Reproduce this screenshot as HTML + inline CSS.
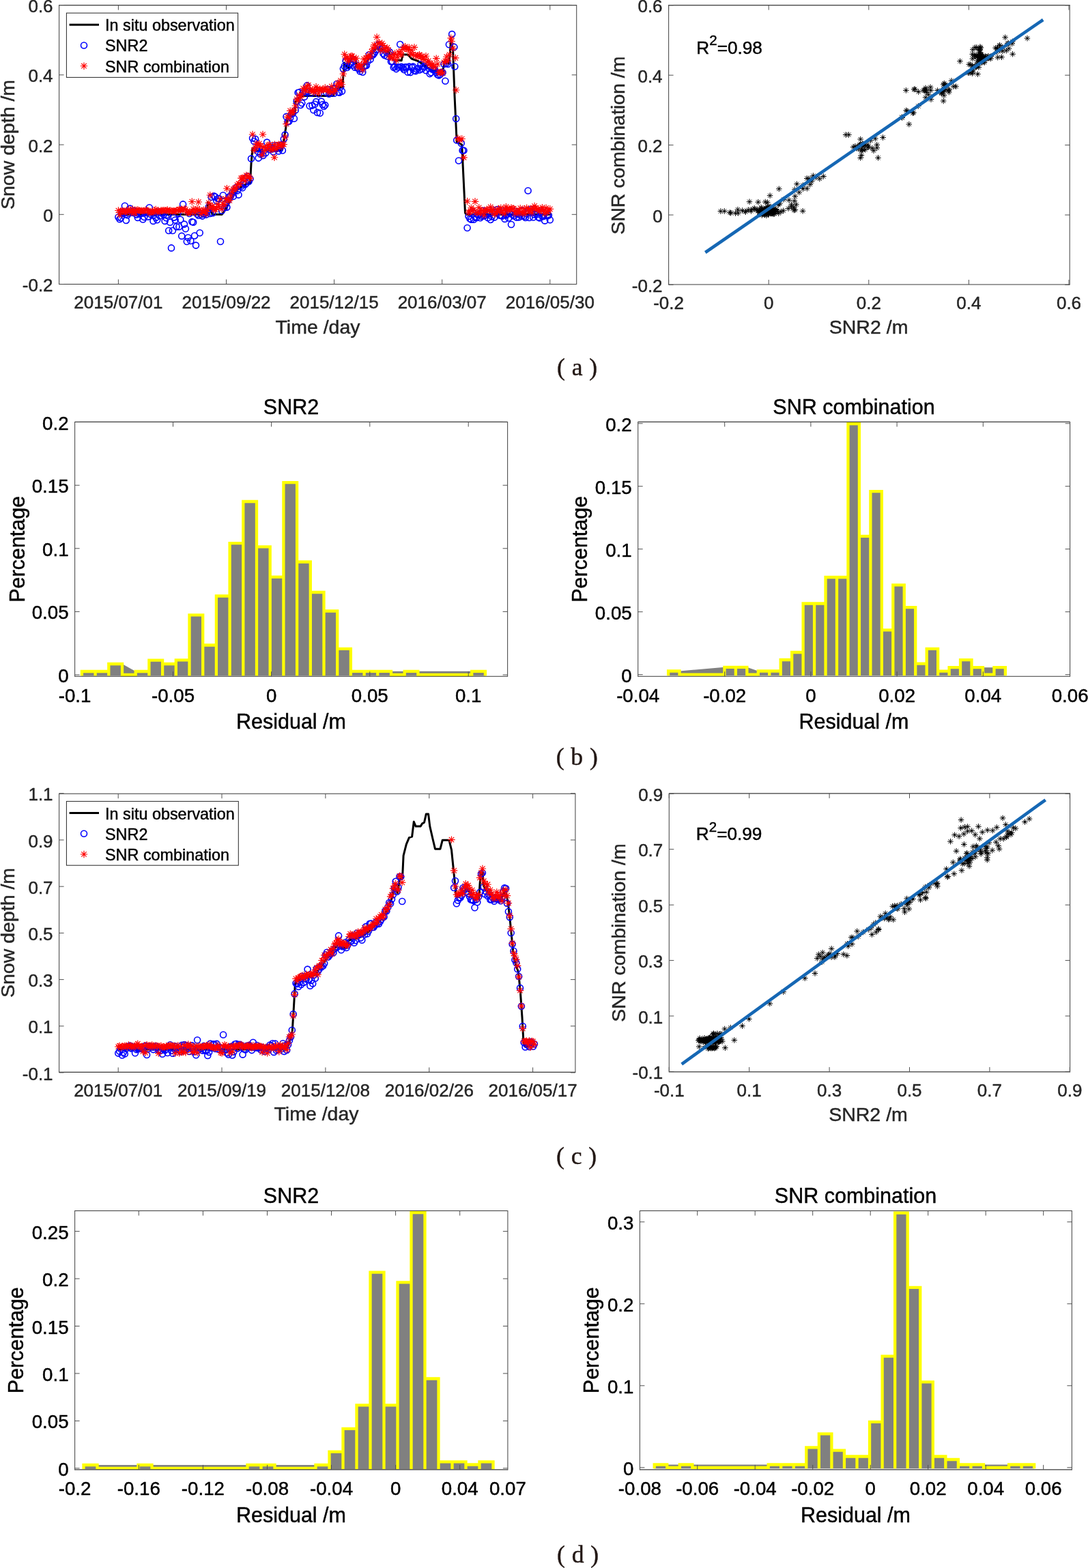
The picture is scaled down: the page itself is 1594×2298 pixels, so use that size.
<!DOCTYPE html>
<html lang="en"><head><meta charset="utf-8"><title>Snow depth figure</title>
<style>
html,body{margin:0;padding:0;background:#fff;overflow:hidden;}
svg{display:block;font-family:"Liberation Sans", Arial, Helvetica, sans-serif;}
text{stroke-width:0.45px;stroke-linejoin:round;}
</style></head>
<body>
<svg width="1594" height="2298" viewBox="0 0 1594 2298">
<rect width="1594" height="2298" fill="#fff"/>
<g>
<path d="M173.4 314.3L303.5 314.3L304.5 296.5L308.0 300.0L311.0 314.3L325.0 314.3L327.0 312.0L336.0 297.0L345.0 280.0L352.0 275.0L360.0 270.0L366.5 268.0L368.0 240.0L370.0 217.0L373.0 220.5L413.0 220.5L416.0 205.0L420.7 175.0L426.0 170.0L432.0 167.0L433.0 149.0L438.0 144.0L443.0 140.5L488.5 140.5L490.3 131.0L501.6 127.3L503.0 110.0L504.5 92.0L508.0 97.0L511.0 100.0L513.0 86.0L521.4 86.0L522.3 97.0L531.8 98.0L540.0 86.0L550.6 71.0L560.0 73.0L569.4 76.5L573.0 84.0L577.0 88.0L588.2 88.7L590.0 80.0L597.6 80.0L603.0 86.0L612.7 89.6L622.0 96.0L631.5 102.8L648.4 104.7L651.3 91.5L657.9 93.4L659.5 75.0L660.7 57.6L663.5 70.8L666.0 140.0L669.2 208.0L676.7 212.0L679.0 260.0L681.5 312.0L683.0 314.3L807.5 314.3" fill="none" stroke="#000" stroke-width="3" stroke-linejoin="round"/>
<path d="M168.9 318.2a4.5 4.5 0 1 0 9.0 0a4.5 4.5 0 1 0 -9.0 0M170.8 321.2a4.5 4.5 0 1 0 9.0 0a4.5 4.5 0 1 0 -9.0 0M172.7 319.3a4.5 4.5 0 1 0 9.0 0a4.5 4.5 0 1 0 -9.0 0M174.6 310.8a4.5 4.5 0 1 0 9.0 0a4.5 4.5 0 1 0 -9.0 0M176.5 312.8a4.5 4.5 0 1 0 9.0 0a4.5 4.5 0 1 0 -9.0 0M178.4 301.8a4.5 4.5 0 1 0 9.0 0a4.5 4.5 0 1 0 -9.0 0M180.3 323.0a4.5 4.5 0 1 0 9.0 0a4.5 4.5 0 1 0 -9.0 0M182.2 315.3a4.5 4.5 0 1 0 9.0 0a4.5 4.5 0 1 0 -9.0 0M184.0 312.7a4.5 4.5 0 1 0 9.0 0a4.5 4.5 0 1 0 -9.0 0M185.9 305.6a4.5 4.5 0 1 0 9.0 0a4.5 4.5 0 1 0 -9.0 0M187.8 310.4a4.5 4.5 0 1 0 9.0 0a4.5 4.5 0 1 0 -9.0 0M189.7 311.6a4.5 4.5 0 1 0 9.0 0a4.5 4.5 0 1 0 -9.0 0M191.6 308.9a4.5 4.5 0 1 0 9.0 0a4.5 4.5 0 1 0 -9.0 0M193.5 310.8a4.5 4.5 0 1 0 9.0 0a4.5 4.5 0 1 0 -9.0 0M195.4 314.6a4.5 4.5 0 1 0 9.0 0a4.5 4.5 0 1 0 -9.0 0M197.3 318.9a4.5 4.5 0 1 0 9.0 0a4.5 4.5 0 1 0 -9.0 0M199.2 313.7a4.5 4.5 0 1 0 9.0 0a4.5 4.5 0 1 0 -9.0 0M201.1 313.3a4.5 4.5 0 1 0 9.0 0a4.5 4.5 0 1 0 -9.0 0M203.0 312.4a4.5 4.5 0 1 0 9.0 0a4.5 4.5 0 1 0 -9.0 0M204.9 321.5a4.5 4.5 0 1 0 9.0 0a4.5 4.5 0 1 0 -9.0 0M206.8 318.1a4.5 4.5 0 1 0 9.0 0a4.5 4.5 0 1 0 -9.0 0M208.7 311.6a4.5 4.5 0 1 0 9.0 0a4.5 4.5 0 1 0 -9.0 0M210.6 310.1a4.5 4.5 0 1 0 9.0 0a4.5 4.5 0 1 0 -9.0 0M212.4 317.6a4.5 4.5 0 1 0 9.0 0a4.5 4.5 0 1 0 -9.0 0M214.3 304.2a4.5 4.5 0 1 0 9.0 0a4.5 4.5 0 1 0 -9.0 0M216.2 313.9a4.5 4.5 0 1 0 9.0 0a4.5 4.5 0 1 0 -9.0 0M218.1 311.6a4.5 4.5 0 1 0 9.0 0a4.5 4.5 0 1 0 -9.0 0M220.0 323.9a4.5 4.5 0 1 0 9.0 0a4.5 4.5 0 1 0 -9.0 0M221.9 312.2a4.5 4.5 0 1 0 9.0 0a4.5 4.5 0 1 0 -9.0 0M223.8 318.9a4.5 4.5 0 1 0 9.0 0a4.5 4.5 0 1 0 -9.0 0M225.7 322.2a4.5 4.5 0 1 0 9.0 0a4.5 4.5 0 1 0 -9.0 0M227.6 310.6a4.5 4.5 0 1 0 9.0 0a4.5 4.5 0 1 0 -9.0 0M229.5 316.5a4.5 4.5 0 1 0 9.0 0a4.5 4.5 0 1 0 -9.0 0M231.4 311.7a4.5 4.5 0 1 0 9.0 0a4.5 4.5 0 1 0 -9.0 0M233.3 311.7a4.5 4.5 0 1 0 9.0 0a4.5 4.5 0 1 0 -9.0 0M235.2 314.4a4.5 4.5 0 1 0 9.0 0a4.5 4.5 0 1 0 -9.0 0M237.1 323.9a4.5 4.5 0 1 0 9.0 0a4.5 4.5 0 1 0 -9.0 0M239.0 319.3a4.5 4.5 0 1 0 9.0 0a4.5 4.5 0 1 0 -9.0 0M240.8 315.0a4.5 4.5 0 1 0 9.0 0a4.5 4.5 0 1 0 -9.0 0M242.7 338.0a4.5 4.5 0 1 0 9.0 0a4.5 4.5 0 1 0 -9.0 0M244.6 325.7a4.5 4.5 0 1 0 9.0 0a4.5 4.5 0 1 0 -9.0 0M246.5 363.4a4.5 4.5 0 1 0 9.0 0a4.5 4.5 0 1 0 -9.0 0M248.4 338.0a4.5 4.5 0 1 0 9.0 0a4.5 4.5 0 1 0 -9.0 0M250.3 318.7a4.5 4.5 0 1 0 9.0 0a4.5 4.5 0 1 0 -9.0 0M252.2 322.5a4.5 4.5 0 1 0 9.0 0a4.5 4.5 0 1 0 -9.0 0M254.1 332.3a4.5 4.5 0 1 0 9.0 0a4.5 4.5 0 1 0 -9.0 0M256.0 312.6a4.5 4.5 0 1 0 9.0 0a4.5 4.5 0 1 0 -9.0 0M257.9 332.3a4.5 4.5 0 1 0 9.0 0a4.5 4.5 0 1 0 -9.0 0M259.8 321.8a4.5 4.5 0 1 0 9.0 0a4.5 4.5 0 1 0 -9.0 0M261.7 345.9a4.5 4.5 0 1 0 9.0 0a4.5 4.5 0 1 0 -9.0 0M263.6 299.4a4.5 4.5 0 1 0 9.0 0a4.5 4.5 0 1 0 -9.0 0M265.5 328.6a4.5 4.5 0 1 0 9.0 0a4.5 4.5 0 1 0 -9.0 0M267.4 335.2a4.5 4.5 0 1 0 9.0 0a4.5 4.5 0 1 0 -9.0 0M269.3 354.0a4.5 4.5 0 1 0 9.0 0a4.5 4.5 0 1 0 -9.0 0M271.1 348.3a4.5 4.5 0 1 0 9.0 0a4.5 4.5 0 1 0 -9.0 0M273.0 313.0a4.5 4.5 0 1 0 9.0 0a4.5 4.5 0 1 0 -9.0 0M274.9 353.0a4.5 4.5 0 1 0 9.0 0a4.5 4.5 0 1 0 -9.0 0M276.8 325.1a4.5 4.5 0 1 0 9.0 0a4.5 4.5 0 1 0 -9.0 0M278.7 325.8a4.5 4.5 0 1 0 9.0 0a4.5 4.5 0 1 0 -9.0 0M280.6 345.5a4.5 4.5 0 1 0 9.0 0a4.5 4.5 0 1 0 -9.0 0M282.5 359.6a4.5 4.5 0 1 0 9.0 0a4.5 4.5 0 1 0 -9.0 0M284.4 313.7a4.5 4.5 0 1 0 9.0 0a4.5 4.5 0 1 0 -9.0 0M286.3 315.7a4.5 4.5 0 1 0 9.0 0a4.5 4.5 0 1 0 -9.0 0M288.2 341.2a4.5 4.5 0 1 0 9.0 0a4.5 4.5 0 1 0 -9.0 0M290.1 314.2a4.5 4.5 0 1 0 9.0 0a4.5 4.5 0 1 0 -9.0 0M292.0 316.6a4.5 4.5 0 1 0 9.0 0a4.5 4.5 0 1 0 -9.0 0M293.9 313.6a4.5 4.5 0 1 0 9.0 0a4.5 4.5 0 1 0 -9.0 0M295.8 312.7a4.5 4.5 0 1 0 9.0 0a4.5 4.5 0 1 0 -9.0 0M297.7 314.6a4.5 4.5 0 1 0 9.0 0a4.5 4.5 0 1 0 -9.0 0M299.5 310.0a4.5 4.5 0 1 0 9.0 0a4.5 4.5 0 1 0 -9.0 0M301.4 302.9a4.5 4.5 0 1 0 9.0 0a4.5 4.5 0 1 0 -9.0 0M303.3 313.0a4.5 4.5 0 1 0 9.0 0a4.5 4.5 0 1 0 -9.0 0M305.2 288.7a4.5 4.5 0 1 0 9.0 0a4.5 4.5 0 1 0 -9.0 0M307.1 312.3a4.5 4.5 0 1 0 9.0 0a4.5 4.5 0 1 0 -9.0 0M309.0 287.3a4.5 4.5 0 1 0 9.0 0a4.5 4.5 0 1 0 -9.0 0M310.9 288.4a4.5 4.5 0 1 0 9.0 0a4.5 4.5 0 1 0 -9.0 0M312.8 294.2a4.5 4.5 0 1 0 9.0 0a4.5 4.5 0 1 0 -9.0 0M314.7 291.0a4.5 4.5 0 1 0 9.0 0a4.5 4.5 0 1 0 -9.0 0M316.6 291.2a4.5 4.5 0 1 0 9.0 0a4.5 4.5 0 1 0 -9.0 0M318.5 354.0a4.5 4.5 0 1 0 9.0 0a4.5 4.5 0 1 0 -9.0 0M320.4 308.8a4.5 4.5 0 1 0 9.0 0a4.5 4.5 0 1 0 -9.0 0M322.3 286.2a4.5 4.5 0 1 0 9.0 0a4.5 4.5 0 1 0 -9.0 0M324.2 304.4a4.5 4.5 0 1 0 9.0 0a4.5 4.5 0 1 0 -9.0 0M326.1 299.0a4.5 4.5 0 1 0 9.0 0a4.5 4.5 0 1 0 -9.0 0M327.9 303.8a4.5 4.5 0 1 0 9.0 0a4.5 4.5 0 1 0 -9.0 0M329.8 293.5a4.5 4.5 0 1 0 9.0 0a4.5 4.5 0 1 0 -9.0 0M331.7 288.0a4.5 4.5 0 1 0 9.0 0a4.5 4.5 0 1 0 -9.0 0M333.6 287.3a4.5 4.5 0 1 0 9.0 0a4.5 4.5 0 1 0 -9.0 0M335.5 283.2a4.5 4.5 0 1 0 9.0 0a4.5 4.5 0 1 0 -9.0 0M337.4 287.7a4.5 4.5 0 1 0 9.0 0a4.5 4.5 0 1 0 -9.0 0M339.3 279.3a4.5 4.5 0 1 0 9.0 0a4.5 4.5 0 1 0 -9.0 0M341.2 275.1a4.5 4.5 0 1 0 9.0 0a4.5 4.5 0 1 0 -9.0 0M343.1 279.4a4.5 4.5 0 1 0 9.0 0a4.5 4.5 0 1 0 -9.0 0M345.0 285.6a4.5 4.5 0 1 0 9.0 0a4.5 4.5 0 1 0 -9.0 0M346.9 272.0a4.5 4.5 0 1 0 9.0 0a4.5 4.5 0 1 0 -9.0 0M348.8 273.2a4.5 4.5 0 1 0 9.0 0a4.5 4.5 0 1 0 -9.0 0M350.7 275.2a4.5 4.5 0 1 0 9.0 0a4.5 4.5 0 1 0 -9.0 0M352.6 269.1a4.5 4.5 0 1 0 9.0 0a4.5 4.5 0 1 0 -9.0 0M354.5 270.4a4.5 4.5 0 1 0 9.0 0a4.5 4.5 0 1 0 -9.0 0M356.3 268.8a4.5 4.5 0 1 0 9.0 0a4.5 4.5 0 1 0 -9.0 0M358.2 258.3a4.5 4.5 0 1 0 9.0 0a4.5 4.5 0 1 0 -9.0 0M360.1 265.9a4.5 4.5 0 1 0 9.0 0a4.5 4.5 0 1 0 -9.0 0M362.0 262.3a4.5 4.5 0 1 0 9.0 0a4.5 4.5 0 1 0 -9.0 0M367.7 207.0a4.5 4.5 0 1 0 9.0 0a4.5 4.5 0 1 0 -9.0 0M369.6 203.7a4.5 4.5 0 1 0 9.0 0a4.5 4.5 0 1 0 -9.0 0M371.5 217.6a4.5 4.5 0 1 0 9.0 0a4.5 4.5 0 1 0 -9.0 0M373.4 221.9a4.5 4.5 0 1 0 9.0 0a4.5 4.5 0 1 0 -9.0 0M375.3 218.3a4.5 4.5 0 1 0 9.0 0a4.5 4.5 0 1 0 -9.0 0M377.2 225.9a4.5 4.5 0 1 0 9.0 0a4.5 4.5 0 1 0 -9.0 0M379.1 219.6a4.5 4.5 0 1 0 9.0 0a4.5 4.5 0 1 0 -9.0 0M381.0 227.9a4.5 4.5 0 1 0 9.0 0a4.5 4.5 0 1 0 -9.0 0M382.9 219.9a4.5 4.5 0 1 0 9.0 0a4.5 4.5 0 1 0 -9.0 0M384.7 224.2a4.5 4.5 0 1 0 9.0 0a4.5 4.5 0 1 0 -9.0 0M386.6 208.6a4.5 4.5 0 1 0 9.0 0a4.5 4.5 0 1 0 -9.0 0M388.5 216.2a4.5 4.5 0 1 0 9.0 0a4.5 4.5 0 1 0 -9.0 0M390.4 219.2a4.5 4.5 0 1 0 9.0 0a4.5 4.5 0 1 0 -9.0 0M392.3 215.7a4.5 4.5 0 1 0 9.0 0a4.5 4.5 0 1 0 -9.0 0M394.2 218.4a4.5 4.5 0 1 0 9.0 0a4.5 4.5 0 1 0 -9.0 0M396.1 222.5a4.5 4.5 0 1 0 9.0 0a4.5 4.5 0 1 0 -9.0 0M398.0 213.2a4.5 4.5 0 1 0 9.0 0a4.5 4.5 0 1 0 -9.0 0M399.9 218.2a4.5 4.5 0 1 0 9.0 0a4.5 4.5 0 1 0 -9.0 0M401.8 213.2a4.5 4.5 0 1 0 9.0 0a4.5 4.5 0 1 0 -9.0 0M403.7 221.5a4.5 4.5 0 1 0 9.0 0a4.5 4.5 0 1 0 -9.0 0M405.6 217.5a4.5 4.5 0 1 0 9.0 0a4.5 4.5 0 1 0 -9.0 0M407.5 212.4a4.5 4.5 0 1 0 9.0 0a4.5 4.5 0 1 0 -9.0 0M409.4 220.5a4.5 4.5 0 1 0 9.0 0a4.5 4.5 0 1 0 -9.0 0M411.3 203.7a4.5 4.5 0 1 0 9.0 0a4.5 4.5 0 1 0 -9.0 0M413.1 197.6a4.5 4.5 0 1 0 9.0 0a4.5 4.5 0 1 0 -9.0 0M415.0 170.9a4.5 4.5 0 1 0 9.0 0a4.5 4.5 0 1 0 -9.0 0M416.9 178.4a4.5 4.5 0 1 0 9.0 0a4.5 4.5 0 1 0 -9.0 0M418.8 177.9a4.5 4.5 0 1 0 9.0 0a4.5 4.5 0 1 0 -9.0 0M420.7 172.8a4.5 4.5 0 1 0 9.0 0a4.5 4.5 0 1 0 -9.0 0M422.6 167.1a4.5 4.5 0 1 0 9.0 0a4.5 4.5 0 1 0 -9.0 0M424.5 166.3a4.5 4.5 0 1 0 9.0 0a4.5 4.5 0 1 0 -9.0 0M426.4 173.8a4.5 4.5 0 1 0 9.0 0a4.5 4.5 0 1 0 -9.0 0M428.3 161.5a4.5 4.5 0 1 0 9.0 0a4.5 4.5 0 1 0 -9.0 0M430.2 148.4a4.5 4.5 0 1 0 9.0 0a4.5 4.5 0 1 0 -9.0 0M432.1 135.8a4.5 4.5 0 1 0 9.0 0a4.5 4.5 0 1 0 -9.0 0M434.0 135.2a4.5 4.5 0 1 0 9.0 0a4.5 4.5 0 1 0 -9.0 0M435.9 154.0a4.5 4.5 0 1 0 9.0 0a4.5 4.5 0 1 0 -9.0 0M437.8 151.0a4.5 4.5 0 1 0 9.0 0a4.5 4.5 0 1 0 -9.0 0M439.7 135.3a4.5 4.5 0 1 0 9.0 0a4.5 4.5 0 1 0 -9.0 0M441.5 141.9a4.5 4.5 0 1 0 9.0 0a4.5 4.5 0 1 0 -9.0 0M443.4 135.3a4.5 4.5 0 1 0 9.0 0a4.5 4.5 0 1 0 -9.0 0M445.3 125.4a4.5 4.5 0 1 0 9.0 0a4.5 4.5 0 1 0 -9.0 0M447.2 133.8a4.5 4.5 0 1 0 9.0 0a4.5 4.5 0 1 0 -9.0 0M449.1 155.3a4.5 4.5 0 1 0 9.0 0a4.5 4.5 0 1 0 -9.0 0M451.0 136.7a4.5 4.5 0 1 0 9.0 0a4.5 4.5 0 1 0 -9.0 0M452.9 154.6a4.5 4.5 0 1 0 9.0 0a4.5 4.5 0 1 0 -9.0 0M454.8 161.2a4.5 4.5 0 1 0 9.0 0a4.5 4.5 0 1 0 -9.0 0M456.7 152.8a4.5 4.5 0 1 0 9.0 0a4.5 4.5 0 1 0 -9.0 0M458.6 149.1a4.5 4.5 0 1 0 9.0 0a4.5 4.5 0 1 0 -9.0 0M460.5 164.9a4.5 4.5 0 1 0 9.0 0a4.5 4.5 0 1 0 -9.0 0M462.4 137.7a4.5 4.5 0 1 0 9.0 0a4.5 4.5 0 1 0 -9.0 0M464.3 165.8a4.5 4.5 0 1 0 9.0 0a4.5 4.5 0 1 0 -9.0 0M466.2 148.6a4.5 4.5 0 1 0 9.0 0a4.5 4.5 0 1 0 -9.0 0M468.1 153.2a4.5 4.5 0 1 0 9.0 0a4.5 4.5 0 1 0 -9.0 0M470.0 156.0a4.5 4.5 0 1 0 9.0 0a4.5 4.5 0 1 0 -9.0 0M471.8 154.1a4.5 4.5 0 1 0 9.0 0a4.5 4.5 0 1 0 -9.0 0M473.7 135.5a4.5 4.5 0 1 0 9.0 0a4.5 4.5 0 1 0 -9.0 0M475.6 130.9a4.5 4.5 0 1 0 9.0 0a4.5 4.5 0 1 0 -9.0 0M477.5 137.8a4.5 4.5 0 1 0 9.0 0a4.5 4.5 0 1 0 -9.0 0M479.4 135.9a4.5 4.5 0 1 0 9.0 0a4.5 4.5 0 1 0 -9.0 0M481.3 133.1a4.5 4.5 0 1 0 9.0 0a4.5 4.5 0 1 0 -9.0 0M483.2 130.1a4.5 4.5 0 1 0 9.0 0a4.5 4.5 0 1 0 -9.0 0M485.1 136.7a4.5 4.5 0 1 0 9.0 0a4.5 4.5 0 1 0 -9.0 0M487.0 129.8a4.5 4.5 0 1 0 9.0 0a4.5 4.5 0 1 0 -9.0 0M488.9 123.0a4.5 4.5 0 1 0 9.0 0a4.5 4.5 0 1 0 -9.0 0M490.8 135.0a4.5 4.5 0 1 0 9.0 0a4.5 4.5 0 1 0 -9.0 0M492.7 135.7a4.5 4.5 0 1 0 9.0 0a4.5 4.5 0 1 0 -9.0 0M494.6 127.5a4.5 4.5 0 1 0 9.0 0a4.5 4.5 0 1 0 -9.0 0M496.5 133.8a4.5 4.5 0 1 0 9.0 0a4.5 4.5 0 1 0 -9.0 0M498.4 100.7a4.5 4.5 0 1 0 9.0 0a4.5 4.5 0 1 0 -9.0 0M500.2 96.9a4.5 4.5 0 1 0 9.0 0a4.5 4.5 0 1 0 -9.0 0M502.1 89.2a4.5 4.5 0 1 0 9.0 0a4.5 4.5 0 1 0 -9.0 0M504.0 99.0a4.5 4.5 0 1 0 9.0 0a4.5 4.5 0 1 0 -9.0 0M505.9 96.5a4.5 4.5 0 1 0 9.0 0a4.5 4.5 0 1 0 -9.0 0M507.8 92.7a4.5 4.5 0 1 0 9.0 0a4.5 4.5 0 1 0 -9.0 0M509.7 93.0a4.5 4.5 0 1 0 9.0 0a4.5 4.5 0 1 0 -9.0 0M511.6 95.5a4.5 4.5 0 1 0 9.0 0a4.5 4.5 0 1 0 -9.0 0M513.5 87.5a4.5 4.5 0 1 0 9.0 0a4.5 4.5 0 1 0 -9.0 0M515.4 98.8a4.5 4.5 0 1 0 9.0 0a4.5 4.5 0 1 0 -9.0 0M517.3 95.0a4.5 4.5 0 1 0 9.0 0a4.5 4.5 0 1 0 -9.0 0M519.2 99.7a4.5 4.5 0 1 0 9.0 0a4.5 4.5 0 1 0 -9.0 0M521.1 101.3a4.5 4.5 0 1 0 9.0 0a4.5 4.5 0 1 0 -9.0 0M523.0 104.4a4.5 4.5 0 1 0 9.0 0a4.5 4.5 0 1 0 -9.0 0M524.9 100.8a4.5 4.5 0 1 0 9.0 0a4.5 4.5 0 1 0 -9.0 0M526.8 105.7a4.5 4.5 0 1 0 9.0 0a4.5 4.5 0 1 0 -9.0 0M528.6 97.2a4.5 4.5 0 1 0 9.0 0a4.5 4.5 0 1 0 -9.0 0M530.5 96.4a4.5 4.5 0 1 0 9.0 0a4.5 4.5 0 1 0 -9.0 0M532.4 96.0a4.5 4.5 0 1 0 9.0 0a4.5 4.5 0 1 0 -9.0 0M534.3 89.9a4.5 4.5 0 1 0 9.0 0a4.5 4.5 0 1 0 -9.0 0M536.2 80.3a4.5 4.5 0 1 0 9.0 0a4.5 4.5 0 1 0 -9.0 0M538.1 87.0a4.5 4.5 0 1 0 9.0 0a4.5 4.5 0 1 0 -9.0 0M540.0 81.4a4.5 4.5 0 1 0 9.0 0a4.5 4.5 0 1 0 -9.0 0M541.9 80.5a4.5 4.5 0 1 0 9.0 0a4.5 4.5 0 1 0 -9.0 0M543.8 78.2a4.5 4.5 0 1 0 9.0 0a4.5 4.5 0 1 0 -9.0 0M545.7 75.3a4.5 4.5 0 1 0 9.0 0a4.5 4.5 0 1 0 -9.0 0M547.6 72.6a4.5 4.5 0 1 0 9.0 0a4.5 4.5 0 1 0 -9.0 0M549.5 65.6a4.5 4.5 0 1 0 9.0 0a4.5 4.5 0 1 0 -9.0 0M551.4 69.3a4.5 4.5 0 1 0 9.0 0a4.5 4.5 0 1 0 -9.0 0M553.3 71.5a4.5 4.5 0 1 0 9.0 0a4.5 4.5 0 1 0 -9.0 0M555.2 70.3a4.5 4.5 0 1 0 9.0 0a4.5 4.5 0 1 0 -9.0 0M557.0 78.5a4.5 4.5 0 1 0 9.0 0a4.5 4.5 0 1 0 -9.0 0M558.9 81.1a4.5 4.5 0 1 0 9.0 0a4.5 4.5 0 1 0 -9.0 0M560.8 75.3a4.5 4.5 0 1 0 9.0 0a4.5 4.5 0 1 0 -9.0 0M562.7 82.5a4.5 4.5 0 1 0 9.0 0a4.5 4.5 0 1 0 -9.0 0M564.6 78.3a4.5 4.5 0 1 0 9.0 0a4.5 4.5 0 1 0 -9.0 0M566.5 76.3a4.5 4.5 0 1 0 9.0 0a4.5 4.5 0 1 0 -9.0 0M568.4 90.3a4.5 4.5 0 1 0 9.0 0a4.5 4.5 0 1 0 -9.0 0M570.3 89.9a4.5 4.5 0 1 0 9.0 0a4.5 4.5 0 1 0 -9.0 0M572.2 98.8a4.5 4.5 0 1 0 9.0 0a4.5 4.5 0 1 0 -9.0 0M574.1 98.1a4.5 4.5 0 1 0 9.0 0a4.5 4.5 0 1 0 -9.0 0M576.0 101.1a4.5 4.5 0 1 0 9.0 0a4.5 4.5 0 1 0 -9.0 0M577.9 98.2a4.5 4.5 0 1 0 9.0 0a4.5 4.5 0 1 0 -9.0 0M579.8 98.5a4.5 4.5 0 1 0 9.0 0a4.5 4.5 0 1 0 -9.0 0M581.7 65.0a4.5 4.5 0 1 0 9.0 0a4.5 4.5 0 1 0 -9.0 0M583.6 97.9a4.5 4.5 0 1 0 9.0 0a4.5 4.5 0 1 0 -9.0 0M585.4 99.6a4.5 4.5 0 1 0 9.0 0a4.5 4.5 0 1 0 -9.0 0M587.3 102.1a4.5 4.5 0 1 0 9.0 0a4.5 4.5 0 1 0 -9.0 0M589.2 98.3a4.5 4.5 0 1 0 9.0 0a4.5 4.5 0 1 0 -9.0 0M591.1 98.4a4.5 4.5 0 1 0 9.0 0a4.5 4.5 0 1 0 -9.0 0M593.0 105.7a4.5 4.5 0 1 0 9.0 0a4.5 4.5 0 1 0 -9.0 0M594.9 97.6a4.5 4.5 0 1 0 9.0 0a4.5 4.5 0 1 0 -9.0 0M596.8 106.1a4.5 4.5 0 1 0 9.0 0a4.5 4.5 0 1 0 -9.0 0M598.7 98.6a4.5 4.5 0 1 0 9.0 0a4.5 4.5 0 1 0 -9.0 0M600.6 97.6a4.5 4.5 0 1 0 9.0 0a4.5 4.5 0 1 0 -9.0 0M602.5 103.5a4.5 4.5 0 1 0 9.0 0a4.5 4.5 0 1 0 -9.0 0M604.4 104.2a4.5 4.5 0 1 0 9.0 0a4.5 4.5 0 1 0 -9.0 0M606.3 101.4a4.5 4.5 0 1 0 9.0 0a4.5 4.5 0 1 0 -9.0 0M608.2 100.0a4.5 4.5 0 1 0 9.0 0a4.5 4.5 0 1 0 -9.0 0M610.1 102.4a4.5 4.5 0 1 0 9.0 0a4.5 4.5 0 1 0 -9.0 0M612.0 94.4a4.5 4.5 0 1 0 9.0 0a4.5 4.5 0 1 0 -9.0 0M613.8 101.1a4.5 4.5 0 1 0 9.0 0a4.5 4.5 0 1 0 -9.0 0M615.7 97.7a4.5 4.5 0 1 0 9.0 0a4.5 4.5 0 1 0 -9.0 0M617.6 97.9a4.5 4.5 0 1 0 9.0 0a4.5 4.5 0 1 0 -9.0 0M619.5 103.3a4.5 4.5 0 1 0 9.0 0a4.5 4.5 0 1 0 -9.0 0M621.4 96.5a4.5 4.5 0 1 0 9.0 0a4.5 4.5 0 1 0 -9.0 0M623.3 99.8a4.5 4.5 0 1 0 9.0 0a4.5 4.5 0 1 0 -9.0 0M625.2 108.1a4.5 4.5 0 1 0 9.0 0a4.5 4.5 0 1 0 -9.0 0M627.1 106.2a4.5 4.5 0 1 0 9.0 0a4.5 4.5 0 1 0 -9.0 0M629.0 101.8a4.5 4.5 0 1 0 9.0 0a4.5 4.5 0 1 0 -9.0 0M630.9 102.2a4.5 4.5 0 1 0 9.0 0a4.5 4.5 0 1 0 -9.0 0M632.8 102.7a4.5 4.5 0 1 0 9.0 0a4.5 4.5 0 1 0 -9.0 0M634.7 106.0a4.5 4.5 0 1 0 9.0 0a4.5 4.5 0 1 0 -9.0 0M636.6 109.5a4.5 4.5 0 1 0 9.0 0a4.5 4.5 0 1 0 -9.0 0M638.5 110.4a4.5 4.5 0 1 0 9.0 0a4.5 4.5 0 1 0 -9.0 0M640.4 109.3a4.5 4.5 0 1 0 9.0 0a4.5 4.5 0 1 0 -9.0 0M642.2 106.0a4.5 4.5 0 1 0 9.0 0a4.5 4.5 0 1 0 -9.0 0M644.1 106.3a4.5 4.5 0 1 0 9.0 0a4.5 4.5 0 1 0 -9.0 0M646.0 94.0a4.5 4.5 0 1 0 9.0 0a4.5 4.5 0 1 0 -9.0 0M647.9 118.8a4.5 4.5 0 1 0 9.0 0a4.5 4.5 0 1 0 -9.0 0M649.8 92.4a4.5 4.5 0 1 0 9.0 0a4.5 4.5 0 1 0 -9.0 0M651.7 93.9a4.5 4.5 0 1 0 9.0 0a4.5 4.5 0 1 0 -9.0 0M680.1 334.0a4.5 4.5 0 1 0 9.0 0a4.5 4.5 0 1 0 -9.0 0M682.0 316.9a4.5 4.5 0 1 0 9.0 0a4.5 4.5 0 1 0 -9.0 0M683.9 320.6a4.5 4.5 0 1 0 9.0 0a4.5 4.5 0 1 0 -9.0 0M685.8 321.8a4.5 4.5 0 1 0 9.0 0a4.5 4.5 0 1 0 -9.0 0M687.7 310.3a4.5 4.5 0 1 0 9.0 0a4.5 4.5 0 1 0 -9.0 0M689.6 321.7a4.5 4.5 0 1 0 9.0 0a4.5 4.5 0 1 0 -9.0 0M691.5 317.8a4.5 4.5 0 1 0 9.0 0a4.5 4.5 0 1 0 -9.0 0M693.4 319.2a4.5 4.5 0 1 0 9.0 0a4.5 4.5 0 1 0 -9.0 0M695.3 314.5a4.5 4.5 0 1 0 9.0 0a4.5 4.5 0 1 0 -9.0 0M697.2 315.0a4.5 4.5 0 1 0 9.0 0a4.5 4.5 0 1 0 -9.0 0M699.1 319.3a4.5 4.5 0 1 0 9.0 0a4.5 4.5 0 1 0 -9.0 0M700.9 316.9a4.5 4.5 0 1 0 9.0 0a4.5 4.5 0 1 0 -9.0 0M702.8 308.9a4.5 4.5 0 1 0 9.0 0a4.5 4.5 0 1 0 -9.0 0M704.7 316.6a4.5 4.5 0 1 0 9.0 0a4.5 4.5 0 1 0 -9.0 0M706.6 315.4a4.5 4.5 0 1 0 9.0 0a4.5 4.5 0 1 0 -9.0 0M708.5 312.4a4.5 4.5 0 1 0 9.0 0a4.5 4.5 0 1 0 -9.0 0M710.4 319.2a4.5 4.5 0 1 0 9.0 0a4.5 4.5 0 1 0 -9.0 0M712.3 313.0a4.5 4.5 0 1 0 9.0 0a4.5 4.5 0 1 0 -9.0 0M714.2 322.0a4.5 4.5 0 1 0 9.0 0a4.5 4.5 0 1 0 -9.0 0M716.1 317.5a4.5 4.5 0 1 0 9.0 0a4.5 4.5 0 1 0 -9.0 0M718.0 307.7a4.5 4.5 0 1 0 9.0 0a4.5 4.5 0 1 0 -9.0 0M719.9 318.4a4.5 4.5 0 1 0 9.0 0a4.5 4.5 0 1 0 -9.0 0M721.8 311.8a4.5 4.5 0 1 0 9.0 0a4.5 4.5 0 1 0 -9.0 0M723.7 307.0a4.5 4.5 0 1 0 9.0 0a4.5 4.5 0 1 0 -9.0 0M725.6 311.2a4.5 4.5 0 1 0 9.0 0a4.5 4.5 0 1 0 -9.0 0M727.5 315.6a4.5 4.5 0 1 0 9.0 0a4.5 4.5 0 1 0 -9.0 0M729.3 315.9a4.5 4.5 0 1 0 9.0 0a4.5 4.5 0 1 0 -9.0 0M731.2 316.8a4.5 4.5 0 1 0 9.0 0a4.5 4.5 0 1 0 -9.0 0M733.1 309.2a4.5 4.5 0 1 0 9.0 0a4.5 4.5 0 1 0 -9.0 0M735.0 320.9a4.5 4.5 0 1 0 9.0 0a4.5 4.5 0 1 0 -9.0 0M736.9 315.6a4.5 4.5 0 1 0 9.0 0a4.5 4.5 0 1 0 -9.0 0M738.8 313.9a4.5 4.5 0 1 0 9.0 0a4.5 4.5 0 1 0 -9.0 0M740.7 319.5a4.5 4.5 0 1 0 9.0 0a4.5 4.5 0 1 0 -9.0 0M742.6 312.9a4.5 4.5 0 1 0 9.0 0a4.5 4.5 0 1 0 -9.0 0M744.5 329.0a4.5 4.5 0 1 0 9.0 0a4.5 4.5 0 1 0 -9.0 0M746.4 314.5a4.5 4.5 0 1 0 9.0 0a4.5 4.5 0 1 0 -9.0 0M748.3 316.4a4.5 4.5 0 1 0 9.0 0a4.5 4.5 0 1 0 -9.0 0M750.2 309.7a4.5 4.5 0 1 0 9.0 0a4.5 4.5 0 1 0 -9.0 0M752.1 318.6a4.5 4.5 0 1 0 9.0 0a4.5 4.5 0 1 0 -9.0 0M754.0 313.9a4.5 4.5 0 1 0 9.0 0a4.5 4.5 0 1 0 -9.0 0M755.9 318.4a4.5 4.5 0 1 0 9.0 0a4.5 4.5 0 1 0 -9.0 0M757.7 314.7a4.5 4.5 0 1 0 9.0 0a4.5 4.5 0 1 0 -9.0 0M759.6 316.7a4.5 4.5 0 1 0 9.0 0a4.5 4.5 0 1 0 -9.0 0M761.5 308.6a4.5 4.5 0 1 0 9.0 0a4.5 4.5 0 1 0 -9.0 0M763.4 316.9a4.5 4.5 0 1 0 9.0 0a4.5 4.5 0 1 0 -9.0 0M765.3 318.9a4.5 4.5 0 1 0 9.0 0a4.5 4.5 0 1 0 -9.0 0M767.2 313.5a4.5 4.5 0 1 0 9.0 0a4.5 4.5 0 1 0 -9.0 0M769.1 279.5a4.5 4.5 0 1 0 9.0 0a4.5 4.5 0 1 0 -9.0 0M771.0 319.0a4.5 4.5 0 1 0 9.0 0a4.5 4.5 0 1 0 -9.0 0M772.9 307.0a4.5 4.5 0 1 0 9.0 0a4.5 4.5 0 1 0 -9.0 0M774.8 311.6a4.5 4.5 0 1 0 9.0 0a4.5 4.5 0 1 0 -9.0 0M776.7 318.5a4.5 4.5 0 1 0 9.0 0a4.5 4.5 0 1 0 -9.0 0M778.6 314.4a4.5 4.5 0 1 0 9.0 0a4.5 4.5 0 1 0 -9.0 0M780.5 313.1a4.5 4.5 0 1 0 9.0 0a4.5 4.5 0 1 0 -9.0 0M782.4 314.1a4.5 4.5 0 1 0 9.0 0a4.5 4.5 0 1 0 -9.0 0M784.3 318.6a4.5 4.5 0 1 0 9.0 0a4.5 4.5 0 1 0 -9.0 0M786.1 319.4a4.5 4.5 0 1 0 9.0 0a4.5 4.5 0 1 0 -9.0 0M788.0 310.3a4.5 4.5 0 1 0 9.0 0a4.5 4.5 0 1 0 -9.0 0M789.9 317.1a4.5 4.5 0 1 0 9.0 0a4.5 4.5 0 1 0 -9.0 0M791.8 317.1a4.5 4.5 0 1 0 9.0 0a4.5 4.5 0 1 0 -9.0 0M793.7 323.4a4.5 4.5 0 1 0 9.0 0a4.5 4.5 0 1 0 -9.0 0M795.6 310.5a4.5 4.5 0 1 0 9.0 0a4.5 4.5 0 1 0 -9.0 0M797.5 316.5a4.5 4.5 0 1 0 9.0 0a4.5 4.5 0 1 0 -9.0 0M799.4 315.4a4.5 4.5 0 1 0 9.0 0a4.5 4.5 0 1 0 -9.0 0M801.3 322.2a4.5 4.5 0 1 0 9.0 0a4.5 4.5 0 1 0 -9.0 0M657.7 50.1a4.5 4.5 0 1 0 9.0 0a4.5 4.5 0 1 0 -9.0 0M653.4 65.2a4.5 4.5 0 1 0 9.0 0a4.5 4.5 0 1 0 -9.0 0M660.9 68.9a4.5 4.5 0 1 0 9.0 0a4.5 4.5 0 1 0 -9.0 0M661.8 97.5a4.5 4.5 0 1 0 9.0 0a4.5 4.5 0 1 0 -9.0 0M663.7 174.0a4.5 4.5 0 1 0 9.0 0a4.5 4.5 0 1 0 -9.0 0M664.7 205.4a4.5 4.5 0 1 0 9.0 0a4.5 4.5 0 1 0 -9.0 0M671.2 210.1a4.5 4.5 0 1 0 9.0 0a4.5 4.5 0 1 0 -9.0 0M673.1 220.5a4.5 4.5 0 1 0 9.0 0a4.5 4.5 0 1 0 -9.0 0M675.0 220.5a4.5 4.5 0 1 0 9.0 0a4.5 4.5 0 1 0 -9.0 0M667.5 235.5a4.5 4.5 0 1 0 9.0 0a4.5 4.5 0 1 0 -9.0 0M363.5 232.6a4.5 4.5 0 1 0 9.0 0a4.5 4.5 0 1 0 -9.0 0M365.5 202.5a4.5 4.5 0 1 0 9.0 0a4.5 4.5 0 1 0 -9.0 0M374.2 231.6a4.5 4.5 0 1 0 9.0 0a4.5 4.5 0 1 0 -9.0 0" fill="none" stroke="#0000ff" stroke-width="1.6"/>
<path d="M168.2 308.5h10.4M173.4 303.3v10.4M169.7 304.8l7.4 7.4M169.7 312.2l7.4 -7.4M170.1 314.7h10.4M175.3 309.5v10.4M171.6 311.1l7.4 7.4M171.6 318.4l7.4 -7.4M172.0 309.3h10.4M177.2 304.1v10.4M173.5 305.6l7.4 7.4M173.5 313.0l7.4 -7.4M173.9 309.0h10.4M179.1 303.8v10.4M175.4 305.3l7.4 7.4M175.4 312.7l7.4 -7.4M175.8 309.3h10.4M181.0 304.1v10.4M177.3 305.7l7.4 7.4M177.3 313.0l7.4 -7.4M177.7 309.5h10.4M182.9 304.3v10.4M179.2 305.8l7.4 7.4M179.2 313.2l7.4 -7.4M179.6 309.5h10.4M184.8 304.3v10.4M181.1 305.8l7.4 7.4M181.1 313.2l7.4 -7.4M181.5 311.3h10.4M186.7 306.1v10.4M183.0 307.6l7.4 7.4M183.0 315.0l7.4 -7.4M183.3 306.8h10.4M188.5 301.6v10.4M184.9 303.2l7.4 7.4M184.9 310.5l7.4 -7.4M185.2 308.7h10.4M190.4 303.5v10.4M186.8 305.0l7.4 7.4M186.8 312.3l7.4 -7.4M187.1 311.1h10.4M192.3 305.9v10.4M188.7 307.4l7.4 7.4M188.7 314.8l7.4 -7.4M189.0 306.4h10.4M194.2 301.2v10.4M190.6 302.7l7.4 7.4M190.6 310.0l7.4 -7.4M190.9 311.8h10.4M196.1 306.6v10.4M192.4 308.1l7.4 7.4M192.4 315.5l7.4 -7.4M192.8 312.0h10.4M198.0 306.8v10.4M194.3 308.4l7.4 7.4M194.3 315.7l7.4 -7.4M194.7 308.0h10.4M199.9 302.8v10.4M196.2 304.3l7.4 7.4M196.2 311.7l7.4 -7.4M196.6 307.5h10.4M201.8 302.3v10.4M198.1 303.8l7.4 7.4M198.1 311.2l7.4 -7.4M198.5 308.4h10.4M203.7 303.2v10.4M200.0 304.7l7.4 7.4M200.0 312.1l7.4 -7.4M200.4 309.4h10.4M205.6 304.2v10.4M201.9 305.7l7.4 7.4M201.9 313.1l7.4 -7.4M202.3 308.8h10.4M207.5 303.6v10.4M203.8 305.1l7.4 7.4M203.8 312.5l7.4 -7.4M204.2 309.1h10.4M209.4 303.9v10.4M205.7 305.5l7.4 7.4M205.7 312.8l7.4 -7.4M206.1 308.9h10.4M211.3 303.7v10.4M207.6 305.2l7.4 7.4M207.6 312.5l7.4 -7.4M208.0 307.8h10.4M213.2 302.6v10.4M209.5 304.1l7.4 7.4M209.5 311.5l7.4 -7.4M209.9 308.4h10.4M215.1 303.2v10.4M211.4 304.8l7.4 7.4M211.4 312.1l7.4 -7.4M211.7 308.8h10.4M216.9 303.6v10.4M213.3 305.1l7.4 7.4M213.3 312.5l7.4 -7.4M213.6 311.9h10.4M218.8 306.7v10.4M215.2 308.2l7.4 7.4M215.2 315.6l7.4 -7.4M215.5 310.5h10.4M220.7 305.3v10.4M217.1 306.9l7.4 7.4M217.1 314.2l7.4 -7.4M217.4 310.4h10.4M222.6 305.2v10.4M219.0 306.7l7.4 7.4M219.0 314.0l7.4 -7.4M219.3 310.8h10.4M224.5 305.6v10.4M220.8 307.1l7.4 7.4M220.8 314.5l7.4 -7.4M221.2 308.3h10.4M226.4 303.1v10.4M222.7 304.6l7.4 7.4M222.7 312.0l7.4 -7.4M223.1 306.9h10.4M228.3 301.7v10.4M224.6 303.3l7.4 7.4M224.6 310.6l7.4 -7.4M225.0 310.5h10.4M230.2 305.3v10.4M226.5 306.8l7.4 7.4M226.5 314.1l7.4 -7.4M226.9 309.2h10.4M232.1 304.0v10.4M228.4 305.5l7.4 7.4M228.4 312.9l7.4 -7.4M228.8 309.9h10.4M234.0 304.7v10.4M230.3 306.3l7.4 7.4M230.3 313.6l7.4 -7.4M230.7 308.5h10.4M235.9 303.3v10.4M232.2 304.8l7.4 7.4M232.2 312.2l7.4 -7.4M232.6 308.5h10.4M237.8 303.3v10.4M234.1 304.8l7.4 7.4M234.1 312.2l7.4 -7.4M234.5 308.3h10.4M239.7 303.1v10.4M236.0 304.7l7.4 7.4M236.0 312.0l7.4 -7.4M236.4 308.4h10.4M241.6 303.2v10.4M237.9 304.7l7.4 7.4M237.9 312.1l7.4 -7.4M238.3 308.4h10.4M243.5 303.2v10.4M239.8 304.8l7.4 7.4M239.8 312.1l7.4 -7.4M240.1 307.4h10.4M245.3 302.2v10.4M241.7 303.8l7.4 7.4M241.7 311.1l7.4 -7.4M242.0 309.6h10.4M247.2 304.4v10.4M243.6 306.0l7.4 7.4M243.6 313.3l7.4 -7.4M243.9 308.5h10.4M249.1 303.3v10.4M245.5 304.8l7.4 7.4M245.5 312.2l7.4 -7.4M245.8 308.9h10.4M251.0 303.7v10.4M247.4 305.2l7.4 7.4M247.4 312.6l7.4 -7.4M247.7 309.5h10.4M252.9 304.3v10.4M249.2 305.9l7.4 7.4M249.2 313.2l7.4 -7.4M249.6 308.9h10.4M254.8 303.7v10.4M251.1 305.2l7.4 7.4M251.1 312.5l7.4 -7.4M251.5 309.8h10.4M256.7 304.6v10.4M253.0 306.2l7.4 7.4M253.0 313.5l7.4 -7.4M253.4 308.6h10.4M258.6 303.4v10.4M254.9 304.9l7.4 7.4M254.9 312.3l7.4 -7.4M255.3 308.1h10.4M260.5 302.9v10.4M256.8 304.5l7.4 7.4M256.8 311.8l7.4 -7.4M257.2 306.8h10.4M262.4 301.6v10.4M258.7 303.1l7.4 7.4M258.7 310.4l7.4 -7.4M259.1 307.6h10.4M264.3 302.4v10.4M260.6 304.0l7.4 7.4M260.6 311.3l7.4 -7.4M261.0 306.4h10.4M266.2 301.2v10.4M262.5 302.8l7.4 7.4M262.5 310.1l7.4 -7.4M262.9 308.1h10.4M268.1 302.9v10.4M264.4 304.4l7.4 7.4M264.4 311.8l7.4 -7.4M264.8 305.9h10.4M270.0 300.7v10.4M266.3 302.2l7.4 7.4M266.3 309.6l7.4 -7.4M266.7 307.0h10.4M271.9 301.8v10.4M268.2 303.3l7.4 7.4M268.2 310.7l7.4 -7.4M268.6 310.7h10.4M273.8 305.5v10.4M270.1 307.1l7.4 7.4M270.1 314.4l7.4 -7.4M270.4 311.7h10.4M275.6 306.5v10.4M272.0 308.1l7.4 7.4M272.0 315.4l7.4 -7.4M272.3 310.4h10.4M277.5 305.2v10.4M273.9 306.7l7.4 7.4M273.9 314.0l7.4 -7.4M274.2 311.4h10.4M279.4 306.2v10.4M275.8 307.7l7.4 7.4M275.8 315.1l7.4 -7.4M276.1 295.5h10.4M281.3 290.3v10.4M277.6 291.8l7.4 7.4M277.6 299.2l7.4 -7.4M278.0 306.3h10.4M283.2 301.1v10.4M279.5 302.6l7.4 7.4M279.5 309.9l7.4 -7.4M279.9 311.5h10.4M285.1 306.3v10.4M281.4 307.8l7.4 7.4M281.4 315.1l7.4 -7.4M281.8 308.8h10.4M287.0 303.6v10.4M283.3 305.1l7.4 7.4M283.3 312.4l7.4 -7.4M283.7 305.8h10.4M288.9 300.6v10.4M285.2 302.1l7.4 7.4M285.2 309.5l7.4 -7.4M285.6 296.0h10.4M290.8 290.8v10.4M287.1 292.3l7.4 7.4M287.1 299.7l7.4 -7.4M287.5 307.9h10.4M292.7 302.7v10.4M289.0 304.2l7.4 7.4M289.0 311.6l7.4 -7.4M289.4 313.3h10.4M294.6 308.1v10.4M290.9 309.6l7.4 7.4M290.9 317.0l7.4 -7.4M291.3 309.0h10.4M296.5 303.8v10.4M292.8 305.4l7.4 7.4M292.8 312.7l7.4 -7.4M293.2 307.6h10.4M298.4 302.4v10.4M294.7 304.0l7.4 7.4M294.7 311.3l7.4 -7.4M295.1 309.1h10.4M300.3 303.9v10.4M296.6 305.5l7.4 7.4M296.6 312.8l7.4 -7.4M297.0 313.2h10.4M302.2 308.0v10.4M298.5 309.5l7.4 7.4M298.5 316.9l7.4 -7.4M298.8 307.0h10.4M304.0 301.8v10.4M300.4 303.3l7.4 7.4M300.4 310.7l7.4 -7.4M300.7 297.3h10.4M305.9 292.1v10.4M302.3 293.6l7.4 7.4M302.3 301.0l7.4 -7.4M302.6 286.0h10.4M307.8 280.8v10.4M304.2 282.3l7.4 7.4M304.2 289.7l7.4 -7.4M304.5 303.3h10.4M309.7 298.1v10.4M306.0 299.6l7.4 7.4M306.0 306.9l7.4 -7.4M306.4 302.2h10.4M311.6 297.0v10.4M307.9 298.5l7.4 7.4M307.9 305.8l7.4 -7.4M308.3 306.9h10.4M313.5 301.7v10.4M309.8 303.2l7.4 7.4M309.8 310.5l7.4 -7.4M310.2 307.3h10.4M315.4 302.1v10.4M311.7 303.7l7.4 7.4M311.7 311.0l7.4 -7.4M312.1 304.9h10.4M317.3 299.7v10.4M313.6 301.2l7.4 7.4M313.6 308.6l7.4 -7.4M314.0 299.3h10.4M319.2 294.1v10.4M315.5 295.6l7.4 7.4M315.5 303.0l7.4 -7.4M315.9 302.3h10.4M321.1 297.1v10.4M317.4 298.7l7.4 7.4M317.4 306.0l7.4 -7.4M317.8 291.6h10.4M323.0 286.4v10.4M319.3 287.9l7.4 7.4M319.3 295.3l7.4 -7.4M319.7 306.3h10.4M324.9 301.1v10.4M321.2 302.6l7.4 7.4M321.2 310.0l7.4 -7.4M321.6 299.3h10.4M326.8 294.1v10.4M323.1 295.6l7.4 7.4M323.1 302.9l7.4 -7.4M323.5 299.6h10.4M328.7 294.4v10.4M325.0 295.9l7.4 7.4M325.0 303.3l7.4 -7.4M325.4 291.7h10.4M330.6 286.5v10.4M326.9 288.0l7.4 7.4M326.9 295.4l7.4 -7.4M327.2 276.2h10.4M332.4 271.0v10.4M328.8 272.5l7.4 7.4M328.8 279.9l7.4 -7.4M329.1 292.7h10.4M334.3 287.5v10.4M330.7 289.0l7.4 7.4M330.7 296.3l7.4 -7.4M331.0 293.9h10.4M336.2 288.7v10.4M332.6 290.2l7.4 7.4M332.6 297.5l7.4 -7.4M332.9 287.0h10.4M338.1 281.8v10.4M334.4 283.3l7.4 7.4M334.4 290.7l7.4 -7.4M334.8 281.2h10.4M340.0 276.0v10.4M336.3 277.5l7.4 7.4M336.3 284.9l7.4 -7.4M336.7 277.2h10.4M341.9 272.0v10.4M338.2 273.5l7.4 7.4M338.2 280.9l7.4 -7.4M338.6 275.9h10.4M343.8 270.7v10.4M340.1 272.2l7.4 7.4M340.1 279.6l7.4 -7.4M340.5 275.6h10.4M345.7 270.4v10.4M342.0 271.9l7.4 7.4M342.0 279.3l7.4 -7.4M342.4 271.0h10.4M347.6 265.8v10.4M343.9 267.4l7.4 7.4M343.9 274.7l7.4 -7.4M344.3 269.1h10.4M349.5 263.9v10.4M345.8 265.4l7.4 7.4M345.8 272.8l7.4 -7.4M346.2 269.6h10.4M351.4 264.4v10.4M347.7 265.9l7.4 7.4M347.7 273.3l7.4 -7.4M348.1 261.1h10.4M353.3 255.9v10.4M349.6 257.5l7.4 7.4M349.6 264.8l7.4 -7.4M350.0 260.8h10.4M355.2 255.6v10.4M351.5 257.2l7.4 7.4M351.5 264.5l7.4 -7.4M351.9 260.9h10.4M357.1 255.7v10.4M353.4 257.2l7.4 7.4M353.4 264.6l7.4 -7.4M353.8 265.1h10.4M359.0 259.9v10.4M355.3 261.5l7.4 7.4M355.3 268.8l7.4 -7.4M355.6 257.0h10.4M360.8 251.8v10.4M357.2 253.3l7.4 7.4M357.2 260.6l7.4 -7.4M357.5 257.9h10.4M362.7 252.7v10.4M359.1 254.2l7.4 7.4M359.1 261.6l7.4 -7.4M359.4 259.0h10.4M364.6 253.8v10.4M361.0 255.3l7.4 7.4M361.0 262.7l7.4 -7.4M361.3 261.4h10.4M366.5 256.2v10.4M362.8 257.7l7.4 7.4M362.8 265.1l7.4 -7.4M367.0 220.2h10.4M372.2 215.0v10.4M368.5 216.5l7.4 7.4M368.5 223.9l7.4 -7.4M368.9 216.3h10.4M374.1 211.1v10.4M370.4 212.6l7.4 7.4M370.4 220.0l7.4 -7.4M370.8 210.6h10.4M376.0 205.4v10.4M372.3 206.9l7.4 7.4M372.3 214.3l7.4 -7.4M372.7 213.1h10.4M377.9 207.9v10.4M374.2 209.4l7.4 7.4M374.2 216.8l7.4 -7.4M374.6 210.3h10.4M379.8 205.1v10.4M376.1 206.7l7.4 7.4M376.1 214.0l7.4 -7.4M376.5 213.7h10.4M381.7 208.5v10.4M378.0 210.0l7.4 7.4M378.0 217.4l7.4 -7.4M378.4 226.9h10.4M383.6 221.7v10.4M379.9 223.2l7.4 7.4M379.9 230.6l7.4 -7.4M380.3 215.1h10.4M385.5 209.9v10.4M381.8 211.4l7.4 7.4M381.8 218.8l7.4 -7.4M382.2 220.6h10.4M387.4 215.4v10.4M383.7 216.9l7.4 7.4M383.7 224.3l7.4 -7.4M384.0 216.9h10.4M389.2 211.7v10.4M385.6 213.2l7.4 7.4M385.6 220.6l7.4 -7.4M385.9 216.6h10.4M391.1 211.4v10.4M387.5 212.9l7.4 7.4M387.5 220.3l7.4 -7.4M387.8 212.7h10.4M393.0 207.5v10.4M389.4 209.0l7.4 7.4M389.4 216.4l7.4 -7.4M389.7 211.9h10.4M394.9 206.7v10.4M391.3 208.3l7.4 7.4M391.3 215.6l7.4 -7.4M391.6 218.7h10.4M396.8 213.5v10.4M393.1 215.0l7.4 7.4M393.1 222.4l7.4 -7.4M393.5 219.1h10.4M398.7 213.9v10.4M395.0 215.4l7.4 7.4M395.0 222.8l7.4 -7.4M395.4 217.3h10.4M400.6 212.1v10.4M396.9 213.6l7.4 7.4M396.9 221.0l7.4 -7.4M397.3 211.6h10.4M402.5 206.4v10.4M398.8 207.9l7.4 7.4M398.8 215.3l7.4 -7.4M399.2 218.4h10.4M404.4 213.2v10.4M400.7 214.7l7.4 7.4M400.7 222.1l7.4 -7.4M401.1 215.2h10.4M406.3 210.0v10.4M402.6 211.6l7.4 7.4M402.6 218.9l7.4 -7.4M403.0 211.7h10.4M408.2 206.5v10.4M404.5 208.1l7.4 7.4M404.5 215.4l7.4 -7.4M404.9 212.1h10.4M410.1 206.9v10.4M406.4 208.4l7.4 7.4M406.4 215.8l7.4 -7.4M406.8 214.9h10.4M412.0 209.7v10.4M408.3 211.2l7.4 7.4M408.3 218.6l7.4 -7.4M408.7 211.4h10.4M413.9 206.2v10.4M410.2 207.7l7.4 7.4M410.2 215.1l7.4 -7.4M410.6 211.6h10.4M415.8 206.4v10.4M412.1 207.9l7.4 7.4M412.1 215.3l7.4 -7.4M412.4 201.0h10.4M417.6 195.8v10.4M414.0 197.3l7.4 7.4M414.0 204.6l7.4 -7.4M414.3 181.6h10.4M419.5 176.4v10.4M415.9 177.9l7.4 7.4M415.9 185.3l7.4 -7.4M416.2 171.3h10.4M421.4 166.1v10.4M417.8 167.6l7.4 7.4M417.8 174.9l7.4 -7.4M418.1 172.0h10.4M423.3 166.8v10.4M419.7 168.3l7.4 7.4M419.7 175.7l7.4 -7.4M420.0 162.4h10.4M425.2 157.2v10.4M421.5 158.7l7.4 7.4M421.5 166.1l7.4 -7.4M421.9 165.3h10.4M427.1 160.1v10.4M423.4 161.6l7.4 7.4M423.4 168.9l7.4 -7.4M423.8 164.6h10.4M429.0 159.4v10.4M425.3 161.0l7.4 7.4M425.3 168.3l7.4 -7.4M425.7 161.4h10.4M430.9 156.2v10.4M427.2 157.7l7.4 7.4M427.2 165.1l7.4 -7.4M427.6 155.0h10.4M432.8 149.8v10.4M429.1 151.3l7.4 7.4M429.1 158.7l7.4 -7.4M429.5 145.3h10.4M434.7 140.1v10.4M431.0 141.6l7.4 7.4M431.0 149.0l7.4 -7.4M431.4 147.6h10.4M436.6 142.4v10.4M432.9 143.9l7.4 7.4M432.9 151.3l7.4 -7.4M433.3 139.4h10.4M438.5 134.2v10.4M434.8 135.7l7.4 7.4M434.8 143.1l7.4 -7.4M435.2 142.3h10.4M440.4 137.1v10.4M436.7 138.6l7.4 7.4M436.7 146.0l7.4 -7.4M437.1 138.3h10.4M442.3 133.1v10.4M438.6 134.7l7.4 7.4M438.6 142.0l7.4 -7.4M439.0 129.6h10.4M444.2 124.4v10.4M440.5 125.9l7.4 7.4M440.5 133.3l7.4 -7.4M440.8 132.2h10.4M446.0 127.0v10.4M442.4 128.5l7.4 7.4M442.4 135.9l7.4 -7.4M442.7 132.2h10.4M447.9 127.0v10.4M444.3 128.6l7.4 7.4M444.3 135.9l7.4 -7.4M444.6 126.3h10.4M449.8 121.1v10.4M446.2 122.6l7.4 7.4M446.2 130.0l7.4 -7.4M446.5 124.9h10.4M451.7 119.7v10.4M448.1 121.2l7.4 7.4M448.1 128.6l7.4 -7.4M448.4 132.4h10.4M453.6 127.2v10.4M449.9 128.7l7.4 7.4M449.9 136.1l7.4 -7.4M450.3 132.9h10.4M455.5 127.7v10.4M451.8 129.3l7.4 7.4M451.8 136.6l7.4 -7.4M452.2 131.6h10.4M457.4 126.4v10.4M453.7 127.9l7.4 7.4M453.7 135.3l7.4 -7.4M454.1 134.1h10.4M459.3 128.9v10.4M455.6 130.4l7.4 7.4M455.6 137.7l7.4 -7.4M456.0 135.0h10.4M461.2 129.8v10.4M457.5 131.3l7.4 7.4M457.5 138.7l7.4 -7.4M457.9 127.3h10.4M463.1 122.1v10.4M459.4 123.6l7.4 7.4M459.4 131.0l7.4 -7.4M459.8 130.2h10.4M465.0 125.0v10.4M461.3 126.6l7.4 7.4M461.3 133.9l7.4 -7.4M461.7 136.7h10.4M466.9 131.5v10.4M463.2 133.0l7.4 7.4M463.2 140.4l7.4 -7.4M463.6 130.5h10.4M468.8 125.3v10.4M465.1 126.8l7.4 7.4M465.1 134.2l7.4 -7.4M465.5 131.9h10.4M470.7 126.7v10.4M467.0 128.3l7.4 7.4M467.0 135.6l7.4 -7.4M467.4 131.1h10.4M472.6 125.9v10.4M468.9 127.4l7.4 7.4M468.9 134.8l7.4 -7.4M469.3 131.7h10.4M474.5 126.5v10.4M470.8 128.0l7.4 7.4M470.8 135.4l7.4 -7.4M471.1 128.5h10.4M476.3 123.3v10.4M472.7 124.8l7.4 7.4M472.7 132.2l7.4 -7.4M473.0 131.2h10.4M478.2 126.0v10.4M474.6 127.5l7.4 7.4M474.6 134.9l7.4 -7.4M474.9 131.5h10.4M480.1 126.3v10.4M476.5 127.8l7.4 7.4M476.5 135.2l7.4 -7.4M476.8 135.4h10.4M482.0 130.2v10.4M478.3 131.7l7.4 7.4M478.3 139.1l7.4 -7.4M478.7 133.6h10.4M483.9 128.4v10.4M480.2 130.0l7.4 7.4M480.2 137.3l7.4 -7.4M480.6 126.5h10.4M485.8 121.3v10.4M482.1 122.9l7.4 7.4M482.1 130.2l7.4 -7.4M482.5 134.6h10.4M487.7 129.4v10.4M484.0 130.9l7.4 7.4M484.0 138.2l7.4 -7.4M484.4 133.6h10.4M489.6 128.4v10.4M485.9 129.9l7.4 7.4M485.9 137.3l7.4 -7.4M486.3 131.1h10.4M491.5 125.9v10.4M487.8 127.5l7.4 7.4M487.8 134.8l7.4 -7.4M488.2 126.3h10.4M493.4 121.1v10.4M489.7 122.7l7.4 7.4M489.7 130.0l7.4 -7.4M490.1 121.7h10.4M495.3 116.5v10.4M491.6 118.0l7.4 7.4M491.6 125.4l7.4 -7.4M492.0 123.5h10.4M497.2 118.3v10.4M493.5 119.8l7.4 7.4M493.5 127.2l7.4 -7.4M493.9 118.0h10.4M499.1 112.8v10.4M495.4 114.3l7.4 7.4M495.4 121.7l7.4 -7.4M495.8 123.7h10.4M501.0 118.5v10.4M497.3 120.1l7.4 7.4M497.3 127.4l7.4 -7.4M497.7 108.2h10.4M502.9 103.0v10.4M499.2 104.6l7.4 7.4M499.2 111.9l7.4 -7.4M499.5 79.5h10.4M504.7 74.3v10.4M501.1 75.8l7.4 7.4M501.1 83.2l7.4 -7.4M501.4 84.9h10.4M506.6 79.7v10.4M503.0 81.2l7.4 7.4M503.0 88.5l7.4 -7.4M503.3 84.8h10.4M508.5 79.6v10.4M504.9 81.1l7.4 7.4M504.9 88.5l7.4 -7.4M505.2 89.8h10.4M510.4 84.6v10.4M506.7 86.1l7.4 7.4M506.7 93.5l7.4 -7.4M507.1 85.6h10.4M512.3 80.4v10.4M508.6 82.0l7.4 7.4M508.6 89.3l7.4 -7.4M509.0 82.2h10.4M514.2 77.0v10.4M510.5 78.5l7.4 7.4M510.5 85.9l7.4 -7.4M510.9 82.2h10.4M516.1 77.0v10.4M512.4 78.5l7.4 7.4M512.4 85.9l7.4 -7.4M512.8 85.6h10.4M518.0 80.4v10.4M514.3 81.9l7.4 7.4M514.3 89.3l7.4 -7.4M514.7 87.5h10.4M519.9 82.3v10.4M516.2 83.8l7.4 7.4M516.2 91.2l7.4 -7.4M516.6 85.3h10.4M521.8 80.1v10.4M518.1 81.6l7.4 7.4M518.1 89.0l7.4 -7.4M518.5 98.2h10.4M523.7 93.0v10.4M520.0 94.5l7.4 7.4M520.0 101.9l7.4 -7.4M520.4 94.6h10.4M525.6 89.4v10.4M521.9 91.0l7.4 7.4M521.9 98.3l7.4 -7.4M522.3 98.3h10.4M527.5 93.1v10.4M523.8 94.6l7.4 7.4M523.8 102.0l7.4 -7.4M524.2 95.3h10.4M529.4 90.1v10.4M525.7 91.6l7.4 7.4M525.7 99.0l7.4 -7.4M526.1 102.4h10.4M531.3 97.2v10.4M527.6 98.7l7.4 7.4M527.6 106.1l7.4 -7.4M527.9 86.3h10.4M533.1 81.1v10.4M529.5 82.7l7.4 7.4M529.5 90.0l7.4 -7.4M529.8 90.9h10.4M535.0 85.7v10.4M531.4 87.2l7.4 7.4M531.4 94.6l7.4 -7.4M531.7 85.4h10.4M536.9 80.2v10.4M533.3 81.7l7.4 7.4M533.3 89.0l7.4 -7.4M533.6 81.8h10.4M538.8 76.6v10.4M535.1 78.1l7.4 7.4M535.1 85.4l7.4 -7.4M535.5 83.8h10.4M540.7 78.6v10.4M537.0 80.1l7.4 7.4M537.0 87.4l7.4 -7.4M537.4 82.0h10.4M542.6 76.8v10.4M538.9 78.3l7.4 7.4M538.9 85.7l7.4 -7.4M539.3 75.6h10.4M544.5 70.4v10.4M540.8 72.0l7.4 7.4M540.8 79.3l7.4 -7.4M541.2 71.2h10.4M546.4 66.0v10.4M542.7 67.5l7.4 7.4M542.7 74.9l7.4 -7.4M543.1 65.9h10.4M548.3 60.7v10.4M544.6 62.2l7.4 7.4M544.6 69.6l7.4 -7.4M545.0 69.1h10.4M550.2 63.9v10.4M546.5 65.4l7.4 7.4M546.5 72.7l7.4 -7.4M546.9 54.5h10.4M552.1 49.3v10.4M548.4 50.8l7.4 7.4M548.4 58.2l7.4 -7.4M548.8 63.5h10.4M554.0 58.3v10.4M550.3 59.9l7.4 7.4M550.3 67.2l7.4 -7.4M550.7 63.0h10.4M555.9 57.8v10.4M552.2 59.3l7.4 7.4M552.2 66.7l7.4 -7.4M552.6 73.8h10.4M557.8 68.6v10.4M554.1 70.1l7.4 7.4M554.1 77.4l7.4 -7.4M554.5 63.5h10.4M559.7 58.3v10.4M556.0 59.8l7.4 7.4M556.0 67.2l7.4 -7.4M556.3 66.5h10.4M561.5 61.3v10.4M557.9 62.8l7.4 7.4M557.9 70.2l7.4 -7.4M558.2 70.5h10.4M563.4 65.3v10.4M559.8 66.9l7.4 7.4M559.8 74.2l7.4 -7.4M560.1 74.6h10.4M565.3 69.4v10.4M561.7 70.9l7.4 7.4M561.7 78.2l7.4 -7.4M562.0 69.9h10.4M567.2 64.7v10.4M563.6 66.2l7.4 7.4M563.6 73.6l7.4 -7.4M563.9 73.5h10.4M569.1 68.3v10.4M565.4 69.8l7.4 7.4M565.4 77.2l7.4 -7.4M565.8 83.4h10.4M571.0 78.2v10.4M567.3 79.7l7.4 7.4M567.3 87.1l7.4 -7.4M567.7 84.0h10.4M572.9 78.8v10.4M569.2 80.3l7.4 7.4M569.2 87.7l7.4 -7.4M569.6 84.7h10.4M574.8 79.5v10.4M571.1 81.0l7.4 7.4M571.1 88.4l7.4 -7.4M571.5 80.2h10.4M576.7 75.0v10.4M573.0 76.5l7.4 7.4M573.0 83.9l7.4 -7.4M573.4 78.5h10.4M578.6 73.3v10.4M574.9 74.9l7.4 7.4M574.9 82.2l7.4 -7.4M575.3 88.7h10.4M580.5 83.5v10.4M576.8 85.0l7.4 7.4M576.8 92.4l7.4 -7.4M577.2 83.2h10.4M582.4 78.0v10.4M578.7 79.5l7.4 7.4M578.7 86.9l7.4 -7.4M579.1 76.2h10.4M584.3 71.0v10.4M580.6 72.5l7.4 7.4M580.6 79.9l7.4 -7.4M581.0 78.9h10.4M586.2 73.7v10.4M582.5 75.2l7.4 7.4M582.5 82.6l7.4 -7.4M582.9 80.2h10.4M588.1 75.0v10.4M584.4 76.5l7.4 7.4M584.4 83.9l7.4 -7.4M584.7 72.1h10.4M589.9 66.9v10.4M586.3 68.4l7.4 7.4M586.3 75.8l7.4 -7.4M586.6 69.4h10.4M591.8 64.2v10.4M588.2 65.7l7.4 7.4M588.2 73.0l7.4 -7.4M588.5 68.3h10.4M593.7 63.1v10.4M590.1 64.7l7.4 7.4M590.1 72.0l7.4 -7.4M590.4 71.6h10.4M595.6 66.4v10.4M592.0 68.0l7.4 7.4M592.0 75.3l7.4 -7.4M592.3 72.4h10.4M597.5 67.2v10.4M593.8 68.7l7.4 7.4M593.8 76.0l7.4 -7.4M594.2 69.6h10.4M599.4 64.4v10.4M595.7 65.9l7.4 7.4M595.7 73.2l7.4 -7.4M596.1 79.1h10.4M601.3 73.9v10.4M597.6 75.4l7.4 7.4M597.6 82.7l7.4 -7.4M598.0 73.5h10.4M603.2 68.3v10.4M599.5 69.8l7.4 7.4M599.5 77.2l7.4 -7.4M599.9 79.7h10.4M605.1 74.5v10.4M601.4 76.0l7.4 7.4M601.4 83.4l7.4 -7.4M601.8 69.4h10.4M607.0 64.2v10.4M603.3 65.7l7.4 7.4M603.3 73.1l7.4 -7.4M603.7 81.4h10.4M608.9 76.2v10.4M605.2 77.7l7.4 7.4M605.2 85.1l7.4 -7.4M605.6 83.0h10.4M610.8 77.8v10.4M607.1 79.3l7.4 7.4M607.1 86.6l7.4 -7.4M607.5 81.1h10.4M612.7 75.9v10.4M609.0 77.4l7.4 7.4M609.0 84.7l7.4 -7.4M609.4 80.2h10.4M614.6 75.0v10.4M610.9 76.6l7.4 7.4M610.9 83.9l7.4 -7.4M611.3 83.6h10.4M616.5 78.4v10.4M612.8 80.0l7.4 7.4M612.8 87.3l7.4 -7.4M613.1 82.4h10.4M618.3 77.2v10.4M614.7 78.7l7.4 7.4M614.7 86.1l7.4 -7.4M615.0 86.4h10.4M620.2 81.2v10.4M616.6 82.7l7.4 7.4M616.6 90.1l7.4 -7.4M616.9 87.4h10.4M622.1 82.2v10.4M618.5 83.8l7.4 7.4M618.5 91.1l7.4 -7.4M618.8 82.2h10.4M624.0 77.0v10.4M620.4 78.6l7.4 7.4M620.4 85.9l7.4 -7.4M620.7 91.2h10.4M625.9 86.0v10.4M622.2 87.5l7.4 7.4M622.2 94.9l7.4 -7.4M622.6 89.4h10.4M627.8 84.2v10.4M624.1 85.7l7.4 7.4M624.1 93.1l7.4 -7.4M624.5 94.3h10.4M629.7 89.1v10.4M626.0 90.6l7.4 7.4M626.0 97.9l7.4 -7.4M626.4 95.9h10.4M631.6 90.7v10.4M627.9 92.2l7.4 7.4M627.9 99.6l7.4 -7.4M628.3 93.9h10.4M633.5 88.7v10.4M629.8 90.3l7.4 7.4M629.8 97.6l7.4 -7.4M630.2 97.5h10.4M635.4 92.3v10.4M631.7 93.9l7.4 7.4M631.7 101.2l7.4 -7.4M632.1 97.7h10.4M637.3 92.5v10.4M633.6 94.0l7.4 7.4M633.6 101.4l7.4 -7.4M634.0 85.6h10.4M639.2 80.4v10.4M635.5 81.9l7.4 7.4M635.5 89.3l7.4 -7.4M635.9 94.0h10.4M641.1 88.8v10.4M637.4 90.3l7.4 7.4M637.4 97.6l7.4 -7.4M637.8 106.4h10.4M643.0 101.2v10.4M639.3 102.7l7.4 7.4M639.3 110.1l7.4 -7.4M639.7 105.9h10.4M644.9 100.7v10.4M641.2 102.3l7.4 7.4M641.2 109.6l7.4 -7.4M641.5 105.5h10.4M646.8 100.3v10.4M643.1 101.8l7.4 7.4M643.1 109.1l7.4 -7.4M643.4 107.2h10.4M648.6 102.0v10.4M645.0 103.5l7.4 7.4M645.0 110.9l7.4 -7.4M645.3 91.2h10.4M650.5 86.0v10.4M646.9 87.6l7.4 7.4M646.9 94.9l7.4 -7.4M647.2 89.3h10.4M652.4 84.1v10.4M648.8 85.7l7.4 7.4M648.8 93.0l7.4 -7.4M649.1 83.2h10.4M654.3 78.0v10.4M650.6 79.5l7.4 7.4M650.6 86.8l7.4 -7.4M651.0 89.4h10.4M656.2 84.2v10.4M652.5 85.7l7.4 7.4M652.5 93.1l7.4 -7.4M679.4 295.0h10.4M684.6 289.8v10.4M680.9 291.3l7.4 7.4M680.9 298.7l7.4 -7.4M681.3 310.9h10.4M686.5 305.7v10.4M682.8 307.3l7.4 7.4M682.8 314.6l7.4 -7.4M683.2 311.0h10.4M688.4 305.8v10.4M684.7 307.3l7.4 7.4M684.7 314.7l7.4 -7.4M685.1 304.7h10.4M690.3 299.5v10.4M686.6 301.0l7.4 7.4M686.6 308.4l7.4 -7.4M687.0 308.3h10.4M692.2 303.1v10.4M688.5 304.6l7.4 7.4M688.5 312.0l7.4 -7.4M688.9 307.7h10.4M694.1 302.5v10.4M690.4 304.0l7.4 7.4M690.4 311.4l7.4 -7.4M690.8 295.3h10.4M696.0 290.1v10.4M692.3 291.6l7.4 7.4M692.3 299.0l7.4 -7.4M692.7 311.5h10.4M697.9 306.3v10.4M694.2 307.8l7.4 7.4M694.2 315.2l7.4 -7.4M694.6 311.4h10.4M699.8 306.2v10.4M696.1 307.7l7.4 7.4M696.1 315.1l7.4 -7.4M696.5 304.3h10.4M701.7 299.1v10.4M698.0 300.7l7.4 7.4M698.0 308.0l7.4 -7.4M698.4 312.1h10.4M703.6 306.9v10.4M699.9 308.4l7.4 7.4M699.9 315.8l7.4 -7.4M700.2 308.5h10.4M705.4 303.3v10.4M701.8 304.8l7.4 7.4M701.8 312.2l7.4 -7.4M702.1 308.7h10.4M707.3 303.5v10.4M703.7 305.0l7.4 7.4M703.7 312.4l7.4 -7.4M704.0 315.2h10.4M709.2 310.0v10.4M705.6 311.5l7.4 7.4M705.6 318.9l7.4 -7.4M705.9 308.9h10.4M711.1 303.7v10.4M707.4 305.2l7.4 7.4M707.4 312.6l7.4 -7.4M707.8 306.6h10.4M713.0 301.4v10.4M709.3 303.0l7.4 7.4M709.3 310.3l7.4 -7.4M709.7 307.5h10.4M714.9 302.3v10.4M711.2 303.8l7.4 7.4M711.2 311.1l7.4 -7.4M711.6 308.3h10.4M716.8 303.1v10.4M713.1 304.6l7.4 7.4M713.1 312.0l7.4 -7.4M713.5 303.4h10.4M718.7 298.2v10.4M715.0 299.7l7.4 7.4M715.0 307.1l7.4 -7.4M715.4 310.1h10.4M720.6 304.9v10.4M716.9 306.5l7.4 7.4M716.9 313.8l7.4 -7.4M717.3 306.7h10.4M722.5 301.5v10.4M718.8 303.1l7.4 7.4M718.8 310.4l7.4 -7.4M719.2 314.3h10.4M724.4 309.1v10.4M720.7 310.6l7.4 7.4M720.7 317.9l7.4 -7.4M721.1 312.4h10.4M726.3 307.2v10.4M722.6 308.7l7.4 7.4M722.6 316.0l7.4 -7.4M723.0 309.7h10.4M728.2 304.5v10.4M724.5 306.0l7.4 7.4M724.5 313.4l7.4 -7.4M724.9 305.9h10.4M730.1 300.7v10.4M726.4 302.2l7.4 7.4M726.4 309.6l7.4 -7.4M726.8 310.1h10.4M732.0 304.9v10.4M728.3 306.5l7.4 7.4M728.3 313.8l7.4 -7.4M728.6 304.7h10.4M733.8 299.5v10.4M730.2 301.0l7.4 7.4M730.2 308.4l7.4 -7.4M730.5 311.6h10.4M735.7 306.4v10.4M732.1 307.9l7.4 7.4M732.1 315.2l7.4 -7.4M732.4 308.4h10.4M737.6 303.2v10.4M734.0 304.7l7.4 7.4M734.0 312.1l7.4 -7.4M734.3 312.7h10.4M739.5 307.5v10.4M735.8 309.0l7.4 7.4M735.8 316.4l7.4 -7.4M736.2 303.1h10.4M741.4 297.9v10.4M737.7 299.5l7.4 7.4M737.7 306.8l7.4 -7.4M738.1 306.8h10.4M743.3 301.6v10.4M739.6 303.1l7.4 7.4M739.6 310.5l7.4 -7.4M740.0 307.6h10.4M745.2 302.4v10.4M741.5 303.9l7.4 7.4M741.5 311.2l7.4 -7.4M741.9 306.9h10.4M747.1 301.7v10.4M743.4 303.2l7.4 7.4M743.4 310.6l7.4 -7.4M743.8 304.5h10.4M749.0 299.3v10.4M745.3 300.8l7.4 7.4M745.3 308.1l7.4 -7.4M745.7 305.7h10.4M750.9 300.5v10.4M747.2 302.0l7.4 7.4M747.2 309.4l7.4 -7.4M747.6 305.7h10.4M752.8 300.5v10.4M749.1 302.0l7.4 7.4M749.1 309.4l7.4 -7.4M749.5 313.0h10.4M754.7 307.8v10.4M751.0 309.3l7.4 7.4M751.0 316.7l7.4 -7.4M751.4 309.3h10.4M756.6 304.1v10.4M752.9 305.6l7.4 7.4M752.9 312.9l7.4 -7.4M753.3 310.3h10.4M758.5 305.1v10.4M754.8 306.6l7.4 7.4M754.8 314.0l7.4 -7.4M755.2 312.4h10.4M760.4 307.2v10.4M756.7 308.7l7.4 7.4M756.7 316.0l7.4 -7.4M757.0 305.1h10.4M762.2 299.9v10.4M758.6 301.4l7.4 7.4M758.6 308.7l7.4 -7.4M758.9 310.7h10.4M764.1 305.5v10.4M760.5 307.1l7.4 7.4M760.5 314.4l7.4 -7.4M760.8 312.7h10.4M766.0 307.5v10.4M762.4 309.0l7.4 7.4M762.4 316.3l7.4 -7.4M762.7 306.2h10.4M767.9 301.0v10.4M764.3 302.5l7.4 7.4M764.3 309.9l7.4 -7.4M764.6 312.6h10.4M769.8 307.4v10.4M766.1 308.9l7.4 7.4M766.1 316.3l7.4 -7.4M766.5 304.6h10.4M771.7 299.4v10.4M768.0 300.9l7.4 7.4M768.0 308.2l7.4 -7.4M768.4 308.6h10.4M773.6 303.4v10.4M769.9 304.9l7.4 7.4M769.9 312.2l7.4 -7.4M770.3 309.1h10.4M775.5 303.9v10.4M771.8 305.4l7.4 7.4M771.8 312.8l7.4 -7.4M772.2 305.8h10.4M777.4 300.6v10.4M773.7 302.1l7.4 7.4M773.7 309.5l7.4 -7.4M774.1 311.9h10.4M779.3 306.7v10.4M775.6 308.2l7.4 7.4M775.6 315.6l7.4 -7.4M776.0 305.6h10.4M781.2 300.4v10.4M777.5 301.9l7.4 7.4M777.5 309.3l7.4 -7.4M777.9 301.9h10.4M783.1 296.7v10.4M779.4 298.3l7.4 7.4M779.4 305.6l7.4 -7.4M779.8 304.5h10.4M785.0 299.3v10.4M781.3 300.8l7.4 7.4M781.3 308.2l7.4 -7.4M781.7 306.9h10.4M786.9 301.7v10.4M783.2 303.2l7.4 7.4M783.2 310.5l7.4 -7.4M783.6 306.4h10.4M788.8 301.2v10.4M785.1 302.7l7.4 7.4M785.1 310.1l7.4 -7.4M785.4 309.6h10.4M790.6 304.4v10.4M787.0 306.0l7.4 7.4M787.0 313.3l7.4 -7.4M787.3 308.3h10.4M792.5 303.1v10.4M788.9 304.7l7.4 7.4M788.9 312.0l7.4 -7.4M789.2 304.1h10.4M794.4 298.9v10.4M790.8 300.4l7.4 7.4M790.8 307.7l7.4 -7.4M791.1 308.2h10.4M796.3 303.0v10.4M792.7 304.5l7.4 7.4M792.7 311.8l7.4 -7.4M793.0 313.1h10.4M798.2 307.9v10.4M794.5 309.4l7.4 7.4M794.5 316.7l7.4 -7.4M794.9 304.8h10.4M800.1 299.6v10.4M796.4 301.1l7.4 7.4M796.4 308.5l7.4 -7.4M796.8 310.3h10.4M802.0 305.1v10.4M798.3 306.6l7.4 7.4M798.3 314.0l7.4 -7.4M798.7 309.0h10.4M803.9 303.8v10.4M800.2 305.3l7.4 7.4M800.2 312.6l7.4 -7.4M800.6 306.3h10.4M805.8 301.1v10.4M802.1 302.6l7.4 7.4M802.1 310.0l7.4 -7.4M655.5 55.8h10.4M660.7 50.6v10.4M657.0 52.1l7.4 7.4M657.0 59.5l7.4 -7.4M656.4 60.5h10.4M661.6 55.3v10.4M657.9 56.8l7.4 7.4M657.9 64.2l7.4 -7.4M658.3 70.8h10.4M663.5 65.6v10.4M659.8 67.1l7.4 7.4M659.8 74.5l7.4 -7.4M662.1 84.9h10.4M667.3 79.7v10.4M663.6 81.2l7.4 7.4M663.6 88.6l7.4 -7.4M663.0 132.0h10.4M668.2 126.8v10.4M664.5 128.3l7.4 7.4M664.5 135.7l7.4 -7.4M665.8 202.6h10.4M671.0 197.4v10.4M667.3 198.9l7.4 7.4M667.3 206.3l7.4 -7.4M668.7 205.4h10.4M673.9 200.2v10.4M670.2 201.7l7.4 7.4M670.2 209.1l7.4 -7.4M671.5 203.5h10.4M676.7 198.3v10.4M673.0 199.8l7.4 7.4M673.0 207.2l7.4 -7.4M674.3 230.8h10.4M679.5 225.6v10.4M675.8 227.1l7.4 7.4M675.8 234.5l7.4 -7.4M364.8 197.0h10.4M370.0 191.8v10.4M366.3 193.3l7.4 7.4M366.3 200.7l7.4 -7.4M379.8 197.0h10.4M385.0 191.8v10.4M381.3 193.3l7.4 7.4M381.3 200.7l7.4 -7.4M396.8 230.7h10.4M402.0 225.5v10.4M398.3 227.0l7.4 7.4M398.3 234.4l7.4 -7.4M653.3 80.0h10.4M658.5 74.8v10.4M654.8 76.3l7.4 7.4M654.8 83.7l7.4 -7.4" fill="none" stroke="#ff0000" stroke-width="1.15"/>
</g>
<path d="M86.6 7.6H844.7M86.6 416.5H844.7" fill="none" stroke="#3a3a3a" stroke-width="1.1"/>
<path d="M86.6 7.1V417.0M844.7 7.1V417.0" fill="none" stroke="#505050" stroke-width="1.1"/>
<path d="M173.4 416.5v-7.0M173.4 7.6v7.0M331.5 416.5v-7.0M331.5 7.6v7.0M489.6 416.5v-7.0M489.6 7.6v7.0M647.7 416.5v-7.0M647.7 7.6v7.0M805.8 416.5v-7.0M805.8 7.6v7.0M86.6 416.6h7.0M844.7 416.6h-7.0M86.6 314.3h7.0M844.7 314.3h-7.0M86.6 212.1h7.0M844.7 212.1h-7.0M86.6 109.8h7.0M844.7 109.8h-7.0M86.6 7.6h7.0M844.7 7.6h-7.0" stroke="#505050" stroke-width="1" fill="none"/>
<text x="173.4" y="452.1" text-anchor="middle" font-size="26.0" fill="#262626" stroke="#262626">2015/07/01</text>
<text x="331.5" y="452.1" text-anchor="middle" font-size="26.0" fill="#262626" stroke="#262626">2015/09/22</text>
<text x="489.6" y="452.1" text-anchor="middle" font-size="26.0" fill="#262626" stroke="#262626">2015/12/15</text>
<text x="647.7" y="452.1" text-anchor="middle" font-size="26.0" fill="#262626" stroke="#262626">2016/03/07</text>
<text x="805.8" y="452.1" text-anchor="middle" font-size="26.0" fill="#262626" stroke="#262626">2016/05/30</text>
<text x="77.6" y="427.1" text-anchor="end" font-size="26.0" fill="#262626" stroke="#262626">-0.2</text>
<text x="77.6" y="324.8" text-anchor="end" font-size="26.0" fill="#262626" stroke="#262626">0</text>
<text x="77.6" y="222.6" text-anchor="end" font-size="26.0" fill="#262626" stroke="#262626">0.2</text>
<text x="77.6" y="120.3" text-anchor="end" font-size="26.0" fill="#262626" stroke="#262626">0.4</text>
<text x="77.6" y="18.1" text-anchor="end" font-size="26.0" fill="#262626" stroke="#262626">0.6</text>
<text x="465.5" y="489.0" text-anchor="middle" font-size="28.5" fill="#262626" stroke="#262626">Time /day</text>
<text transform="translate(21.2 212.0) rotate(-90)" text-anchor="middle" font-size="28.5" fill="#262626" stroke="#262626">Snow depth /m</text>
<rect x="97.4" y="19.1" width="251.2" height="94.3" fill="#fff" stroke="#262626" stroke-width="1"/>
<path d="M101.6 36.3h43.4" stroke="#000" stroke-width="3" fill="none"/>
<path d="M118.5 66.5a4.5 4.5 0 1 0 9.0 0a4.5 4.5 0 1 0 -9.0 0" fill="none" stroke="#0000ff" stroke-width="1.6"/>
<path d="M117.8 96.7h10.4M123.0 91.5v10.4M119.3 93.0l7.4 7.4M119.3 100.4l7.4 -7.4" fill="none" stroke="#ff0000" stroke-width="1.15"/>
<text x="154.0" y="45.2" font-size="23.4" fill="#000" stroke="#000">In situ observation</text>
<text x="154.0" y="75.4" font-size="23.4" fill="#000" stroke="#000">SNR2</text>
<text x="154.0" y="105.6" font-size="23.4" fill="#000" stroke="#000">SNR combination</text>
<path d="M1116.3 309.2h8.5M1120.6 304.9v8.5M1117.6 306.2l6.0 6.0M1117.6 312.2l6.0 -6.0M1112.1 315.4h8.5M1116.3 311.2v8.5M1113.3 312.4l6.0 6.0M1113.3 318.4l6.0 -6.0M1114.8 310.0h8.5M1119.1 305.7v8.5M1116.1 307.0l6.0 6.0M1116.1 313.0l6.0 -6.0M1127.0 309.7h8.5M1131.2 305.5v8.5M1128.2 306.7l6.0 6.0M1128.2 312.7l6.0 -6.0M1124.2 310.0h8.5M1128.4 305.8v8.5M1125.4 307.0l6.0 6.0M1125.4 313.0l6.0 -6.0M1139.9 310.2h8.5M1144.1 306.0v8.5M1141.1 307.2l6.0 6.0M1141.1 313.2l6.0 -6.0M1109.5 310.2h8.5M1113.8 305.9v8.5M1110.8 307.2l6.0 6.0M1110.8 313.2l6.0 -6.0M1120.5 312.0h8.5M1124.7 307.7v8.5M1121.7 309.0l6.0 6.0M1121.7 315.0l6.0 -6.0M1124.3 307.5h8.5M1128.6 303.3v8.5M1125.6 304.5l6.0 6.0M1125.6 310.5l6.0 -6.0M1134.4 309.3h8.5M1138.7 305.1v8.5M1135.7 306.3l6.0 6.0M1135.7 312.4l6.0 -6.0M1127.5 311.8h8.5M1131.8 307.6v8.5M1128.8 308.8l6.0 6.0M1128.8 314.8l6.0 -6.0M1125.8 307.0h8.5M1130.0 302.8v8.5M1127.0 304.0l6.0 6.0M1127.0 310.1l6.0 -6.0M1129.6 312.5h8.5M1133.9 308.2v8.5M1130.9 309.5l6.0 6.0M1130.9 315.5l6.0 -6.0M1127.0 312.7h8.5M1131.3 308.5v8.5M1128.3 309.7l6.0 6.0M1128.3 315.7l6.0 -6.0M1121.5 308.7h8.5M1125.7 304.5v8.5M1122.7 305.7l6.0 6.0M1122.7 311.7l6.0 -6.0M1115.3 308.2h8.5M1119.6 304.0v8.5M1116.6 305.2l6.0 6.0M1116.6 311.2l6.0 -6.0M1122.9 309.1h8.5M1127.1 304.8v8.5M1124.1 306.1l6.0 6.0M1124.1 312.1l6.0 -6.0M1123.3 310.1h8.5M1127.6 305.9v8.5M1124.6 307.1l6.0 6.0M1124.6 313.1l6.0 -6.0M1124.7 309.5h8.5M1129.0 305.2v8.5M1126.0 306.5l6.0 6.0M1126.0 312.5l6.0 -6.0M1111.7 309.8h8.5M1115.9 305.6v8.5M1112.9 306.8l6.0 6.0M1112.9 312.8l6.0 -6.0M1116.4 309.6h8.5M1120.7 305.3v8.5M1117.7 306.6l6.0 6.0M1117.7 312.6l6.0 -6.0M1125.9 308.5h8.5M1130.1 304.2v8.5M1127.1 305.5l6.0 6.0M1127.1 311.5l6.0 -6.0M1128.0 309.1h8.5M1132.3 304.9v8.5M1129.3 306.1l6.0 6.0M1129.3 312.1l6.0 -6.0M1117.2 309.5h8.5M1121.5 305.3v8.5M1118.5 306.5l6.0 6.0M1118.5 312.5l6.0 -6.0M1136.5 312.6h8.5M1140.7 308.4v8.5M1137.7 309.6l6.0 6.0M1137.7 315.6l6.0 -6.0M1122.6 311.2h8.5M1126.8 307.0v8.5M1123.8 308.2l6.0 6.0M1123.8 314.2l6.0 -6.0M1125.8 311.1h8.5M1130.1 306.8v8.5M1127.1 308.1l6.0 6.0M1127.1 314.1l6.0 -6.0M1108.2 311.5h8.5M1112.4 307.3v8.5M1109.4 308.5l6.0 6.0M1109.4 314.5l6.0 -6.0M1125.0 309.0h8.5M1129.2 304.7v8.5M1126.2 306.0l6.0 6.0M1126.2 312.0l6.0 -6.0M1115.3 307.6h8.5M1119.6 303.4v8.5M1116.6 304.6l6.0 6.0M1116.6 310.6l6.0 -6.0M1110.6 311.1h8.5M1114.8 306.9v8.5M1111.8 308.1l6.0 6.0M1111.8 314.1l6.0 -6.0M1127.2 309.9h8.5M1131.4 305.6v8.5M1128.4 306.9l6.0 6.0M1128.4 312.9l6.0 -6.0M1118.8 310.6h8.5M1123.1 306.4v8.5M1120.0 307.6l6.0 6.0M1120.0 313.6l6.0 -6.0M1125.7 309.2h8.5M1129.9 304.9v8.5M1126.9 306.2l6.0 6.0M1126.9 312.2l6.0 -6.0M1125.7 309.2h8.5M1130.0 305.0v8.5M1126.9 306.2l6.0 6.0M1126.9 312.2l6.0 -6.0M1121.9 309.0h8.5M1126.1 304.8v8.5M1123.1 306.0l6.0 6.0M1123.1 312.0l6.0 -6.0M1108.2 309.1h8.5M1112.4 304.9v8.5M1109.4 306.1l6.0 6.0M1109.4 312.1l6.0 -6.0M1114.8 309.1h8.5M1119.0 304.9v8.5M1116.0 306.1l6.0 6.0M1116.0 312.1l6.0 -6.0M1120.9 308.1h8.5M1125.2 303.9v8.5M1122.2 305.1l6.0 6.0M1122.2 311.1l6.0 -6.0M1088.0 310.3h8.5M1092.2 306.1v8.5M1089.2 307.3l6.0 6.0M1089.2 313.3l6.0 -6.0M1105.6 309.2h8.5M1109.9 304.9v8.5M1106.9 306.2l6.0 6.0M1106.9 312.2l6.0 -6.0M1051.6 309.6h8.5M1055.8 305.3v8.5M1052.8 306.6l6.0 6.0M1052.8 312.6l6.0 -6.0M1088.0 310.2h8.5M1092.2 306.0v8.5M1089.2 307.2l6.0 6.0M1089.2 313.2l6.0 -6.0M1115.7 309.5h8.5M1120.0 305.3v8.5M1116.9 306.5l6.0 6.0M1116.9 312.6l6.0 -6.0M1110.2 310.5h8.5M1114.5 306.3v8.5M1111.5 307.5l6.0 6.0M1111.5 313.5l6.0 -6.0M1096.1 309.3h8.5M1100.4 305.1v8.5M1097.4 306.3l6.0 6.0M1097.4 312.3l6.0 -6.0M1124.4 308.8h8.5M1128.6 304.6v8.5M1125.6 305.8l6.0 6.0M1125.6 311.8l6.0 -6.0M1096.1 307.4h8.5M1100.4 303.2v8.5M1097.4 304.4l6.0 6.0M1097.4 310.5l6.0 -6.0M1111.1 308.3h8.5M1115.4 304.1v8.5M1112.4 305.3l6.0 6.0M1112.4 311.3l6.0 -6.0M1076.6 307.1h8.5M1080.9 302.9v8.5M1077.9 304.1l6.0 6.0M1077.9 310.1l6.0 -6.0M1143.3 308.8h8.5M1147.6 304.5v8.5M1144.6 305.8l6.0 6.0M1144.6 311.8l6.0 -6.0M1101.4 306.6h8.5M1105.7 302.3v8.5M1102.7 303.6l6.0 6.0M1102.7 309.6l6.0 -6.0M1092.0 307.7h8.5M1096.2 303.4v8.5M1093.2 304.7l6.0 6.0M1093.2 310.7l6.0 -6.0M1065.0 311.4h8.5M1069.3 307.2v8.5M1066.3 308.4l6.0 6.0M1066.3 314.4l6.0 -6.0M1073.2 312.4h8.5M1077.5 308.2v8.5M1074.4 309.4l6.0 6.0M1074.4 315.4l6.0 -6.0M1123.8 311.1h8.5M1128.1 306.8v8.5M1125.1 308.0l6.0 6.0M1125.1 314.1l6.0 -6.0M1066.5 312.1h8.5M1070.7 307.9v8.5M1067.7 309.1l6.0 6.0M1067.7 315.1l6.0 -6.0M1106.5 296.2h8.5M1110.8 291.9v8.5M1107.8 293.2l6.0 6.0M1107.8 299.2l6.0 -6.0M1105.5 306.9h8.5M1109.7 302.7v8.5M1106.7 303.9l6.0 6.0M1106.7 310.0l6.0 -6.0M1077.2 312.2h8.5M1081.5 307.9v8.5M1078.5 309.2l6.0 6.0M1078.5 315.2l6.0 -6.0M1057.0 309.5h8.5M1061.3 305.2v8.5M1058.2 306.5l6.0 6.0M1058.2 312.5l6.0 -6.0M1122.8 306.5h8.5M1127.0 302.2v8.5M1124.0 303.5l6.0 6.0M1124.0 309.5l6.0 -6.0M1120.0 296.7h8.5M1124.3 292.4v8.5M1121.3 293.7l6.0 6.0M1121.3 299.7l6.0 -6.0M1083.4 308.6h8.5M1087.6 304.3v8.5M1084.6 305.6l6.0 6.0M1084.6 311.6l6.0 -6.0M1122.0 314.0h8.5M1126.3 309.8v8.5M1123.3 311.0l6.0 6.0M1123.3 317.0l6.0 -6.0M1118.6 309.7h8.5M1122.9 305.5v8.5M1119.9 306.7l6.0 6.0M1119.9 312.7l6.0 -6.0M1123.0 308.3h8.5M1127.2 304.1v8.5M1124.2 305.3l6.0 6.0M1124.2 311.3l6.0 -6.0M1124.3 309.8h8.5M1128.5 305.6v8.5M1125.5 306.8l6.0 6.0M1125.5 312.8l6.0 -6.0M1121.5 313.9h8.5M1125.7 309.7v8.5M1122.7 310.9l6.0 6.0M1122.7 316.9l6.0 -6.0M1128.1 307.7h8.5M1132.4 303.4v8.5M1129.4 304.7l6.0 6.0M1129.4 310.7l6.0 -6.0M1138.3 298.0h8.5M1142.6 293.7v8.5M1139.6 295.0l6.0 6.0M1139.6 301.0l6.0 -6.0M1123.8 286.7h8.5M1128.1 282.4v8.5M1125.1 283.7l6.0 6.0M1125.1 289.7l6.0 -6.0M1158.6 303.9h8.5M1162.8 299.7v8.5M1159.8 300.9l6.0 6.0M1159.8 307.0l6.0 -6.0M1124.9 302.8h8.5M1129.1 298.6v8.5M1126.1 299.8l6.0 6.0M1126.1 305.8l6.0 -6.0M1160.7 307.6h8.5M1164.9 303.3v8.5M1161.9 304.6l6.0 6.0M1161.9 310.6l6.0 -6.0M1159.1 308.0h8.5M1163.3 303.8v8.5M1160.3 305.0l6.0 6.0M1160.3 311.0l6.0 -6.0M1150.7 305.6h8.5M1155.0 301.3v8.5M1152.0 302.6l6.0 6.0M1152.0 308.6l6.0 -6.0M1155.3 300.0h8.5M1159.5 295.7v8.5M1156.5 297.0l6.0 6.0M1156.5 303.0l6.0 -6.0M1155.1 303.0h8.5M1159.4 298.8v8.5M1156.4 300.0l6.0 6.0M1156.4 306.0l6.0 -6.0M1129.8 307.0h8.5M1134.0 302.8v8.5M1131.0 304.0l6.0 6.0M1131.0 310.0l6.0 -6.0M1162.2 299.9h8.5M1166.5 295.7v8.5M1163.5 296.9l6.0 6.0M1163.5 302.9l6.0 -6.0M1136.2 300.3h8.5M1140.4 296.0v8.5M1137.4 297.3l6.0 6.0M1137.4 303.3l6.0 -6.0M1143.8 292.4h8.5M1148.1 288.1v8.5M1145.1 289.4l6.0 6.0M1145.1 295.4l6.0 -6.0M1137.1 276.8h8.5M1141.3 272.6v8.5M1138.3 273.8l6.0 6.0M1138.3 279.8l6.0 -6.0M1151.7 293.3h8.5M1156.0 289.1v8.5M1153.0 290.3l6.0 6.0M1153.0 296.3l6.0 -6.0M1159.6 294.5h8.5M1163.9 290.3v8.5M1160.9 291.5l6.0 6.0M1160.9 297.5l6.0 -6.0M1160.6 287.7h8.5M1164.8 283.4v8.5M1161.8 284.7l6.0 6.0M1161.8 290.7l6.0 -6.0M1166.6 281.9h8.5M1170.8 277.6v8.5M1167.8 278.9l6.0 6.0M1167.8 284.9l6.0 -6.0M1160.1 277.8h8.5M1164.3 273.6v8.5M1161.3 274.8l6.0 6.0M1161.3 280.8l6.0 -6.0M1172.2 276.6h8.5M1176.5 272.3v8.5M1173.4 273.6l6.0 6.0M1173.4 279.6l6.0 -6.0M1178.1 276.2h8.5M1182.4 272.0v8.5M1179.4 273.2l6.0 6.0M1179.4 279.2l6.0 -6.0M1172.0 271.7h8.5M1176.2 267.4v8.5M1173.2 268.7l6.0 6.0M1173.2 274.7l6.0 -6.0M1163.2 269.7h8.5M1167.4 265.5v8.5M1164.4 266.7l6.0 6.0M1164.4 272.7l6.0 -6.0M1182.6 270.3h8.5M1186.9 266.0v8.5M1183.9 267.3l6.0 6.0M1183.9 273.3l6.0 -6.0M1180.8 261.8h8.5M1185.1 257.5v8.5M1182.1 258.8l6.0 6.0M1182.1 264.8l6.0 -6.0M1178.0 261.5h8.5M1182.2 257.2v8.5M1179.2 258.4l6.0 6.0M1179.2 264.5l6.0 -6.0M1186.7 261.5h8.5M1190.9 257.3v8.5M1187.9 258.5l6.0 6.0M1187.9 264.6l6.0 -6.0M1184.9 265.8h8.5M1189.2 261.5v8.5M1186.1 262.8l6.0 6.0M1186.1 268.8l6.0 -6.0M1187.2 257.6h8.5M1191.4 253.3v8.5M1188.4 254.6l6.0 6.0M1188.4 260.6l6.0 -6.0M1202.2 258.5h8.5M1206.4 254.3v8.5M1203.4 255.5l6.0 6.0M1203.4 261.5l6.0 -6.0M1191.4 259.6h8.5M1195.6 255.4v8.5M1192.6 256.6l6.0 6.0M1192.6 262.6l6.0 -6.0M1196.5 262.0h8.5M1200.8 257.8v8.5M1197.8 259.0l6.0 6.0M1197.8 265.0l6.0 -6.0M1275.7 220.8h8.5M1280.0 216.5v8.5M1277.0 217.7l6.0 6.0M1277.0 223.8l6.0 -6.0M1280.6 216.8h8.5M1284.8 212.6v8.5M1281.8 213.8l6.0 6.0M1281.8 219.8l6.0 -6.0M1260.6 211.2h8.5M1264.9 206.9v8.5M1261.9 208.2l6.0 6.0M1261.9 214.2l6.0 -6.0M1254.5 213.6h8.5M1258.7 209.4v8.5M1255.7 210.6l6.0 6.0M1255.7 216.7l6.0 -6.0M1259.6 210.9h8.5M1263.8 206.6v8.5M1260.8 207.9l6.0 6.0M1260.8 213.9l6.0 -6.0M1248.7 214.2h8.5M1252.9 210.0v8.5M1249.9 211.2l6.0 6.0M1249.9 217.3l6.0 -6.0M1257.7 227.5h8.5M1262.0 223.2v8.5M1259.0 224.5l6.0 6.0M1259.0 230.5l6.0 -6.0M1245.8 215.6h8.5M1250.1 211.4v8.5M1247.1 212.6l6.0 6.0M1247.1 218.6l6.0 -6.0M1257.3 221.2h8.5M1261.6 216.9v8.5M1258.6 218.2l6.0 6.0M1258.6 224.2l6.0 -6.0M1251.2 217.5h8.5M1255.4 213.2v8.5M1252.4 214.5l6.0 6.0M1252.4 220.5l6.0 -6.0M1273.6 217.1h8.5M1277.8 212.9v8.5M1274.8 214.1l6.0 6.0M1274.8 220.1l6.0 -6.0M1262.6 213.3h8.5M1266.8 209.0v8.5M1263.8 210.3l6.0 6.0M1263.8 216.3l6.0 -6.0M1258.3 212.5h8.5M1262.5 208.2v8.5M1259.5 209.5l6.0 6.0M1259.5 215.5l6.0 -6.0M1263.3 219.3h8.5M1267.6 215.0v8.5M1264.6 216.3l6.0 6.0M1264.6 222.3l6.0 -6.0M1259.4 219.7h8.5M1263.7 215.4v8.5M1260.7 216.6l6.0 6.0M1260.7 222.7l6.0 -6.0M1253.6 217.8h8.5M1257.8 213.6v8.5M1254.8 214.8l6.0 6.0M1254.8 220.8l6.0 -6.0M1266.9 212.1h8.5M1271.2 207.9v8.5M1268.2 209.1l6.0 6.0M1268.2 215.1l6.0 -6.0M1259.7 219.0h8.5M1264.0 214.7v8.5M1261.0 216.0l6.0 6.0M1261.0 222.0l6.0 -6.0M1266.9 215.8h8.5M1271.1 211.5v8.5M1268.1 212.8l6.0 6.0M1268.1 218.8l6.0 -6.0M1255.1 212.3h8.5M1259.3 208.0v8.5M1256.3 209.3l6.0 6.0M1256.3 215.3l6.0 -6.0M1260.7 212.7h8.5M1265.0 208.4v8.5M1262.0 209.7l6.0 6.0M1262.0 215.7l6.0 -6.0M1268.0 215.5h8.5M1272.3 211.2v8.5M1269.3 212.5l6.0 6.0M1269.3 218.5l6.0 -6.0M1256.5 212.0h8.5M1260.7 207.7v8.5M1257.7 208.9l6.0 6.0M1257.7 215.0l6.0 -6.0M1280.5 212.2h8.5M1284.7 207.9v8.5M1281.7 209.2l6.0 6.0M1281.7 215.2l6.0 -6.0M1289.3 201.5h8.5M1293.5 197.3v8.5M1290.5 198.5l6.0 6.0M1290.5 204.5l6.0 -6.0M1327.5 182.1h8.5M1331.8 177.9v8.5M1328.8 179.1l6.0 6.0M1328.8 185.1l6.0 -6.0M1316.9 171.8h8.5M1321.1 167.5v8.5M1318.1 168.7l6.0 6.0M1318.1 174.8l6.0 -6.0M1317.5 172.5h8.5M1321.7 168.2v8.5M1318.7 169.5l6.0 6.0M1318.7 175.5l6.0 -6.0M1324.8 162.9h8.5M1329.1 158.6v8.5M1326.1 159.9l6.0 6.0M1326.1 165.9l6.0 -6.0M1333.0 165.7h8.5M1337.3 161.5v8.5M1334.3 162.7l6.0 6.0M1334.3 168.8l6.0 -6.0M1334.2 165.1h8.5M1338.4 160.9v8.5M1335.4 162.1l6.0 6.0M1335.4 168.1l6.0 -6.0M1323.4 161.9h8.5M1327.7 157.6v8.5M1324.7 158.9l6.0 6.0M1324.7 164.9l6.0 -6.0M1341.0 155.5h8.5M1345.3 151.2v8.5M1342.3 152.5l6.0 6.0M1342.3 158.5l6.0 -6.0M1359.8 145.7h8.5M1364.0 141.5v8.5M1361.0 142.7l6.0 6.0M1361.0 148.7l6.0 -6.0M1377.9 148.0h8.5M1382.2 143.8v8.5M1379.2 145.0l6.0 6.0M1379.2 151.0l6.0 -6.0M1378.7 139.8h8.5M1383.0 135.6v8.5M1380.0 136.8l6.0 6.0M1380.0 142.8l6.0 -6.0M1351.8 142.8h8.5M1356.1 138.5v8.5M1353.1 139.8l6.0 6.0M1353.1 145.8l6.0 -6.0M1356.1 138.8h8.5M1360.3 134.5v8.5M1357.3 135.8l6.0 6.0M1357.3 141.8l6.0 -6.0M1378.6 130.0h8.5M1382.9 125.8v8.5M1379.9 127.0l6.0 6.0M1379.9 133.0l6.0 -6.0M1369.1 132.6h8.5M1373.4 128.4v8.5M1370.3 129.6l6.0 6.0M1370.3 135.7l6.0 -6.0M1378.7 132.7h8.5M1382.9 128.4v8.5M1379.9 129.7l6.0 6.0M1379.9 135.7l6.0 -6.0M1392.8 126.7h8.5M1397.0 122.4v8.5M1394.0 123.7l6.0 6.0M1394.0 129.7l6.0 -6.0M1380.8 125.3h8.5M1385.0 121.1v8.5M1382.0 122.3l6.0 6.0M1382.0 128.3l6.0 -6.0M1349.9 132.8h8.5M1354.2 128.6v8.5M1351.2 129.8l6.0 6.0M1351.2 135.8l6.0 -6.0M1376.6 133.4h8.5M1380.8 129.1v8.5M1377.8 130.4l6.0 6.0M1377.8 136.4l6.0 -6.0M1350.9 132.0h8.5M1355.1 127.8v8.5M1352.1 129.0l6.0 6.0M1352.1 135.0l6.0 -6.0M1341.4 134.5h8.5M1345.7 130.3v8.5M1342.7 131.5l6.0 6.0M1342.7 137.5l6.0 -6.0M1353.5 135.5h8.5M1357.7 131.2v8.5M1354.7 132.5l6.0 6.0M1354.7 138.5l6.0 -6.0M1358.8 127.7h8.5M1363.1 123.5v8.5M1360.1 124.7l6.0 6.0M1360.1 130.8l6.0 -6.0M1336.2 130.7h8.5M1340.4 126.4v8.5M1337.4 127.7l6.0 6.0M1337.4 133.7l6.0 -6.0M1375.2 137.1h8.5M1379.4 132.9v8.5M1376.4 134.1l6.0 6.0M1376.4 140.1l6.0 -6.0M1334.9 130.9h8.5M1339.1 126.7v8.5M1336.1 127.9l6.0 6.0M1336.1 133.9l6.0 -6.0M1359.5 132.4h8.5M1363.7 128.1v8.5M1360.7 129.4l6.0 6.0M1360.7 135.4l6.0 -6.0M1352.9 131.6h8.5M1357.1 127.3v8.5M1354.1 128.6l6.0 6.0M1354.1 134.6l6.0 -6.0M1349.0 132.1h8.5M1353.2 127.9v8.5M1350.2 129.1l6.0 6.0M1350.2 135.1l6.0 -6.0M1351.7 128.9h8.5M1356.0 124.7v8.5M1353.0 125.9l6.0 6.0M1353.0 131.9l6.0 -6.0M1378.3 131.6h8.5M1382.6 127.4v8.5M1379.6 128.6l6.0 6.0M1379.6 134.6l6.0 -6.0M1384.9 132.0h8.5M1389.1 127.7v8.5M1386.1 128.9l6.0 6.0M1386.1 135.0l6.0 -6.0M1375.0 135.8h8.5M1379.2 131.6v8.5M1376.2 132.8l6.0 6.0M1376.2 138.9l6.0 -6.0M1377.7 134.1h8.5M1382.0 129.8v8.5M1379.0 131.1l6.0 6.0M1379.0 137.1l6.0 -6.0M1381.7 127.0h8.5M1386.0 122.7v8.5M1383.0 124.0l6.0 6.0M1383.0 130.0l6.0 -6.0M1386.0 135.0h8.5M1390.3 130.8v8.5M1387.3 132.0l6.0 6.0M1387.3 138.0l6.0 -6.0M1376.6 134.1h8.5M1380.9 129.8v8.5M1377.9 131.1l6.0 6.0M1377.9 137.1l6.0 -6.0M1386.5 131.6h8.5M1390.7 127.3v8.5M1387.7 128.6l6.0 6.0M1387.7 134.6l6.0 -6.0M1396.2 126.8h8.5M1400.5 122.5v8.5M1397.5 123.8l6.0 6.0M1397.5 129.8l6.0 -6.0M1379.0 122.1h8.5M1383.3 117.9v8.5M1380.3 119.1l6.0 6.0M1380.3 125.1l6.0 -6.0M1378.0 123.9h8.5M1382.2 119.7v8.5M1379.2 120.9l6.0 6.0M1379.2 126.9l6.0 -6.0M1389.8 118.4h8.5M1394.0 114.1v8.5M1391.0 115.4l6.0 6.0M1391.0 121.4l6.0 -6.0M1380.8 124.2h8.5M1385.0 119.9v8.5M1382.0 121.2l6.0 6.0M1382.0 127.2l6.0 -6.0M1428.2 108.6h8.5M1432.4 104.4v8.5M1429.4 105.6l6.0 6.0M1429.4 111.6l6.0 -6.0M1433.7 79.9h8.5M1437.9 75.6v8.5M1434.9 76.9l6.0 6.0M1434.9 82.9l6.0 -6.0M1444.7 85.2h8.5M1449.0 81.0v8.5M1446.0 82.2l6.0 6.0M1446.0 88.2l6.0 -6.0M1430.6 85.2h8.5M1434.9 80.9v8.5M1431.9 82.2l6.0 6.0M1431.9 88.2l6.0 -6.0M1434.3 90.2h8.5M1438.5 85.9v8.5M1435.5 87.2l6.0 6.0M1435.5 93.2l6.0 -6.0M1439.7 86.0h8.5M1443.9 81.8v8.5M1440.9 83.0l6.0 6.0M1440.9 89.0l6.0 -6.0M1439.2 82.5h8.5M1443.4 78.3v8.5M1440.4 79.5l6.0 6.0M1440.4 85.5l6.0 -6.0M1435.6 82.5h8.5M1439.9 78.3v8.5M1436.9 79.5l6.0 6.0M1436.9 85.5l6.0 -6.0M1447.1 86.0h8.5M1451.4 81.7v8.5M1448.4 83.0l6.0 6.0M1448.4 89.0l6.0 -6.0M1431.0 87.9h8.5M1435.2 83.6v8.5M1432.2 84.9l6.0 6.0M1432.2 90.9l6.0 -6.0M1436.4 85.7h8.5M1440.7 81.4v8.5M1437.6 82.7l6.0 6.0M1437.6 88.7l6.0 -6.0M1429.6 98.6h8.5M1433.9 94.3v8.5M1430.9 95.6l6.0 6.0M1430.9 101.6l6.0 -6.0M1427.3 95.0h8.5M1431.5 90.8v8.5M1428.5 92.0l6.0 6.0M1428.5 98.0l6.0 -6.0M1422.8 98.7h8.5M1427.1 94.4v8.5M1424.1 95.7l6.0 6.0M1424.1 101.7l6.0 -6.0M1428.0 95.7h8.5M1432.3 91.4v8.5M1429.2 92.7l6.0 6.0M1429.2 98.7l6.0 -6.0M1421.1 102.8h8.5M1425.3 98.5v8.5M1422.3 99.8l6.0 6.0M1422.3 105.8l6.0 -6.0M1433.2 86.7h8.5M1437.4 82.5v8.5M1434.4 83.7l6.0 6.0M1434.4 89.7l6.0 -6.0M1434.4 91.3h8.5M1438.7 87.0v8.5M1435.7 88.3l6.0 6.0M1435.7 94.3l6.0 -6.0M1434.9 85.7h8.5M1439.2 81.5v8.5M1436.2 82.7l6.0 6.0M1436.2 88.7l6.0 -6.0M1443.6 82.1h8.5M1447.9 77.9v8.5M1444.9 79.1l6.0 6.0M1444.9 85.1l6.0 -6.0M1457.5 84.1h8.5M1461.7 79.9v8.5M1458.7 81.1l6.0 6.0M1458.7 87.1l6.0 -6.0M1447.8 82.4h8.5M1452.0 78.1v8.5M1449.0 79.4l6.0 6.0M1449.0 85.4l6.0 -6.0M1455.9 76.0h8.5M1460.2 71.7v8.5M1457.2 73.0l6.0 6.0M1457.2 79.0l6.0 -6.0M1457.2 71.6h8.5M1461.4 67.3v8.5M1458.4 68.6l6.0 6.0M1458.4 74.6l6.0 -6.0M1460.5 66.2h8.5M1464.7 62.0v8.5M1461.7 63.2l6.0 6.0M1461.7 69.2l6.0 -6.0M1464.6 69.4h8.5M1468.9 65.1v8.5M1465.9 66.4l6.0 6.0M1465.9 72.4l6.0 -6.0M1468.4 54.8h8.5M1472.7 50.6v8.5M1469.7 51.8l6.0 6.0M1469.7 57.8l6.0 -6.0M1478.5 63.9h8.5M1482.8 59.6v8.5M1479.8 60.9l6.0 6.0M1479.8 66.9l6.0 -6.0M1473.2 63.3h8.5M1477.4 59.1v8.5M1474.4 60.3l6.0 6.0M1474.4 66.3l6.0 -6.0M1470.0 74.1h8.5M1474.3 69.9v8.5M1471.3 71.1l6.0 6.0M1471.3 77.1l6.0 -6.0M1471.8 63.8h8.5M1476.0 59.6v8.5M1473.0 60.8l6.0 6.0M1473.0 66.8l6.0 -6.0M1460.1 66.8h8.5M1464.3 62.6v8.5M1461.3 63.8l6.0 6.0M1461.3 69.8l6.0 -6.0M1456.3 70.9h8.5M1460.5 66.6v8.5M1457.5 67.9l6.0 6.0M1457.5 73.9l6.0 -6.0M1464.6 74.9h8.5M1468.9 70.6v8.5M1465.9 71.9l6.0 6.0M1465.9 77.9l6.0 -6.0M1454.3 70.2h8.5M1458.5 66.0v8.5M1455.5 67.2l6.0 6.0M1455.5 73.2l6.0 -6.0M1460.4 73.9h8.5M1464.6 69.6v8.5M1461.6 70.8l6.0 6.0M1461.6 76.9l6.0 -6.0M1463.2 83.7h8.5M1467.5 79.5v8.5M1464.5 80.7l6.0 6.0M1464.5 86.7l6.0 -6.0M1443.1 84.4h8.5M1447.4 80.1v8.5M1444.4 81.4l6.0 6.0M1444.4 87.4l6.0 -6.0M1443.7 85.1h8.5M1447.9 80.8v8.5M1444.9 82.0l6.0 6.0M1444.9 88.1l6.0 -6.0M1431.0 80.6h8.5M1435.2 76.3v8.5M1432.2 77.6l6.0 6.0M1432.2 83.6l6.0 -6.0M1431.9 78.9h8.5M1436.2 74.7v8.5M1433.2 75.9l6.0 6.0M1433.2 81.9l6.0 -6.0M1427.6 89.1h8.5M1431.9 84.8v8.5M1428.9 86.1l6.0 6.0M1428.9 92.1l6.0 -6.0M1431.8 83.5h8.5M1436.0 79.3v8.5M1433.0 80.5l6.0 6.0M1433.0 86.5l6.0 -6.0M1431.3 76.6h8.5M1435.6 72.3v8.5M1432.6 73.6l6.0 6.0M1432.6 79.6l6.0 -6.0M1479.4 79.3h8.5M1483.6 75.0v8.5M1480.6 76.3l6.0 6.0M1480.6 82.3l6.0 -6.0M1432.3 80.6h8.5M1436.5 76.3v8.5M1433.5 77.6l6.0 6.0M1433.5 83.6l6.0 -6.0M1429.8 72.5h8.5M1434.1 68.2v8.5M1431.1 69.4l6.0 6.0M1431.1 75.5l6.0 -6.0M1426.2 69.7h8.5M1430.5 65.4v8.5M1427.5 66.7l6.0 6.0M1427.5 72.7l6.0 -6.0M1431.7 68.7h8.5M1435.9 64.4v8.5M1432.9 65.7l6.0 6.0M1432.9 71.7l6.0 -6.0M1431.5 72.0h8.5M1435.7 67.7v8.5M1432.7 69.0l6.0 6.0M1432.7 75.0l6.0 -6.0M1421.0 72.7h8.5M1425.2 68.5v8.5M1422.2 69.7l6.0 6.0M1422.2 75.7l6.0 -6.0M1432.7 69.9h8.5M1436.9 65.7v8.5M1433.9 66.9l6.0 6.0M1433.9 72.9l6.0 -6.0M1420.5 79.4h8.5M1424.7 75.2v8.5M1421.7 76.4l6.0 6.0M1421.7 82.4l6.0 -6.0M1431.2 73.8h8.5M1435.4 69.6v8.5M1432.4 70.8l6.0 6.0M1432.4 76.8l6.0 -6.0M1432.6 80.1h8.5M1436.9 75.8v8.5M1433.9 77.1l6.0 6.0M1433.9 83.1l6.0 -6.0M1424.2 69.7h8.5M1428.4 65.5v8.5M1425.4 66.7l6.0 6.0M1425.4 72.7l6.0 -6.0M1423.1 81.8h8.5M1427.4 77.5v8.5M1424.4 78.8l6.0 6.0M1424.4 84.8l6.0 -6.0M1427.1 83.3h8.5M1431.4 79.1v8.5M1428.4 80.3l6.0 6.0M1428.4 86.3l6.0 -6.0M1429.1 81.4h8.5M1433.4 77.2v8.5M1430.4 78.4l6.0 6.0M1430.4 84.4l6.0 -6.0M1425.8 80.6h8.5M1430.0 76.3v8.5M1427.0 77.6l6.0 6.0M1427.0 83.6l6.0 -6.0M1437.2 84.0h8.5M1441.5 79.7v8.5M1438.5 81.0l6.0 6.0M1438.5 87.0l6.0 -6.0M1427.7 82.8h8.5M1431.9 78.5v8.5M1428.9 79.8l6.0 6.0M1428.9 85.8l6.0 -6.0M1432.6 86.8h8.5M1436.8 82.5v8.5M1433.8 83.8l6.0 6.0M1433.8 89.8l6.0 -6.0M1432.2 87.8h8.5M1436.5 83.5v8.5M1433.5 84.8l6.0 6.0M1433.5 90.8l6.0 -6.0M1424.4 82.6h8.5M1428.7 78.3v8.5M1425.7 79.6l6.0 6.0M1425.7 85.6l6.0 -6.0M1434.2 91.6h8.5M1438.4 87.3v8.5M1435.4 88.6l6.0 6.0M1435.4 94.6l6.0 -6.0M1429.5 89.7h8.5M1433.8 85.5v8.5M1430.8 86.7l6.0 6.0M1430.8 92.8l6.0 -6.0M1417.6 94.6h8.5M1421.9 90.4v8.5M1418.9 91.6l6.0 6.0M1418.9 97.6l6.0 -6.0M1420.4 96.3h8.5M1424.6 92.0v8.5M1421.6 93.3l6.0 6.0M1421.6 99.3l6.0 -6.0M1426.6 94.3h8.5M1430.9 90.1v8.5M1427.8 91.3l6.0 6.0M1427.8 97.3l6.0 -6.0M1426.0 97.9h8.5M1430.3 93.7v8.5M1427.3 94.9l6.0 6.0M1427.3 100.9l6.0 -6.0M1425.4 98.1h8.5M1429.6 93.8v8.5M1426.6 95.1l6.0 6.0M1426.6 101.1l6.0 -6.0M1420.6 86.0h8.5M1424.9 81.7v8.5M1421.9 83.0l6.0 6.0M1421.9 89.0l6.0 -6.0M1415.5 94.3h8.5M1419.8 90.1v8.5M1416.8 91.3l6.0 6.0M1416.8 97.3l6.0 -6.0M1414.3 106.8h8.5M1418.5 102.6v8.5M1415.5 103.8l6.0 6.0M1415.5 109.8l6.0 -6.0M1415.9 106.3h8.5M1420.1 102.1v8.5M1417.1 103.3l6.0 6.0M1417.1 109.3l6.0 -6.0M1420.7 105.9h8.5M1424.9 101.6v8.5M1421.9 102.9l6.0 6.0M1421.9 108.9l6.0 -6.0M1420.1 107.6h8.5M1424.4 103.4v8.5M1421.4 104.6l6.0 6.0M1421.4 110.6l6.0 -6.0M1437.8 91.6h8.5M1442.1 87.4v8.5M1439.0 88.6l6.0 6.0M1439.0 94.6l6.0 -6.0M1402.2 89.7h8.5M1406.5 85.5v8.5M1403.5 86.7l6.0 6.0M1403.5 92.7l6.0 -6.0M1440.1 83.5h8.5M1444.3 79.3v8.5M1441.3 80.5l6.0 6.0M1441.3 86.5l6.0 -6.0M1438.0 89.8h8.5M1442.2 85.5v8.5M1439.2 86.8l6.0 6.0M1439.2 92.8l6.0 -6.0M1093.7 295.7h8.5M1098.0 291.4v8.5M1095.0 292.7l6.0 6.0M1095.0 298.7l6.0 -6.0M1118.3 311.6h8.5M1122.5 307.4v8.5M1119.5 308.6l6.0 6.0M1119.5 314.6l6.0 -6.0M1113.0 311.7h8.5M1117.2 307.5v8.5M1114.2 308.7l6.0 6.0M1114.2 314.7l6.0 -6.0M1111.3 305.4h8.5M1115.5 301.2v8.5M1112.5 302.4l6.0 6.0M1112.5 308.4l6.0 -6.0M1127.7 309.0h8.5M1132.0 304.8v8.5M1129.0 306.0l6.0 6.0M1129.0 312.0l6.0 -6.0M1111.3 308.4h8.5M1115.5 304.2v8.5M1112.5 305.4l6.0 6.0M1112.5 311.4l6.0 -6.0M1116.9 296.0h8.5M1121.2 291.7v8.5M1118.2 293.0l6.0 6.0M1118.2 299.0l6.0 -6.0M1115.0 312.2h8.5M1119.2 308.0v8.5M1116.2 309.2l6.0 6.0M1116.2 315.2l6.0 -6.0M1121.6 312.1h8.5M1125.9 307.8v8.5M1122.9 309.1l6.0 6.0M1122.9 315.1l6.0 -6.0M1120.9 305.0h8.5M1125.2 300.8v8.5M1122.2 302.0l6.0 6.0M1122.2 308.0l6.0 -6.0M1114.8 312.8h8.5M1119.1 308.6v8.5M1116.1 309.8l6.0 6.0M1116.1 315.8l6.0 -6.0M1118.2 309.2h8.5M1122.4 304.9v8.5M1119.4 306.2l6.0 6.0M1119.4 312.2l6.0 -6.0M1129.7 309.4h8.5M1134.0 305.1v8.5M1131.0 306.4l6.0 6.0M1131.0 312.4l6.0 -6.0M1118.6 315.9h8.5M1122.9 311.6v8.5M1119.8 312.9l6.0 6.0M1119.8 318.9l6.0 -6.0M1120.4 309.6h8.5M1124.6 305.3v8.5M1121.6 306.6l6.0 6.0M1121.6 312.6l6.0 -6.0M1124.6 307.3h8.5M1128.9 303.1v8.5M1125.9 304.3l6.0 6.0M1125.9 310.3l6.0 -6.0M1115.0 308.2h8.5M1119.2 303.9v8.5M1116.2 305.1l6.0 6.0M1116.2 311.2l6.0 -6.0M1123.8 309.0h8.5M1128.0 304.7v8.5M1125.0 306.0l6.0 6.0M1125.0 312.0l6.0 -6.0M1110.9 304.1h8.5M1115.2 299.8v8.5M1112.1 301.1l6.0 6.0M1112.1 307.1l6.0 -6.0M1117.4 310.8h8.5M1121.7 306.6v8.5M1118.7 307.8l6.0 6.0M1118.7 313.8l6.0 -6.0M1131.5 307.4h8.5M1135.7 303.2v8.5M1132.7 304.4l6.0 6.0M1132.7 310.4l6.0 -6.0M1116.1 315.0h8.5M1120.4 310.7v8.5M1117.4 312.0l6.0 6.0M1117.4 318.0l6.0 -6.0M1125.5 313.1h8.5M1129.8 308.8v8.5M1126.8 310.0l6.0 6.0M1126.8 316.1l6.0 -6.0M1132.5 310.4h8.5M1136.7 306.1v8.5M1133.7 307.4l6.0 6.0M1133.7 313.4l6.0 -6.0M1126.4 306.6h8.5M1130.7 302.3v8.5M1127.6 303.6l6.0 6.0M1127.6 309.6l6.0 -6.0M1120.1 310.8h8.5M1124.4 306.6v8.5M1121.4 307.8l6.0 6.0M1121.4 313.8l6.0 -6.0M1119.7 305.4h8.5M1123.9 301.1v8.5M1120.9 302.4l6.0 6.0M1120.9 308.4l6.0 -6.0M1118.4 312.3h8.5M1122.7 308.0v8.5M1119.6 309.3l6.0 6.0M1119.6 315.3l6.0 -6.0M1129.3 309.1h8.5M1133.6 304.8v8.5M1130.6 306.1l6.0 6.0M1130.6 312.1l6.0 -6.0M1112.5 313.4h8.5M1116.7 309.1v8.5M1113.7 310.4l6.0 6.0M1113.7 316.4l6.0 -6.0M1120.1 303.8h8.5M1124.3 299.6v8.5M1121.3 300.8l6.0 6.0M1121.3 306.8l6.0 -6.0M1122.5 307.5h8.5M1126.8 303.2v8.5M1123.8 304.5l6.0 6.0M1123.8 310.5l6.0 -6.0M1114.5 308.2h8.5M1118.7 304.0v8.5M1115.7 305.2l6.0 6.0M1115.7 311.3l6.0 -6.0M1124.0 307.6h8.5M1128.2 303.3v8.5M1125.2 304.6l6.0 6.0M1125.2 310.6l6.0 -6.0M1100.9 305.1h8.5M1105.1 300.9v8.5M1102.1 302.1l6.0 6.0M1102.1 308.2l6.0 -6.0M1121.6 306.4h8.5M1125.9 302.1v8.5M1122.9 303.4l6.0 6.0M1122.9 309.4l6.0 -6.0M1118.9 306.4h8.5M1123.1 302.2v8.5M1120.1 303.4l6.0 6.0M1120.1 309.4l6.0 -6.0M1128.6 313.7h8.5M1132.9 309.5v8.5M1129.9 310.7l6.0 6.0M1129.9 316.7l6.0 -6.0M1115.8 310.0h8.5M1120.1 305.7v8.5M1117.1 307.0l6.0 6.0M1117.1 313.0l6.0 -6.0M1122.5 311.0h8.5M1126.8 306.7v8.5M1123.8 308.0l6.0 6.0M1123.8 314.0l6.0 -6.0M1116.1 313.1h8.5M1120.4 308.8v8.5M1117.4 310.1l6.0 6.0M1117.4 316.1l6.0 -6.0M1121.4 305.7h8.5M1125.6 301.5v8.5M1122.6 302.7l6.0 6.0M1122.6 308.8l6.0 -6.0M1118.5 311.4h8.5M1122.8 307.2v8.5M1119.7 308.4l6.0 6.0M1119.7 314.4l6.0 -6.0M1130.1 313.4h8.5M1134.4 309.1v8.5M1131.4 310.3l6.0 6.0M1131.4 316.4l6.0 -6.0M1118.3 306.9h8.5M1122.5 302.7v8.5M1119.5 303.9l6.0 6.0M1119.5 309.9l6.0 -6.0M1115.3 313.3h8.5M1119.6 309.0v8.5M1116.6 310.3l6.0 6.0M1116.6 316.3l6.0 -6.0M1123.0 305.2h8.5M1127.3 301.0v8.5M1124.3 302.2l6.0 6.0M1124.3 308.3l6.0 -6.0M1171.8 309.3h8.5M1176.1 305.0v8.5M1173.1 306.3l6.0 6.0M1173.1 312.3l6.0 -6.0M1115.2 309.8h8.5M1119.5 305.6v8.5M1116.5 306.8l6.0 6.0M1116.5 312.8l6.0 -6.0M1132.4 306.5h8.5M1136.7 302.3v8.5M1133.7 303.5l6.0 6.0M1133.7 309.5l6.0 -6.0M1125.8 312.6h8.5M1130.0 308.3v8.5M1127.0 309.6l6.0 6.0M1127.0 315.6l6.0 -6.0M1115.9 306.3h8.5M1120.2 302.0v8.5M1117.1 303.3l6.0 6.0M1117.1 309.3l6.0 -6.0M1121.8 302.6h8.5M1126.0 298.4v8.5M1123.0 299.6l6.0 6.0M1123.0 305.6l6.0 -6.0M1123.7 305.2h8.5M1127.9 300.9v8.5M1124.9 302.2l6.0 6.0M1124.9 308.2l6.0 -6.0M1122.2 307.5h8.5M1126.5 303.3v8.5M1123.5 304.5l6.0 6.0M1123.5 310.6l6.0 -6.0M1115.7 307.1h8.5M1120.0 302.9v8.5M1117.0 304.1l6.0 6.0M1117.0 310.1l6.0 -6.0M1114.7 310.3h8.5M1118.9 306.1v8.5M1115.9 307.3l6.0 6.0M1115.9 313.3l6.0 -6.0M1127.7 309.0h8.5M1131.9 304.8v8.5M1128.9 306.0l6.0 6.0M1128.9 312.0l6.0 -6.0M1118.0 304.7h8.5M1122.2 300.5v8.5M1119.2 301.7l6.0 6.0M1119.2 307.7l6.0 -6.0M1117.9 308.9h8.5M1122.2 304.6v8.5M1119.2 305.8l6.0 6.0M1119.2 311.9l6.0 -6.0M1109.0 313.8h8.5M1113.2 309.5v8.5M1110.2 310.8l6.0 6.0M1110.2 316.8l6.0 -6.0M1127.4 305.5h8.5M1131.7 301.3v8.5M1128.7 302.5l6.0 6.0M1128.7 308.5l6.0 -6.0M1118.8 311.0h8.5M1123.1 306.7v8.5M1120.1 308.0l6.0 6.0M1120.1 314.0l6.0 -6.0M1120.4 309.7h8.5M1124.7 305.4v8.5M1121.7 306.6l6.0 6.0M1121.7 312.7l6.0 -6.0M1110.6 307.0h8.5M1114.9 302.7v8.5M1111.9 304.0l6.0 6.0M1111.9 310.0l6.0 -6.0M1500.7 56.1h8.5M1505.0 51.9v8.5M1502.0 53.1l6.0 6.0M1502.0 59.1l6.0 -6.0M1479.1 60.8h8.5M1483.3 56.6v8.5M1480.3 57.8l6.0 6.0M1480.3 63.8l6.0 -6.0M1473.8 71.1h8.5M1478.0 66.9v8.5M1475.0 68.1l6.0 6.0M1475.0 74.1l6.0 -6.0M1432.8 85.3h8.5M1437.0 81.0v8.5M1434.0 82.3l6.0 6.0M1434.0 88.3l6.0 -6.0M1323.1 132.4h8.5M1327.4 128.2v8.5M1324.3 129.4l6.0 6.0M1324.3 135.4l6.0 -6.0M1278.1 203.1h8.5M1282.3 198.9v8.5M1279.3 200.1l6.0 6.0M1279.3 206.1l6.0 -6.0M1271.3 205.9h8.5M1275.6 201.7v8.5M1272.6 202.9l6.0 6.0M1272.6 208.9l6.0 -6.0M1256.4 204.0h8.5M1260.7 199.8v8.5M1257.7 201.0l6.0 6.0M1257.7 207.0l6.0 -6.0M1256.4 231.4h8.5M1260.7 227.1v8.5M1257.7 228.4l6.0 6.0M1257.7 234.4l6.0 -6.0M1234.9 197.5h8.5M1239.2 193.3v8.5M1236.2 194.5l6.0 6.0M1236.2 200.5l6.0 -6.0M1239.1 197.5h8.5M1243.3 193.3v8.5M1240.3 194.5l6.0 6.0M1240.3 200.5l6.0 -6.0M1282.2 231.3h8.5M1286.5 227.0v8.5M1283.5 228.3l6.0 6.0M1283.5 234.3l6.0 -6.0" fill="none" stroke="#000" stroke-width="1.0"/>
<path d="M1033.3 370.0L1528.2 29.0" stroke="#1567b4" stroke-width="4.6" fill="none"/>
<path d="M979.6 7.6H1567.2M979.6 417.0H1567.2" fill="none" stroke="#3a3a3a" stroke-width="1.1"/>
<path d="M979.6 7.1V417.5M1567.2 7.1V417.5" fill="none" stroke="#505050" stroke-width="1.1"/>
<path d="M979.6 417.0v-7.0M979.6 7.6v7.0M1126.2 417.0v-7.0M1126.2 7.6v7.0M1272.8 417.0v-7.0M1272.8 7.6v7.0M1419.4 417.0v-7.0M1419.4 7.6v7.0M1566.0 417.0v-7.0M1566.0 7.6v7.0M979.6 417.4h7.0M1567.2 417.4h-7.0M979.6 315.0h7.0M1567.2 315.0h-7.0M979.6 212.6h7.0M1567.2 212.6h-7.0M979.6 110.2h7.0M1567.2 110.2h-7.0M979.6 7.8h7.0M1567.2 7.8h-7.0" stroke="#505050" stroke-width="1" fill="none"/>
<text x="979.6" y="452.6" text-anchor="middle" font-size="26.0" fill="#262626" stroke="#262626">-0.2</text>
<text x="1126.2" y="452.6" text-anchor="middle" font-size="26.0" fill="#262626" stroke="#262626">0</text>
<text x="1272.8" y="452.6" text-anchor="middle" font-size="26.0" fill="#262626" stroke="#262626">0.2</text>
<text x="1419.4" y="452.6" text-anchor="middle" font-size="26.0" fill="#262626" stroke="#262626">0.4</text>
<text x="1566.0" y="452.6" text-anchor="middle" font-size="26.0" fill="#262626" stroke="#262626">0.6</text>
<text x="970.6" y="427.9" text-anchor="end" font-size="26.0" fill="#262626" stroke="#262626">-0.2</text>
<text x="970.6" y="325.5" text-anchor="end" font-size="26.0" fill="#262626" stroke="#262626">0</text>
<text x="970.6" y="223.1" text-anchor="end" font-size="26.0" fill="#262626" stroke="#262626">0.2</text>
<text x="970.6" y="120.7" text-anchor="end" font-size="26.0" fill="#262626" stroke="#262626">0.4</text>
<text x="970.6" y="18.3" text-anchor="end" font-size="26.0" fill="#262626" stroke="#262626">0.6</text>
<text x="1272.6" y="489.0" text-anchor="middle" font-size="28.5" fill="#262626" stroke="#262626">SNR2 /m</text>
<text transform="translate(915.3 213.2) rotate(-90)" text-anchor="middle" font-size="28.5" fill="#262626" stroke="#262626">SNR combination /m</text>
<text x="1020.3" y="78.6" font-size="26.2" fill="#000" stroke="#000">R<tspan dy="-12.5" font-size="20.5">2</tspan><tspan dy="12.5">=0.98</tspan></text>
<text x="845.6" y="550.2" text-anchor="middle" font-family='"Liberation Serif", "DejaVu Serif", serif' font-size="35.6" word-spacing="0.9px" fill="#231815" stroke="#231815" xml:space="preserve">( a )</text>
<path d="M179.0 973.0L198.7 984.0V989.0H179.0Z" fill="#808080"/>
<path d="M573.0 983.8L592.7 983.8V989.0H573.0Z" fill="#808080"/>
<path d="M612.4 983.8L691.2 983.8V989.0H612.4Z" fill="#808080"/>
<rect x="119.90" y="984.0" width="19.70" height="6.5" fill="#808080"/>
<rect x="139.60" y="984.0" width="19.70" height="6.5" fill="#808080"/>
<rect x="159.30" y="973.0" width="19.70" height="17.5" fill="#808080"/>
<rect x="198.70" y="984.0" width="19.70" height="6.5" fill="#808080"/>
<rect x="218.40" y="967.7" width="19.70" height="22.8" fill="#808080"/>
<rect x="238.10" y="973.0" width="19.70" height="17.5" fill="#808080"/>
<rect x="257.80" y="967.4" width="19.70" height="23.1" fill="#808080"/>
<rect x="277.50" y="901.3" width="19.70" height="89.2" fill="#808080"/>
<rect x="297.20" y="945.5" width="19.70" height="45.0" fill="#808080"/>
<rect x="316.90" y="873.5" width="19.70" height="117.0" fill="#808080"/>
<rect x="336.60" y="796.1" width="19.70" height="194.4" fill="#808080"/>
<rect x="356.30" y="735.0" width="19.70" height="255.5" fill="#808080"/>
<rect x="376.00" y="801.4" width="19.70" height="189.1" fill="#808080"/>
<rect x="395.70" y="845.7" width="19.70" height="144.8" fill="#808080"/>
<rect x="415.40" y="707.2" width="19.70" height="283.3" fill="#808080"/>
<rect x="435.10" y="823.5" width="19.70" height="167.0" fill="#808080"/>
<rect x="454.80" y="868.0" width="19.70" height="122.5" fill="#808080"/>
<rect x="474.50" y="895.5" width="19.70" height="95.0" fill="#808080"/>
<rect x="494.20" y="950.9" width="19.70" height="39.6" fill="#808080"/>
<rect x="513.90" y="983.8" width="19.70" height="6.7" fill="#808080"/>
<rect x="533.60" y="983.8" width="19.70" height="6.7" fill="#808080"/>
<rect x="553.30" y="983.8" width="19.70" height="6.7" fill="#808080"/>
<rect x="592.70" y="983.8" width="19.70" height="6.7" fill="#808080"/>
<rect x="691.20" y="983.8" width="19.70" height="6.7" fill="#808080"/>
<path d="M119.90 990.5V984.0H139.60V990.5M139.60 990.5V984.0H159.30V990.5M159.30 990.5V973.0H179.00V990.5M176.85 989.0H200.85M198.70 990.5V984.0H218.40V990.5M218.40 990.5V967.7H238.10V990.5M238.10 990.5V973.0H257.80V990.5M257.80 990.5V967.4H277.50V990.5M277.50 990.5V901.3H297.20V990.5M297.20 990.5V945.5H316.90V990.5M316.90 990.5V873.5H336.60V990.5M336.60 990.5V796.1H356.30V990.5M356.30 990.5V735.0H376.00V990.5M376.00 990.5V801.4H395.70V990.5M395.70 990.5V845.7H415.40V990.5M415.40 990.5V707.2H435.10V990.5M435.10 990.5V823.5H454.80V990.5M454.80 990.5V868.0H474.50V990.5M474.50 990.5V895.5H494.20V990.5M494.20 990.5V950.9H513.90V990.5M513.90 990.5V983.8H533.60V990.5M533.60 990.5V983.8H553.30V990.5M553.30 990.5V983.8H573.00V990.5M570.85 989.0H594.85M592.70 990.5V983.8H612.40V990.5M610.25 989.0H634.25M629.95 989.0H653.95M649.65 989.0H673.65M669.35 989.0H693.35M691.20 990.5V983.8H710.90V990.5" fill="none" stroke="#ffff00" stroke-width="4.3" stroke-linejoin="miter"/>
<path d="M109.6 618.4H743.6M109.6 991.2H743.6" fill="none" stroke="#3a3a3a" stroke-width="1.1"/>
<path d="M109.6 617.9V991.7M743.6 617.9V991.7" fill="none" stroke="#505050" stroke-width="1.1"/>
<path d="M253.5 991.2v-7.0M253.5 618.4v7.0M397.6 991.2v-7.0M397.6 618.4v7.0M541.8 991.2v-7.0M541.8 618.4v7.0M686.2 991.2v-7.0M686.2 618.4v7.0M109.6 989.0h7.0M743.6 989.0h-7.0M109.6 896.4h7.0M743.6 896.4h-7.0M109.6 803.8h7.0M743.6 803.8h-7.0M109.6 711.2h7.0M743.6 711.2h-7.0M109.6 618.6h7.0M743.6 618.6h-7.0" stroke="#505050" stroke-width="1" fill="none"/>
<text x="253.5" y="1028.7" text-anchor="middle" font-size="27.7" fill="#000" stroke="#000">-0.05</text>
<text x="397.6" y="1028.7" text-anchor="middle" font-size="27.7" fill="#000" stroke="#000">0</text>
<text x="541.8" y="1028.7" text-anchor="middle" font-size="27.7" fill="#000" stroke="#000">0.05</text>
<text x="686.2" y="1028.7" text-anchor="middle" font-size="27.7" fill="#000" stroke="#000">0.1</text>
<text x="100.6" y="1000.0" text-anchor="end" font-size="27.7" fill="#000" stroke="#000">0</text>
<text x="100.6" y="907.4" text-anchor="end" font-size="27.7" fill="#000" stroke="#000">0.05</text>
<text x="100.6" y="814.8" text-anchor="end" font-size="27.7" fill="#000" stroke="#000">0.1</text>
<text x="100.6" y="722.2" text-anchor="end" font-size="27.7" fill="#000" stroke="#000">0.15</text>
<text x="100.6" y="629.6" text-anchor="end" font-size="27.7" fill="#000" stroke="#000">0.2</text>
<text x="426.5" y="606.8" text-anchor="middle" font-size="30.5" fill="#000" stroke="#000">SNR2</text>
<text x="426.5" y="1068.0" text-anchor="middle" font-size="30.5" fill="#000" stroke="#000">Residual /m</text>
<text transform="translate(35.5 804.8) rotate(-90)" text-anchor="middle" font-size="30.5" fill="#000" stroke="#000">Percentage</text>
<text x="109.6" y="1028.7" text-anchor="middle" font-size="27.7" fill="#000" stroke="#000">-0.1</text>
<path d="M995.6 983.5L1061.4 977.8V988.7H995.6Z" fill="#808080"/>
<path d="M1094.3 977.8L1110.8 983.5V988.7H1094.3Z" fill="#808080"/>
<path d="M1440.0 978.2L1456.4 978.2V988.7H1440.0Z" fill="#808080"/>
<rect x="979.10" y="983.5" width="16.46" height="6.7" fill="#808080"/>
<rect x="1061.40" y="977.8" width="16.46" height="12.4" fill="#808080"/>
<rect x="1077.86" y="977.8" width="16.46" height="12.4" fill="#808080"/>
<rect x="1110.78" y="983.5" width="16.46" height="6.7" fill="#808080"/>
<rect x="1127.24" y="983.5" width="16.46" height="6.7" fill="#808080"/>
<rect x="1143.70" y="967.0" width="16.46" height="23.2" fill="#808080"/>
<rect x="1160.16" y="956.0" width="16.46" height="34.2" fill="#808080"/>
<rect x="1176.62" y="884.5" width="16.46" height="105.7" fill="#808080"/>
<rect x="1193.08" y="884.5" width="16.46" height="105.7" fill="#808080"/>
<rect x="1209.54" y="846.0" width="16.46" height="144.2" fill="#808080"/>
<rect x="1226.00" y="846.0" width="16.46" height="144.2" fill="#808080"/>
<rect x="1242.46" y="621.0" width="16.46" height="369.2" fill="#808080"/>
<rect x="1258.92" y="785.8" width="16.46" height="204.4" fill="#808080"/>
<rect x="1275.38" y="720.1" width="16.46" height="270.1" fill="#808080"/>
<rect x="1291.84" y="923.3" width="16.46" height="66.9" fill="#808080"/>
<rect x="1308.30" y="857.4" width="16.46" height="132.8" fill="#808080"/>
<rect x="1324.76" y="890.2" width="16.46" height="100.0" fill="#808080"/>
<rect x="1341.22" y="972.6" width="16.46" height="17.6" fill="#808080"/>
<rect x="1357.68" y="950.8" width="16.46" height="39.4" fill="#808080"/>
<rect x="1374.14" y="983.6" width="16.46" height="6.6" fill="#808080"/>
<rect x="1390.60" y="978.2" width="16.46" height="12.0" fill="#808080"/>
<rect x="1407.06" y="967.2" width="16.46" height="23.0" fill="#808080"/>
<rect x="1423.52" y="978.2" width="16.46" height="12.0" fill="#808080"/>
<rect x="1456.44" y="978.2" width="16.46" height="12.0" fill="#808080"/>
<path d="M979.10 990.2V983.5H995.56V990.2M993.41 988.7H1014.17M1009.87 988.7H1030.63M1026.33 988.7H1047.09M1042.79 988.7H1063.55M1061.40 990.2V977.8H1077.86V990.2M1077.86 990.2V977.8H1094.32V990.2M1092.17 988.7H1112.93M1110.78 990.2V983.5H1127.24V990.2M1127.24 990.2V983.5H1143.70V990.2M1143.70 990.2V967.0H1160.16V990.2M1160.16 990.2V956.0H1176.62V990.2M1176.62 990.2V884.5H1193.08V990.2M1193.08 990.2V884.5H1209.54V990.2M1209.54 990.2V846.0H1226.00V990.2M1226.00 990.2V846.0H1242.46V990.2M1242.46 990.2V621.0H1258.92V990.2M1258.92 990.2V785.8H1275.38V990.2M1275.38 990.2V720.1H1291.84V990.2M1291.84 990.2V923.3H1308.30V990.2M1308.30 990.2V857.4H1324.76V990.2M1324.76 990.2V890.2H1341.22V990.2M1341.22 990.2V972.6H1357.68V990.2M1357.68 990.2V950.8H1374.14V990.2M1374.14 990.2V983.6H1390.60V990.2M1390.60 990.2V978.2H1407.06V990.2M1407.06 990.2V967.2H1423.52V990.2M1423.52 990.2V978.2H1439.98V990.2M1437.83 988.7H1458.59M1456.44 990.2V978.2H1472.90V990.2" fill="none" stroke="#ffff00" stroke-width="4.3" stroke-linejoin="miter"/>
<path d="M934.7 618.4H1567.6M934.7 991.2H1567.6" fill="none" stroke="#3a3a3a" stroke-width="1.1"/>
<path d="M934.7 617.9V991.7M1567.6 617.9V991.7" fill="none" stroke="#505050" stroke-width="1.1"/>
<path d="M1061.7 991.2v-7.0M1061.7 618.4v7.0M1187.9 991.2v-7.0M1187.9 618.4v7.0M1314.1 991.2v-7.0M1314.1 618.4v7.0M1440.3 991.2v-7.0M1440.3 618.4v7.0M934.7 988.7h7.0M1567.6 988.7h-7.0M934.7 896.7h7.0M1567.6 896.7h-7.0M934.7 804.7h7.0M1567.6 804.7h-7.0M934.7 712.7h7.0M1567.6 712.7h-7.0M934.7 620.7h7.0M1567.6 620.7h-7.0" stroke="#505050" stroke-width="1" fill="none"/>
<text x="1061.7" y="1028.7" text-anchor="middle" font-size="27.7" fill="#000" stroke="#000">-0.02</text>
<text x="1187.9" y="1028.7" text-anchor="middle" font-size="27.7" fill="#000" stroke="#000">0</text>
<text x="1314.1" y="1028.7" text-anchor="middle" font-size="27.7" fill="#000" stroke="#000">0.02</text>
<text x="1440.3" y="1028.7" text-anchor="middle" font-size="27.7" fill="#000" stroke="#000">0.04</text>
<text x="925.7" y="999.7" text-anchor="end" font-size="27.7" fill="#000" stroke="#000">0</text>
<text x="925.7" y="907.7" text-anchor="end" font-size="27.7" fill="#000" stroke="#000">0.05</text>
<text x="925.7" y="815.7" text-anchor="end" font-size="27.7" fill="#000" stroke="#000">0.1</text>
<text x="925.7" y="723.7" text-anchor="end" font-size="27.7" fill="#000" stroke="#000">0.15</text>
<text x="925.7" y="631.7" text-anchor="end" font-size="27.7" fill="#000" stroke="#000">0.2</text>
<text x="1251" y="606.8" text-anchor="middle" font-size="30.5" fill="#000" stroke="#000">SNR combination</text>
<text x="1251.0" y="1068.0" text-anchor="middle" font-size="30.5" fill="#000" stroke="#000">Residual /m</text>
<text transform="translate(860.0 804.8) rotate(-90)" text-anchor="middle" font-size="30.5" fill="#000" stroke="#000">Percentage</text>
<text x="934.7" y="1028.7" text-anchor="middle" font-size="27.7" fill="#000" stroke="#000">-0.04</text>
<text x="1567.6" y="1028.7" text-anchor="middle" font-size="27.7" fill="#000" stroke="#000">0.06</text>
<text x="845.2" y="1121.2" text-anchor="middle" font-family='"Liberation Serif", "DejaVu Serif", serif' font-size="35.6" word-spacing="0.9px" fill="#231815" stroke="#231815" xml:space="preserve">( b )</text>
<path d="M173.3 1537.9L420.0 1537.9L424.0 1528.0L428.3 1510.5L430.5 1475.0L432.4 1441.5L436.6 1436.0L461.4 1429.1L478.0 1405.7L489.0 1391.9L497.3 1380.8L500.0 1389.1L508.3 1389.1L511.1 1378.0L530.4 1372.5L541.4 1364.2L558.0 1347.7L566.3 1336.6L574.6 1314.6L577.3 1300.8L582.8 1309.0L585.5 1288.0L589.5 1288.0L591.1 1253.8L595.3 1237.3L599.4 1227.6L603.6 1226.2L606.3 1204.2L609.1 1211.1L616.0 1211.1L618.7 1206.9L621.5 1205.5L624.3 1193.1L627.6 1193.1L629.8 1211.1L633.9 1229.0L637.5 1244.2L645.0 1244.2L648.3 1231.2L657.9 1231.2L661.5 1245.6L665.7 1287.0L668.4 1314.6L676.7 1309.0L685.0 1300.8L690.5 1314.6L696.0 1317.3L701.5 1317.3L704.3 1278.7L707.0 1278.7L708.4 1298.0L715.3 1309.0L723.6 1317.3L734.7 1317.3L740.2 1303.5L744.3 1322.8L747.1 1347.7L751.2 1389.1L754.0 1408.4L759.5 1425.0L762.3 1452.6L765.0 1491.2L767.2 1531.2L770.0 1533.0L781.6 1533.0" fill="none" stroke="#000" stroke-width="3" stroke-linejoin="round"/>
<path d="M168.8 1543.4a4.5 4.5 0 1 0 9.0 0a4.5 4.5 0 1 0 -9.0 0M170.7 1540.7a4.5 4.5 0 1 0 9.0 0a4.5 4.5 0 1 0 -9.0 0M172.6 1537.6a4.5 4.5 0 1 0 9.0 0a4.5 4.5 0 1 0 -9.0 0M174.5 1546.5a4.5 4.5 0 1 0 9.0 0a4.5 4.5 0 1 0 -9.0 0M176.4 1542.3a4.5 4.5 0 1 0 9.0 0a4.5 4.5 0 1 0 -9.0 0M178.3 1544.4a4.5 4.5 0 1 0 9.0 0a4.5 4.5 0 1 0 -9.0 0M180.2 1536.9a4.5 4.5 0 1 0 9.0 0a4.5 4.5 0 1 0 -9.0 0M182.1 1533.7a4.5 4.5 0 1 0 9.0 0a4.5 4.5 0 1 0 -9.0 0M184.0 1533.8a4.5 4.5 0 1 0 9.0 0a4.5 4.5 0 1 0 -9.0 0M185.9 1532.6a4.5 4.5 0 1 0 9.0 0a4.5 4.5 0 1 0 -9.0 0M187.8 1536.6a4.5 4.5 0 1 0 9.0 0a4.5 4.5 0 1 0 -9.0 0M189.7 1535.0a4.5 4.5 0 1 0 9.0 0a4.5 4.5 0 1 0 -9.0 0M191.6 1534.2a4.5 4.5 0 1 0 9.0 0a4.5 4.5 0 1 0 -9.0 0M193.5 1543.3a4.5 4.5 0 1 0 9.0 0a4.5 4.5 0 1 0 -9.0 0M195.4 1538.1a4.5 4.5 0 1 0 9.0 0a4.5 4.5 0 1 0 -9.0 0M197.3 1537.0a4.5 4.5 0 1 0 9.0 0a4.5 4.5 0 1 0 -9.0 0M199.2 1537.2a4.5 4.5 0 1 0 9.0 0a4.5 4.5 0 1 0 -9.0 0M201.1 1537.0a4.5 4.5 0 1 0 9.0 0a4.5 4.5 0 1 0 -9.0 0M203.0 1536.7a4.5 4.5 0 1 0 9.0 0a4.5 4.5 0 1 0 -9.0 0M204.9 1537.6a4.5 4.5 0 1 0 9.0 0a4.5 4.5 0 1 0 -9.0 0M206.8 1533.5a4.5 4.5 0 1 0 9.0 0a4.5 4.5 0 1 0 -9.0 0M208.7 1532.6a4.5 4.5 0 1 0 9.0 0a4.5 4.5 0 1 0 -9.0 0M210.6 1546.0a4.5 4.5 0 1 0 9.0 0a4.5 4.5 0 1 0 -9.0 0M212.5 1537.1a4.5 4.5 0 1 0 9.0 0a4.5 4.5 0 1 0 -9.0 0M214.4 1533.6a4.5 4.5 0 1 0 9.0 0a4.5 4.5 0 1 0 -9.0 0M216.3 1533.6a4.5 4.5 0 1 0 9.0 0a4.5 4.5 0 1 0 -9.0 0M218.2 1534.5a4.5 4.5 0 1 0 9.0 0a4.5 4.5 0 1 0 -9.0 0M220.1 1538.1a4.5 4.5 0 1 0 9.0 0a4.5 4.5 0 1 0 -9.0 0M222.0 1534.8a4.5 4.5 0 1 0 9.0 0a4.5 4.5 0 1 0 -9.0 0M223.9 1533.2a4.5 4.5 0 1 0 9.0 0a4.5 4.5 0 1 0 -9.0 0M225.8 1535.9a4.5 4.5 0 1 0 9.0 0a4.5 4.5 0 1 0 -9.0 0M227.7 1539.0a4.5 4.5 0 1 0 9.0 0a4.5 4.5 0 1 0 -9.0 0M229.6 1540.2a4.5 4.5 0 1 0 9.0 0a4.5 4.5 0 1 0 -9.0 0M231.5 1539.4a4.5 4.5 0 1 0 9.0 0a4.5 4.5 0 1 0 -9.0 0M233.4 1544.8a4.5 4.5 0 1 0 9.0 0a4.5 4.5 0 1 0 -9.0 0M235.3 1537.5a4.5 4.5 0 1 0 9.0 0a4.5 4.5 0 1 0 -9.0 0M237.2 1539.3a4.5 4.5 0 1 0 9.0 0a4.5 4.5 0 1 0 -9.0 0M239.1 1537.7a4.5 4.5 0 1 0 9.0 0a4.5 4.5 0 1 0 -9.0 0M241.0 1543.0a4.5 4.5 0 1 0 9.0 0a4.5 4.5 0 1 0 -9.0 0M242.9 1534.2a4.5 4.5 0 1 0 9.0 0a4.5 4.5 0 1 0 -9.0 0M244.8 1531.2a4.5 4.5 0 1 0 9.0 0a4.5 4.5 0 1 0 -9.0 0M246.7 1540.0a4.5 4.5 0 1 0 9.0 0a4.5 4.5 0 1 0 -9.0 0M248.6 1543.7a4.5 4.5 0 1 0 9.0 0a4.5 4.5 0 1 0 -9.0 0M250.5 1537.2a4.5 4.5 0 1 0 9.0 0a4.5 4.5 0 1 0 -9.0 0M252.4 1533.4a4.5 4.5 0 1 0 9.0 0a4.5 4.5 0 1 0 -9.0 0M254.3 1536.4a4.5 4.5 0 1 0 9.0 0a4.5 4.5 0 1 0 -9.0 0M256.2 1538.4a4.5 4.5 0 1 0 9.0 0a4.5 4.5 0 1 0 -9.0 0M258.1 1538.3a4.5 4.5 0 1 0 9.0 0a4.5 4.5 0 1 0 -9.0 0M260.0 1541.2a4.5 4.5 0 1 0 9.0 0a4.5 4.5 0 1 0 -9.0 0M261.9 1531.7a4.5 4.5 0 1 0 9.0 0a4.5 4.5 0 1 0 -9.0 0M263.8 1534.5a4.5 4.5 0 1 0 9.0 0a4.5 4.5 0 1 0 -9.0 0M265.6 1531.1a4.5 4.5 0 1 0 9.0 0a4.5 4.5 0 1 0 -9.0 0M267.5 1538.0a4.5 4.5 0 1 0 9.0 0a4.5 4.5 0 1 0 -9.0 0M269.4 1532.3a4.5 4.5 0 1 0 9.0 0a4.5 4.5 0 1 0 -9.0 0M271.3 1537.2a4.5 4.5 0 1 0 9.0 0a4.5 4.5 0 1 0 -9.0 0M273.2 1540.9a4.5 4.5 0 1 0 9.0 0a4.5 4.5 0 1 0 -9.0 0M275.1 1535.2a4.5 4.5 0 1 0 9.0 0a4.5 4.5 0 1 0 -9.0 0M277.0 1532.4a4.5 4.5 0 1 0 9.0 0a4.5 4.5 0 1 0 -9.0 0M278.9 1538.7a4.5 4.5 0 1 0 9.0 0a4.5 4.5 0 1 0 -9.0 0M280.8 1541.2a4.5 4.5 0 1 0 9.0 0a4.5 4.5 0 1 0 -9.0 0M282.7 1546.2a4.5 4.5 0 1 0 9.0 0a4.5 4.5 0 1 0 -9.0 0M284.6 1524.3a4.5 4.5 0 1 0 9.0 0a4.5 4.5 0 1 0 -9.0 0M286.5 1538.9a4.5 4.5 0 1 0 9.0 0a4.5 4.5 0 1 0 -9.0 0M288.4 1536.1a4.5 4.5 0 1 0 9.0 0a4.5 4.5 0 1 0 -9.0 0M290.3 1535.9a4.5 4.5 0 1 0 9.0 0a4.5 4.5 0 1 0 -9.0 0M292.2 1539.6a4.5 4.5 0 1 0 9.0 0a4.5 4.5 0 1 0 -9.0 0M294.1 1532.9a4.5 4.5 0 1 0 9.0 0a4.5 4.5 0 1 0 -9.0 0M296.0 1539.4a4.5 4.5 0 1 0 9.0 0a4.5 4.5 0 1 0 -9.0 0M297.9 1540.0a4.5 4.5 0 1 0 9.0 0a4.5 4.5 0 1 0 -9.0 0M299.8 1547.0a4.5 4.5 0 1 0 9.0 0a4.5 4.5 0 1 0 -9.0 0M301.7 1541.9a4.5 4.5 0 1 0 9.0 0a4.5 4.5 0 1 0 -9.0 0M303.6 1529.5a4.5 4.5 0 1 0 9.0 0a4.5 4.5 0 1 0 -9.0 0M305.5 1536.0a4.5 4.5 0 1 0 9.0 0a4.5 4.5 0 1 0 -9.0 0M307.4 1530.4a4.5 4.5 0 1 0 9.0 0a4.5 4.5 0 1 0 -9.0 0M309.3 1530.4a4.5 4.5 0 1 0 9.0 0a4.5 4.5 0 1 0 -9.0 0M311.2 1536.9a4.5 4.5 0 1 0 9.0 0a4.5 4.5 0 1 0 -9.0 0M313.1 1529.9a4.5 4.5 0 1 0 9.0 0a4.5 4.5 0 1 0 -9.0 0M315.0 1537.6a4.5 4.5 0 1 0 9.0 0a4.5 4.5 0 1 0 -9.0 0M316.9 1534.8a4.5 4.5 0 1 0 9.0 0a4.5 4.5 0 1 0 -9.0 0M318.8 1535.5a4.5 4.5 0 1 0 9.0 0a4.5 4.5 0 1 0 -9.0 0M320.7 1536.7a4.5 4.5 0 1 0 9.0 0a4.5 4.5 0 1 0 -9.0 0M322.6 1516.5a4.5 4.5 0 1 0 9.0 0a4.5 4.5 0 1 0 -9.0 0M324.5 1537.5a4.5 4.5 0 1 0 9.0 0a4.5 4.5 0 1 0 -9.0 0M326.4 1538.8a4.5 4.5 0 1 0 9.0 0a4.5 4.5 0 1 0 -9.0 0M328.3 1543.1a4.5 4.5 0 1 0 9.0 0a4.5 4.5 0 1 0 -9.0 0M330.2 1545.5a4.5 4.5 0 1 0 9.0 0a4.5 4.5 0 1 0 -9.0 0M332.1 1534.4a4.5 4.5 0 1 0 9.0 0a4.5 4.5 0 1 0 -9.0 0M334.0 1534.1a4.5 4.5 0 1 0 9.0 0a4.5 4.5 0 1 0 -9.0 0M335.9 1546.5a4.5 4.5 0 1 0 9.0 0a4.5 4.5 0 1 0 -9.0 0M337.8 1541.4a4.5 4.5 0 1 0 9.0 0a4.5 4.5 0 1 0 -9.0 0M339.7 1530.3a4.5 4.5 0 1 0 9.0 0a4.5 4.5 0 1 0 -9.0 0M341.6 1529.7a4.5 4.5 0 1 0 9.0 0a4.5 4.5 0 1 0 -9.0 0M343.5 1536.4a4.5 4.5 0 1 0 9.0 0a4.5 4.5 0 1 0 -9.0 0M345.4 1530.8a4.5 4.5 0 1 0 9.0 0a4.5 4.5 0 1 0 -9.0 0M347.3 1530.9a4.5 4.5 0 1 0 9.0 0a4.5 4.5 0 1 0 -9.0 0M349.2 1532.3a4.5 4.5 0 1 0 9.0 0a4.5 4.5 0 1 0 -9.0 0M351.1 1545.4a4.5 4.5 0 1 0 9.0 0a4.5 4.5 0 1 0 -9.0 0M353.0 1537.5a4.5 4.5 0 1 0 9.0 0a4.5 4.5 0 1 0 -9.0 0M354.9 1538.5a4.5 4.5 0 1 0 9.0 0a4.5 4.5 0 1 0 -9.0 0M356.8 1532.9a4.5 4.5 0 1 0 9.0 0a4.5 4.5 0 1 0 -9.0 0M358.7 1532.8a4.5 4.5 0 1 0 9.0 0a4.5 4.5 0 1 0 -9.0 0M360.6 1531.8a4.5 4.5 0 1 0 9.0 0a4.5 4.5 0 1 0 -9.0 0M362.5 1534.5a4.5 4.5 0 1 0 9.0 0a4.5 4.5 0 1 0 -9.0 0M364.4 1539.1a4.5 4.5 0 1 0 9.0 0a4.5 4.5 0 1 0 -9.0 0M366.3 1527.7a4.5 4.5 0 1 0 9.0 0a4.5 4.5 0 1 0 -9.0 0M368.2 1535.1a4.5 4.5 0 1 0 9.0 0a4.5 4.5 0 1 0 -9.0 0M370.1 1535.5a4.5 4.5 0 1 0 9.0 0a4.5 4.5 0 1 0 -9.0 0M372.0 1532.0a4.5 4.5 0 1 0 9.0 0a4.5 4.5 0 1 0 -9.0 0M373.9 1535.9a4.5 4.5 0 1 0 9.0 0a4.5 4.5 0 1 0 -9.0 0M375.8 1534.4a4.5 4.5 0 1 0 9.0 0a4.5 4.5 0 1 0 -9.0 0M377.7 1538.8a4.5 4.5 0 1 0 9.0 0a4.5 4.5 0 1 0 -9.0 0M379.6 1534.8a4.5 4.5 0 1 0 9.0 0a4.5 4.5 0 1 0 -9.0 0M381.5 1537.8a4.5 4.5 0 1 0 9.0 0a4.5 4.5 0 1 0 -9.0 0M383.4 1540.9a4.5 4.5 0 1 0 9.0 0a4.5 4.5 0 1 0 -9.0 0M385.3 1536.1a4.5 4.5 0 1 0 9.0 0a4.5 4.5 0 1 0 -9.0 0M387.2 1535.5a4.5 4.5 0 1 0 9.0 0a4.5 4.5 0 1 0 -9.0 0M389.1 1537.4a4.5 4.5 0 1 0 9.0 0a4.5 4.5 0 1 0 -9.0 0M391.0 1531.5a4.5 4.5 0 1 0 9.0 0a4.5 4.5 0 1 0 -9.0 0M392.9 1532.9a4.5 4.5 0 1 0 9.0 0a4.5 4.5 0 1 0 -9.0 0M394.8 1529.3a4.5 4.5 0 1 0 9.0 0a4.5 4.5 0 1 0 -9.0 0M396.7 1541.9a4.5 4.5 0 1 0 9.0 0a4.5 4.5 0 1 0 -9.0 0M398.6 1529.5a4.5 4.5 0 1 0 9.0 0a4.5 4.5 0 1 0 -9.0 0M400.5 1539.4a4.5 4.5 0 1 0 9.0 0a4.5 4.5 0 1 0 -9.0 0M402.4 1538.0a4.5 4.5 0 1 0 9.0 0a4.5 4.5 0 1 0 -9.0 0M404.3 1534.7a4.5 4.5 0 1 0 9.0 0a4.5 4.5 0 1 0 -9.0 0M406.2 1534.6a4.5 4.5 0 1 0 9.0 0a4.5 4.5 0 1 0 -9.0 0M408.1 1537.3a4.5 4.5 0 1 0 9.0 0a4.5 4.5 0 1 0 -9.0 0M410.0 1529.3a4.5 4.5 0 1 0 9.0 0a4.5 4.5 0 1 0 -9.0 0M411.9 1540.9a4.5 4.5 0 1 0 9.0 0a4.5 4.5 0 1 0 -9.0 0M413.8 1532.1a4.5 4.5 0 1 0 9.0 0a4.5 4.5 0 1 0 -9.0 0M415.7 1539.0a4.5 4.5 0 1 0 9.0 0a4.5 4.5 0 1 0 -9.0 0M417.6 1530.9a4.5 4.5 0 1 0 9.0 0a4.5 4.5 0 1 0 -9.0 0M419.5 1524.7a4.5 4.5 0 1 0 9.0 0a4.5 4.5 0 1 0 -9.0 0M421.4 1519.7a4.5 4.5 0 1 0 9.0 0a4.5 4.5 0 1 0 -9.0 0M423.3 1509.7a4.5 4.5 0 1 0 9.0 0a4.5 4.5 0 1 0 -9.0 0M425.2 1486.3a4.5 4.5 0 1 0 9.0 0a4.5 4.5 0 1 0 -9.0 0M427.1 1456.4a4.5 4.5 0 1 0 9.0 0a4.5 4.5 0 1 0 -9.0 0M429.0 1440.9a4.5 4.5 0 1 0 9.0 0a4.5 4.5 0 1 0 -9.0 0M430.9 1441.9a4.5 4.5 0 1 0 9.0 0a4.5 4.5 0 1 0 -9.0 0M432.8 1445.9a4.5 4.5 0 1 0 9.0 0a4.5 4.5 0 1 0 -9.0 0M434.7 1439.2a4.5 4.5 0 1 0 9.0 0a4.5 4.5 0 1 0 -9.0 0M436.6 1443.1a4.5 4.5 0 1 0 9.0 0a4.5 4.5 0 1 0 -9.0 0M438.5 1430.7a4.5 4.5 0 1 0 9.0 0a4.5 4.5 0 1 0 -9.0 0M440.4 1439.9a4.5 4.5 0 1 0 9.0 0a4.5 4.5 0 1 0 -9.0 0M442.3 1433.9a4.5 4.5 0 1 0 9.0 0a4.5 4.5 0 1 0 -9.0 0M444.2 1435.0a4.5 4.5 0 1 0 9.0 0a4.5 4.5 0 1 0 -9.0 0M446.1 1420.6a4.5 4.5 0 1 0 9.0 0a4.5 4.5 0 1 0 -9.0 0M448.0 1436.2a4.5 4.5 0 1 0 9.0 0a4.5 4.5 0 1 0 -9.0 0M449.9 1444.7a4.5 4.5 0 1 0 9.0 0a4.5 4.5 0 1 0 -9.0 0M451.8 1436.8a4.5 4.5 0 1 0 9.0 0a4.5 4.5 0 1 0 -9.0 0M453.7 1441.4a4.5 4.5 0 1 0 9.0 0a4.5 4.5 0 1 0 -9.0 0M455.5 1428.9a4.5 4.5 0 1 0 9.0 0a4.5 4.5 0 1 0 -9.0 0M457.4 1433.8a4.5 4.5 0 1 0 9.0 0a4.5 4.5 0 1 0 -9.0 0M459.3 1419.6a4.5 4.5 0 1 0 9.0 0a4.5 4.5 0 1 0 -9.0 0M461.2 1423.5a4.5 4.5 0 1 0 9.0 0a4.5 4.5 0 1 0 -9.0 0M463.1 1420.4a4.5 4.5 0 1 0 9.0 0a4.5 4.5 0 1 0 -9.0 0M465.0 1416.3a4.5 4.5 0 1 0 9.0 0a4.5 4.5 0 1 0 -9.0 0M466.9 1416.9a4.5 4.5 0 1 0 9.0 0a4.5 4.5 0 1 0 -9.0 0M468.8 1415.5a4.5 4.5 0 1 0 9.0 0a4.5 4.5 0 1 0 -9.0 0M470.7 1412.0a4.5 4.5 0 1 0 9.0 0a4.5 4.5 0 1 0 -9.0 0M472.6 1399.4a4.5 4.5 0 1 0 9.0 0a4.5 4.5 0 1 0 -9.0 0M474.5 1395.8a4.5 4.5 0 1 0 9.0 0a4.5 4.5 0 1 0 -9.0 0M476.4 1402.4a4.5 4.5 0 1 0 9.0 0a4.5 4.5 0 1 0 -9.0 0M478.3 1400.1a4.5 4.5 0 1 0 9.0 0a4.5 4.5 0 1 0 -9.0 0M480.2 1398.1a4.5 4.5 0 1 0 9.0 0a4.5 4.5 0 1 0 -9.0 0M482.1 1393.8a4.5 4.5 0 1 0 9.0 0a4.5 4.5 0 1 0 -9.0 0M484.0 1396.3a4.5 4.5 0 1 0 9.0 0a4.5 4.5 0 1 0 -9.0 0M485.9 1390.6a4.5 4.5 0 1 0 9.0 0a4.5 4.5 0 1 0 -9.0 0M487.8 1387.4a4.5 4.5 0 1 0 9.0 0a4.5 4.5 0 1 0 -9.0 0M489.7 1387.9a4.5 4.5 0 1 0 9.0 0a4.5 4.5 0 1 0 -9.0 0M491.6 1371.4a4.5 4.5 0 1 0 9.0 0a4.5 4.5 0 1 0 -9.0 0M493.5 1385.0a4.5 4.5 0 1 0 9.0 0a4.5 4.5 0 1 0 -9.0 0M495.4 1392.2a4.5 4.5 0 1 0 9.0 0a4.5 4.5 0 1 0 -9.0 0M497.3 1387.2a4.5 4.5 0 1 0 9.0 0a4.5 4.5 0 1 0 -9.0 0M499.2 1387.3a4.5 4.5 0 1 0 9.0 0a4.5 4.5 0 1 0 -9.0 0M501.1 1381.2a4.5 4.5 0 1 0 9.0 0a4.5 4.5 0 1 0 -9.0 0M503.0 1388.9a4.5 4.5 0 1 0 9.0 0a4.5 4.5 0 1 0 -9.0 0M504.9 1385.1a4.5 4.5 0 1 0 9.0 0a4.5 4.5 0 1 0 -9.0 0M506.8 1377.4a4.5 4.5 0 1 0 9.0 0a4.5 4.5 0 1 0 -9.0 0M508.7 1380.0a4.5 4.5 0 1 0 9.0 0a4.5 4.5 0 1 0 -9.0 0M510.6 1379.0a4.5 4.5 0 1 0 9.0 0a4.5 4.5 0 1 0 -9.0 0M512.5 1371.9a4.5 4.5 0 1 0 9.0 0a4.5 4.5 0 1 0 -9.0 0M514.4 1381.8a4.5 4.5 0 1 0 9.0 0a4.5 4.5 0 1 0 -9.0 0M516.3 1378.2a4.5 4.5 0 1 0 9.0 0a4.5 4.5 0 1 0 -9.0 0M518.2 1367.8a4.5 4.5 0 1 0 9.0 0a4.5 4.5 0 1 0 -9.0 0M520.1 1369.7a4.5 4.5 0 1 0 9.0 0a4.5 4.5 0 1 0 -9.0 0M522.0 1369.3a4.5 4.5 0 1 0 9.0 0a4.5 4.5 0 1 0 -9.0 0M523.9 1374.6a4.5 4.5 0 1 0 9.0 0a4.5 4.5 0 1 0 -9.0 0M525.8 1377.8a4.5 4.5 0 1 0 9.0 0a4.5 4.5 0 1 0 -9.0 0M527.7 1367.1a4.5 4.5 0 1 0 9.0 0a4.5 4.5 0 1 0 -9.0 0M529.6 1369.7a4.5 4.5 0 1 0 9.0 0a4.5 4.5 0 1 0 -9.0 0M531.5 1358.1a4.5 4.5 0 1 0 9.0 0a4.5 4.5 0 1 0 -9.0 0M533.4 1368.5a4.5 4.5 0 1 0 9.0 0a4.5 4.5 0 1 0 -9.0 0M535.3 1364.5a4.5 4.5 0 1 0 9.0 0a4.5 4.5 0 1 0 -9.0 0M537.2 1353.8a4.5 4.5 0 1 0 9.0 0a4.5 4.5 0 1 0 -9.0 0M539.1 1353.6a4.5 4.5 0 1 0 9.0 0a4.5 4.5 0 1 0 -9.0 0M541.0 1359.1a4.5 4.5 0 1 0 9.0 0a4.5 4.5 0 1 0 -9.0 0M542.9 1358.9a4.5 4.5 0 1 0 9.0 0a4.5 4.5 0 1 0 -9.0 0M544.8 1356.3a4.5 4.5 0 1 0 9.0 0a4.5 4.5 0 1 0 -9.0 0M546.7 1351.0a4.5 4.5 0 1 0 9.0 0a4.5 4.5 0 1 0 -9.0 0M548.6 1353.0a4.5 4.5 0 1 0 9.0 0a4.5 4.5 0 1 0 -9.0 0M550.5 1353.9a4.5 4.5 0 1 0 9.0 0a4.5 4.5 0 1 0 -9.0 0M552.4 1350.4a4.5 4.5 0 1 0 9.0 0a4.5 4.5 0 1 0 -9.0 0M554.3 1347.2a4.5 4.5 0 1 0 9.0 0a4.5 4.5 0 1 0 -9.0 0M556.2 1343.7a4.5 4.5 0 1 0 9.0 0a4.5 4.5 0 1 0 -9.0 0M558.1 1343.8a4.5 4.5 0 1 0 9.0 0a4.5 4.5 0 1 0 -9.0 0M560.0 1334.8a4.5 4.5 0 1 0 9.0 0a4.5 4.5 0 1 0 -9.0 0M561.9 1335.2a4.5 4.5 0 1 0 9.0 0a4.5 4.5 0 1 0 -9.0 0M563.8 1329.4a4.5 4.5 0 1 0 9.0 0a4.5 4.5 0 1 0 -9.0 0M565.7 1323.0a4.5 4.5 0 1 0 9.0 0a4.5 4.5 0 1 0 -9.0 0M567.6 1324.3a4.5 4.5 0 1 0 9.0 0a4.5 4.5 0 1 0 -9.0 0M569.5 1317.7a4.5 4.5 0 1 0 9.0 0a4.5 4.5 0 1 0 -9.0 0M571.4 1311.3a4.5 4.5 0 1 0 9.0 0a4.5 4.5 0 1 0 -9.0 0M573.3 1301.8a4.5 4.5 0 1 0 9.0 0a4.5 4.5 0 1 0 -9.0 0M575.2 1291.8a4.5 4.5 0 1 0 9.0 0a4.5 4.5 0 1 0 -9.0 0M577.1 1306.7a4.5 4.5 0 1 0 9.0 0a4.5 4.5 0 1 0 -9.0 0M579.0 1300.5a4.5 4.5 0 1 0 9.0 0a4.5 4.5 0 1 0 -9.0 0M580.9 1284.8a4.5 4.5 0 1 0 9.0 0a4.5 4.5 0 1 0 -9.0 0M582.8 1284.9a4.5 4.5 0 1 0 9.0 0a4.5 4.5 0 1 0 -9.0 0M584.7 1321.0a4.5 4.5 0 1 0 9.0 0a4.5 4.5 0 1 0 -9.0 0M660.6 1301.0a4.5 4.5 0 1 0 9.0 0a4.5 4.5 0 1 0 -9.0 0M662.5 1291.0a4.5 4.5 0 1 0 9.0 0a4.5 4.5 0 1 0 -9.0 0M664.4 1324.3a4.5 4.5 0 1 0 9.0 0a4.5 4.5 0 1 0 -9.0 0M666.3 1319.5a4.5 4.5 0 1 0 9.0 0a4.5 4.5 0 1 0 -9.0 0M668.2 1315.8a4.5 4.5 0 1 0 9.0 0a4.5 4.5 0 1 0 -9.0 0M670.1 1315.4a4.5 4.5 0 1 0 9.0 0a4.5 4.5 0 1 0 -9.0 0M672.0 1312.0a4.5 4.5 0 1 0 9.0 0a4.5 4.5 0 1 0 -9.0 0M673.9 1301.2a4.5 4.5 0 1 0 9.0 0a4.5 4.5 0 1 0 -9.0 0M675.8 1302.8a4.5 4.5 0 1 0 9.0 0a4.5 4.5 0 1 0 -9.0 0M677.7 1303.2a4.5 4.5 0 1 0 9.0 0a4.5 4.5 0 1 0 -9.0 0M679.6 1307.2a4.5 4.5 0 1 0 9.0 0a4.5 4.5 0 1 0 -9.0 0M681.5 1309.4a4.5 4.5 0 1 0 9.0 0a4.5 4.5 0 1 0 -9.0 0M683.4 1313.7a4.5 4.5 0 1 0 9.0 0a4.5 4.5 0 1 0 -9.0 0M685.3 1318.6a4.5 4.5 0 1 0 9.0 0a4.5 4.5 0 1 0 -9.0 0M687.2 1318.9a4.5 4.5 0 1 0 9.0 0a4.5 4.5 0 1 0 -9.0 0M689.1 1320.1a4.5 4.5 0 1 0 9.0 0a4.5 4.5 0 1 0 -9.0 0M691.0 1330.3a4.5 4.5 0 1 0 9.0 0a4.5 4.5 0 1 0 -9.0 0M692.9 1318.4a4.5 4.5 0 1 0 9.0 0a4.5 4.5 0 1 0 -9.0 0M694.8 1322.3a4.5 4.5 0 1 0 9.0 0a4.5 4.5 0 1 0 -9.0 0M696.7 1314.3a4.5 4.5 0 1 0 9.0 0a4.5 4.5 0 1 0 -9.0 0M698.6 1307.7a4.5 4.5 0 1 0 9.0 0a4.5 4.5 0 1 0 -9.0 0M700.5 1280.4a4.5 4.5 0 1 0 9.0 0a4.5 4.5 0 1 0 -9.0 0M702.4 1279.2a4.5 4.5 0 1 0 9.0 0a4.5 4.5 0 1 0 -9.0 0M704.3 1299.7a4.5 4.5 0 1 0 9.0 0a4.5 4.5 0 1 0 -9.0 0M706.2 1310.5a4.5 4.5 0 1 0 9.0 0a4.5 4.5 0 1 0 -9.0 0M708.1 1306.7a4.5 4.5 0 1 0 9.0 0a4.5 4.5 0 1 0 -9.0 0M710.0 1313.3a4.5 4.5 0 1 0 9.0 0a4.5 4.5 0 1 0 -9.0 0M711.9 1311.3a4.5 4.5 0 1 0 9.0 0a4.5 4.5 0 1 0 -9.0 0M713.8 1318.4a4.5 4.5 0 1 0 9.0 0a4.5 4.5 0 1 0 -9.0 0M715.7 1318.4a4.5 4.5 0 1 0 9.0 0a4.5 4.5 0 1 0 -9.0 0M717.6 1316.0a4.5 4.5 0 1 0 9.0 0a4.5 4.5 0 1 0 -9.0 0M719.5 1320.7a4.5 4.5 0 1 0 9.0 0a4.5 4.5 0 1 0 -9.0 0M721.4 1317.4a4.5 4.5 0 1 0 9.0 0a4.5 4.5 0 1 0 -9.0 0M723.3 1317.0a4.5 4.5 0 1 0 9.0 0a4.5 4.5 0 1 0 -9.0 0M725.2 1317.1a4.5 4.5 0 1 0 9.0 0a4.5 4.5 0 1 0 -9.0 0M727.1 1317.9a4.5 4.5 0 1 0 9.0 0a4.5 4.5 0 1 0 -9.0 0M729.0 1320.2a4.5 4.5 0 1 0 9.0 0a4.5 4.5 0 1 0 -9.0 0M730.9 1316.6a4.5 4.5 0 1 0 9.0 0a4.5 4.5 0 1 0 -9.0 0M732.8 1306.6a4.5 4.5 0 1 0 9.0 0a4.5 4.5 0 1 0 -9.0 0M734.7 1301.3a4.5 4.5 0 1 0 9.0 0a4.5 4.5 0 1 0 -9.0 0M736.6 1302.1a4.5 4.5 0 1 0 9.0 0a4.5 4.5 0 1 0 -9.0 0M738.5 1323.9a4.5 4.5 0 1 0 9.0 0a4.5 4.5 0 1 0 -9.0 0M740.4 1336.0a4.5 4.5 0 1 0 9.0 0a4.5 4.5 0 1 0 -9.0 0M742.3 1344.2a4.5 4.5 0 1 0 9.0 0a4.5 4.5 0 1 0 -9.0 0M744.2 1367.2a4.5 4.5 0 1 0 9.0 0a4.5 4.5 0 1 0 -9.0 0M746.1 1383.8a4.5 4.5 0 1 0 9.0 0a4.5 4.5 0 1 0 -9.0 0M748.0 1393.8a4.5 4.5 0 1 0 9.0 0a4.5 4.5 0 1 0 -9.0 0M749.9 1406.8a4.5 4.5 0 1 0 9.0 0a4.5 4.5 0 1 0 -9.0 0M751.8 1411.1a4.5 4.5 0 1 0 9.0 0a4.5 4.5 0 1 0 -9.0 0M753.7 1420.2a4.5 4.5 0 1 0 9.0 0a4.5 4.5 0 1 0 -9.0 0M755.6 1431.0a4.5 4.5 0 1 0 9.0 0a4.5 4.5 0 1 0 -9.0 0M757.5 1447.9a4.5 4.5 0 1 0 9.0 0a4.5 4.5 0 1 0 -9.0 0M759.4 1474.7a4.5 4.5 0 1 0 9.0 0a4.5 4.5 0 1 0 -9.0 0M761.3 1504.0a4.5 4.5 0 1 0 9.0 0a4.5 4.5 0 1 0 -9.0 0M763.2 1527.9a4.5 4.5 0 1 0 9.0 0a4.5 4.5 0 1 0 -9.0 0M765.1 1534.5a4.5 4.5 0 1 0 9.0 0a4.5 4.5 0 1 0 -9.0 0M767.0 1531.0a4.5 4.5 0 1 0 9.0 0a4.5 4.5 0 1 0 -9.0 0M768.9 1528.0a4.5 4.5 0 1 0 9.0 0a4.5 4.5 0 1 0 -9.0 0M770.8 1534.1a4.5 4.5 0 1 0 9.0 0a4.5 4.5 0 1 0 -9.0 0M772.7 1526.7a4.5 4.5 0 1 0 9.0 0a4.5 4.5 0 1 0 -9.0 0M774.6 1529.0a4.5 4.5 0 1 0 9.0 0a4.5 4.5 0 1 0 -9.0 0M776.5 1533.8a4.5 4.5 0 1 0 9.0 0a4.5 4.5 0 1 0 -9.0 0M778.4 1530.1a4.5 4.5 0 1 0 9.0 0a4.5 4.5 0 1 0 -9.0 0" fill="none" stroke="#0000ff" stroke-width="1.6"/>
<path d="M168.1 1534.0h10.4M173.3 1528.8v10.4M169.6 1530.3l7.4 7.4M169.6 1537.7l7.4 -7.4M170.0 1532.6h10.4M175.2 1527.4v10.4M171.5 1529.0l7.4 7.4M171.5 1536.3l7.4 -7.4M171.9 1535.5h10.4M177.1 1530.3v10.4M173.4 1531.8l7.4 7.4M173.4 1539.2l7.4 -7.4M173.8 1533.3h10.4M179.0 1528.1v10.4M175.3 1529.6l7.4 7.4M175.3 1536.9l7.4 -7.4M175.7 1533.7h10.4M180.9 1528.5v10.4M177.2 1530.0l7.4 7.4M177.2 1537.4l7.4 -7.4M177.6 1532.7h10.4M182.8 1527.5v10.4M179.1 1529.0l7.4 7.4M179.1 1536.3l7.4 -7.4M179.5 1533.4h10.4M184.7 1528.2v10.4M181.0 1529.8l7.4 7.4M181.0 1537.1l7.4 -7.4M181.4 1534.2h10.4M186.6 1529.0v10.4M182.9 1530.6l7.4 7.4M182.9 1537.9l7.4 -7.4M183.3 1531.4h10.4M188.5 1526.2v10.4M184.8 1527.8l7.4 7.4M184.8 1535.1l7.4 -7.4M185.2 1533.1h10.4M190.4 1527.9v10.4M186.7 1529.4l7.4 7.4M186.7 1536.8l7.4 -7.4M187.1 1533.7h10.4M192.3 1528.5v10.4M188.6 1530.0l7.4 7.4M188.6 1537.4l7.4 -7.4M189.0 1533.1h10.4M194.2 1527.9v10.4M190.5 1529.5l7.4 7.4M190.5 1536.8l7.4 -7.4M190.9 1534.5h10.4M196.1 1529.3v10.4M192.4 1530.8l7.4 7.4M192.4 1538.2l7.4 -7.4M192.8 1533.5h10.4M198.0 1528.3v10.4M194.3 1529.8l7.4 7.4M194.3 1537.1l7.4 -7.4M194.7 1531.4h10.4M199.9 1526.2v10.4M196.2 1527.7l7.4 7.4M196.2 1535.1l7.4 -7.4M196.6 1529.7h10.4M201.8 1524.5v10.4M198.1 1526.0l7.4 7.4M198.1 1533.4l7.4 -7.4M198.5 1533.2h10.4M203.7 1528.0v10.4M200.0 1529.5l7.4 7.4M200.0 1536.9l7.4 -7.4M200.4 1534.3h10.4M205.6 1529.1v10.4M201.9 1530.6l7.4 7.4M201.9 1537.9l7.4 -7.4M202.3 1533.9h10.4M207.5 1528.7v10.4M203.8 1530.2l7.4 7.4M203.8 1537.6l7.4 -7.4M204.2 1541.0h10.4M209.4 1535.8v10.4M205.7 1537.4l7.4 7.4M205.7 1544.7l7.4 -7.4M206.1 1532.2h10.4M211.3 1527.0v10.4M207.6 1528.5l7.4 7.4M207.6 1535.9l7.4 -7.4M208.0 1542.9h10.4M213.2 1537.7v10.4M209.5 1539.2l7.4 7.4M209.5 1546.5l7.4 -7.4M209.9 1531.2h10.4M215.1 1526.0v10.4M211.4 1527.5l7.4 7.4M211.4 1534.9l7.4 -7.4M211.8 1532.9h10.4M217.0 1527.7v10.4M213.3 1529.2l7.4 7.4M213.3 1536.6l7.4 -7.4M213.7 1535.0h10.4M218.9 1529.8v10.4M215.2 1531.4l7.4 7.4M215.2 1538.7l7.4 -7.4M215.6 1532.5h10.4M220.8 1527.3v10.4M217.1 1528.8l7.4 7.4M217.1 1536.1l7.4 -7.4M217.5 1531.5h10.4M222.7 1526.3v10.4M219.0 1527.8l7.4 7.4M219.0 1535.1l7.4 -7.4M219.4 1532.9h10.4M224.6 1527.7v10.4M220.9 1529.2l7.4 7.4M220.9 1536.6l7.4 -7.4M221.3 1534.4h10.4M226.5 1529.2v10.4M222.8 1530.7l7.4 7.4M222.8 1538.1l7.4 -7.4M223.2 1532.1h10.4M228.4 1526.9v10.4M224.7 1528.5l7.4 7.4M224.7 1535.8l7.4 -7.4M225.1 1533.2h10.4M230.3 1528.0v10.4M226.6 1529.6l7.4 7.4M226.6 1536.9l7.4 -7.4M227.0 1543.6h10.4M232.2 1538.4v10.4M228.5 1539.9l7.4 7.4M228.5 1547.3l7.4 -7.4M228.9 1533.5h10.4M234.1 1528.3v10.4M230.4 1529.9l7.4 7.4M230.4 1537.2l7.4 -7.4M230.8 1532.6h10.4M236.0 1527.4v10.4M232.3 1528.9l7.4 7.4M232.3 1536.3l7.4 -7.4M232.7 1534.7h10.4M237.9 1529.5v10.4M234.2 1531.0l7.4 7.4M234.2 1538.3l7.4 -7.4M234.6 1534.4h10.4M239.8 1529.2v10.4M236.1 1530.7l7.4 7.4M236.1 1538.1l7.4 -7.4M236.5 1534.9h10.4M241.7 1529.7v10.4M238.0 1531.2l7.4 7.4M238.0 1538.5l7.4 -7.4M238.4 1532.9h10.4M243.6 1527.7v10.4M239.9 1529.2l7.4 7.4M239.9 1536.6l7.4 -7.4M240.3 1533.8h10.4M245.5 1528.6v10.4M241.8 1530.2l7.4 7.4M241.8 1537.5l7.4 -7.4M242.2 1532.7h10.4M247.4 1527.5v10.4M243.7 1529.1l7.4 7.4M243.7 1536.4l7.4 -7.4M244.1 1532.0h10.4M249.3 1526.8v10.4M245.6 1528.4l7.4 7.4M245.6 1535.7l7.4 -7.4M246.0 1532.5h10.4M251.2 1527.3v10.4M247.5 1528.8l7.4 7.4M247.5 1536.2l7.4 -7.4M247.9 1533.2h10.4M253.1 1528.0v10.4M249.4 1529.5l7.4 7.4M249.4 1536.9l7.4 -7.4M249.8 1532.4h10.4M255.0 1527.2v10.4M251.3 1528.8l7.4 7.4M251.3 1536.1l7.4 -7.4M251.7 1543.5h10.4M256.9 1538.3v10.4M253.2 1539.8l7.4 7.4M253.2 1547.2l7.4 -7.4M253.6 1534.8h10.4M258.8 1529.6v10.4M255.1 1531.1l7.4 7.4M255.1 1538.5l7.4 -7.4M255.5 1532.2h10.4M260.7 1527.0v10.4M257.0 1528.5l7.4 7.4M257.0 1535.9l7.4 -7.4M257.4 1543.4h10.4M262.6 1538.2v10.4M258.9 1539.8l7.4 7.4M258.9 1547.1l7.4 -7.4M259.3 1533.7h10.4M264.5 1528.5v10.4M260.8 1530.0l7.4 7.4M260.8 1537.4l7.4 -7.4M261.2 1541.3h10.4M266.4 1536.1v10.4M262.7 1537.6l7.4 7.4M262.7 1545.0l7.4 -7.4M263.1 1542.0h10.4M268.2 1536.8v10.4M264.6 1538.4l7.4 7.4M264.6 1545.7l7.4 -7.4M264.9 1531.8h10.4M270.1 1526.6v10.4M266.5 1528.1l7.4 7.4M266.5 1535.5l7.4 -7.4M266.8 1542.5h10.4M272.0 1537.3v10.4M268.4 1538.8l7.4 7.4M268.4 1546.2l7.4 -7.4M268.7 1534.4h10.4M273.9 1529.2v10.4M270.3 1530.8l7.4 7.4M270.3 1538.1l7.4 -7.4M270.6 1530.4h10.4M275.8 1525.2v10.4M272.2 1526.7l7.4 7.4M272.2 1534.1l7.4 -7.4M272.5 1533.4h10.4M277.7 1528.2v10.4M274.1 1529.7l7.4 7.4M274.1 1537.1l7.4 -7.4M274.4 1532.3h10.4M279.6 1527.1v10.4M276.0 1528.6l7.4 7.4M276.0 1536.0l7.4 -7.4M276.3 1541.6h10.4M281.5 1536.4v10.4M277.9 1537.9l7.4 7.4M277.9 1545.3l7.4 -7.4M278.2 1534.6h10.4M283.4 1529.4v10.4M279.8 1531.0l7.4 7.4M279.8 1538.3l7.4 -7.4M280.1 1541.2h10.4M285.3 1536.0v10.4M281.7 1537.5l7.4 7.4M281.7 1544.9l7.4 -7.4M282.0 1533.1h10.4M287.2 1527.9v10.4M283.6 1529.5l7.4 7.4M283.6 1536.8l7.4 -7.4M283.9 1542.9h10.4M289.1 1537.7v10.4M285.5 1539.3l7.4 7.4M285.5 1546.6l7.4 -7.4M285.8 1533.8h10.4M291.0 1528.6v10.4M287.4 1530.1l7.4 7.4M287.4 1537.5l7.4 -7.4M287.7 1533.2h10.4M292.9 1528.0v10.4M289.3 1529.6l7.4 7.4M289.3 1536.9l7.4 -7.4M289.6 1535.1h10.4M294.8 1529.9v10.4M291.2 1531.4l7.4 7.4M291.2 1538.8l7.4 -7.4M291.5 1534.0h10.4M296.7 1528.8v10.4M293.1 1530.3l7.4 7.4M293.1 1537.6l7.4 -7.4M293.4 1533.1h10.4M298.6 1527.9v10.4M295.0 1529.4l7.4 7.4M295.0 1536.7l7.4 -7.4M295.3 1533.3h10.4M300.5 1528.1v10.4M296.9 1529.6l7.4 7.4M296.9 1537.0l7.4 -7.4M297.2 1532.3h10.4M302.4 1527.1v10.4M298.8 1528.6l7.4 7.4M298.8 1536.0l7.4 -7.4M299.1 1533.8h10.4M304.3 1528.6v10.4M300.7 1530.2l7.4 7.4M300.7 1537.5l7.4 -7.4M301.0 1530.8h10.4M306.2 1525.6v10.4M302.6 1527.1l7.4 7.4M302.6 1534.5l7.4 -7.4M302.9 1534.1h10.4M308.1 1528.9v10.4M304.5 1530.4l7.4 7.4M304.5 1537.8l7.4 -7.4M304.8 1533.8h10.4M310.0 1528.6v10.4M306.4 1530.2l7.4 7.4M306.4 1537.5l7.4 -7.4M306.7 1535.0h10.4M311.9 1529.8v10.4M308.3 1531.3l7.4 7.4M308.3 1538.7l7.4 -7.4M308.6 1535.8h10.4M313.8 1530.6v10.4M310.1 1532.1l7.4 7.4M310.1 1539.4l7.4 -7.4M310.5 1536.3h10.4M315.7 1531.1v10.4M312.0 1532.6l7.4 7.4M312.0 1539.9l7.4 -7.4M312.4 1534.4h10.4M317.6 1529.2v10.4M313.9 1530.7l7.4 7.4M313.9 1538.1l7.4 -7.4M314.3 1532.1h10.4M319.5 1526.9v10.4M315.8 1528.4l7.4 7.4M315.8 1535.7l7.4 -7.4M316.2 1535.9h10.4M321.4 1530.7v10.4M317.7 1532.2l7.4 7.4M317.7 1539.6l7.4 -7.4M318.1 1542.6h10.4M323.3 1537.4v10.4M319.6 1538.9l7.4 7.4M319.6 1546.3l7.4 -7.4M320.0 1543.4h10.4M325.2 1538.2v10.4M321.5 1539.7l7.4 7.4M321.5 1547.1l7.4 -7.4M321.9 1533.5h10.4M327.1 1528.3v10.4M323.4 1529.8l7.4 7.4M323.4 1537.2l7.4 -7.4M323.8 1531.1h10.4M329.0 1525.9v10.4M325.3 1527.4l7.4 7.4M325.3 1534.8l7.4 -7.4M325.7 1532.8h10.4M330.9 1527.6v10.4M327.2 1529.2l7.4 7.4M327.2 1536.5l7.4 -7.4M327.6 1535.6h10.4M332.8 1530.4v10.4M329.1 1531.9l7.4 7.4M329.1 1539.2l7.4 -7.4M329.5 1533.8h10.4M334.7 1528.6v10.4M331.0 1530.2l7.4 7.4M331.0 1537.5l7.4 -7.4M331.4 1543.0h10.4M336.6 1537.8v10.4M332.9 1539.3l7.4 7.4M332.9 1546.7l7.4 -7.4M333.3 1533.3h10.4M338.5 1528.1v10.4M334.8 1529.7l7.4 7.4M334.8 1537.0l7.4 -7.4M335.2 1541.4h10.4M340.4 1536.2v10.4M336.7 1537.7l7.4 7.4M336.7 1545.1l7.4 -7.4M337.1 1533.6h10.4M342.3 1528.4v10.4M338.6 1529.9l7.4 7.4M338.6 1537.3l7.4 -7.4M339.0 1532.7h10.4M344.2 1527.5v10.4M340.5 1529.1l7.4 7.4M340.5 1536.4l7.4 -7.4M340.9 1532.9h10.4M346.1 1527.7v10.4M342.4 1529.2l7.4 7.4M342.4 1536.6l7.4 -7.4M342.8 1535.0h10.4M348.0 1529.8v10.4M344.3 1531.3l7.4 7.4M344.3 1538.6l7.4 -7.4M344.7 1532.1h10.4M349.9 1526.9v10.4M346.2 1528.4l7.4 7.4M346.2 1535.8l7.4 -7.4M346.6 1531.4h10.4M351.8 1526.2v10.4M348.1 1527.7l7.4 7.4M348.1 1535.1l7.4 -7.4M348.5 1531.0h10.4M353.7 1525.8v10.4M350.0 1527.3l7.4 7.4M350.0 1534.7l7.4 -7.4M350.4 1534.3h10.4M355.6 1529.1v10.4M351.9 1530.6l7.4 7.4M351.9 1538.0l7.4 -7.4M352.3 1534.4h10.4M357.5 1529.2v10.4M353.8 1530.7l7.4 7.4M353.8 1538.0l7.4 -7.4M354.2 1533.6h10.4M359.4 1528.4v10.4M355.7 1529.9l7.4 7.4M355.7 1537.2l7.4 -7.4M356.1 1532.9h10.4M361.3 1527.7v10.4M357.6 1529.2l7.4 7.4M357.6 1536.6l7.4 -7.4M358.0 1532.8h10.4M363.2 1527.6v10.4M359.5 1529.1l7.4 7.4M359.5 1536.5l7.4 -7.4M359.9 1531.5h10.4M365.1 1526.3v10.4M361.4 1527.8l7.4 7.4M361.4 1535.1l7.4 -7.4M361.8 1534.8h10.4M367.0 1529.6v10.4M363.3 1531.2l7.4 7.4M363.3 1538.5l7.4 -7.4M363.7 1535.8h10.4M368.9 1530.6v10.4M365.2 1532.1l7.4 7.4M365.2 1539.5l7.4 -7.4M365.6 1532.1h10.4M370.8 1526.9v10.4M367.1 1528.5l7.4 7.4M367.1 1535.8l7.4 -7.4M367.5 1534.3h10.4M372.7 1529.1v10.4M369.0 1530.6l7.4 7.4M369.0 1538.0l7.4 -7.4M369.4 1533.8h10.4M374.6 1528.6v10.4M370.9 1530.2l7.4 7.4M370.9 1537.5l7.4 -7.4M371.3 1533.6h10.4M376.5 1528.4v10.4M372.8 1530.0l7.4 7.4M372.8 1537.3l7.4 -7.4M373.2 1533.2h10.4M378.4 1528.0v10.4M374.7 1529.6l7.4 7.4M374.7 1536.9l7.4 -7.4M375.1 1533.2h10.4M380.3 1528.0v10.4M376.6 1529.5l7.4 7.4M376.6 1536.9l7.4 -7.4M377.0 1533.5h10.4M382.2 1528.3v10.4M378.5 1529.8l7.4 7.4M378.5 1537.2l7.4 -7.4M378.9 1542.0h10.4M384.1 1536.8v10.4M380.4 1538.4l7.4 7.4M380.4 1545.7l7.4 -7.4M380.8 1534.1h10.4M386.0 1528.9v10.4M382.3 1530.4l7.4 7.4M382.3 1537.8l7.4 -7.4M382.7 1535.8h10.4M387.9 1530.6v10.4M384.2 1532.1l7.4 7.4M384.2 1539.5l7.4 -7.4M384.6 1534.7h10.4M389.8 1529.5v10.4M386.1 1531.0l7.4 7.4M386.1 1538.4l7.4 -7.4M386.5 1543.4h10.4M391.7 1538.2v10.4M388.0 1539.8l7.4 7.4M388.0 1547.1l7.4 -7.4M388.4 1535.3h10.4M393.6 1530.1v10.4M389.9 1531.6l7.4 7.4M389.9 1539.0l7.4 -7.4M390.3 1533.4h10.4M395.5 1528.2v10.4M391.8 1529.7l7.4 7.4M391.8 1537.1l7.4 -7.4M392.2 1536.6h10.4M397.4 1531.4v10.4M393.7 1533.0l7.4 7.4M393.7 1540.3l7.4 -7.4M394.1 1535.0h10.4M399.3 1529.8v10.4M395.6 1531.4l7.4 7.4M395.6 1538.7l7.4 -7.4M396.0 1533.5h10.4M401.2 1528.3v10.4M397.5 1529.8l7.4 7.4M397.5 1537.2l7.4 -7.4M397.9 1535.8h10.4M403.1 1530.6v10.4M399.4 1532.1l7.4 7.4M399.4 1539.5l7.4 -7.4M399.8 1532.4h10.4M405.0 1527.2v10.4M401.3 1528.7l7.4 7.4M401.3 1536.1l7.4 -7.4M401.7 1533.9h10.4M406.9 1528.7v10.4M403.2 1530.2l7.4 7.4M403.2 1537.6l7.4 -7.4M403.6 1541.4h10.4M408.8 1536.2v10.4M405.1 1537.7l7.4 7.4M405.1 1545.1l7.4 -7.4M405.5 1531.2h10.4M410.7 1526.0v10.4M407.0 1527.5l7.4 7.4M407.0 1534.8l7.4 -7.4M407.4 1535.3h10.4M412.6 1530.1v10.4M408.9 1531.6l7.4 7.4M408.9 1538.9l7.4 -7.4M409.3 1534.4h10.4M414.5 1529.2v10.4M410.8 1530.7l7.4 7.4M410.8 1538.1l7.4 -7.4M411.2 1532.7h10.4M416.4 1527.5v10.4M412.7 1529.0l7.4 7.4M412.7 1536.3l7.4 -7.4M413.1 1534.3h10.4M418.3 1529.1v10.4M414.6 1530.6l7.4 7.4M414.6 1538.0l7.4 -7.4M415.0 1538.4h10.4M420.2 1533.2v10.4M416.5 1534.7l7.4 7.4M416.5 1542.1l7.4 -7.4M416.9 1528.8h10.4M422.1 1523.6v10.4M418.4 1525.2l7.4 7.4M418.4 1532.5l7.4 -7.4M418.8 1519.7h10.4M424.0 1514.5v10.4M420.3 1516.0l7.4 7.4M420.3 1523.4l7.4 -7.4M420.7 1518.1h10.4M425.9 1512.9v10.4M422.2 1514.4l7.4 7.4M422.2 1521.8l7.4 -7.4M422.6 1516.0h10.4M427.8 1510.8v10.4M424.1 1512.4l7.4 7.4M424.1 1519.7l7.4 -7.4M424.5 1488.7h10.4M429.7 1483.5v10.4M426.0 1485.0l7.4 7.4M426.0 1492.3l7.4 -7.4M426.4 1457.6h10.4M431.6 1452.4v10.4M427.9 1453.9l7.4 7.4M427.9 1461.2l7.4 -7.4M428.3 1434.4h10.4M433.5 1429.2v10.4M429.8 1430.7l7.4 7.4M429.8 1438.1l7.4 -7.4M430.2 1437.6h10.4M435.4 1432.4v10.4M431.7 1433.9l7.4 7.4M431.7 1441.3l7.4 -7.4M432.1 1433.1h10.4M437.3 1427.9v10.4M433.6 1429.4l7.4 7.4M433.6 1436.8l7.4 -7.4M434.0 1432.0h10.4M439.2 1426.8v10.4M435.5 1428.3l7.4 7.4M435.5 1435.6l7.4 -7.4M435.9 1430.8h10.4M441.1 1425.6v10.4M437.4 1427.1l7.4 7.4M437.4 1434.4l7.4 -7.4M437.8 1429.8h10.4M443.0 1424.6v10.4M439.3 1426.1l7.4 7.4M439.3 1433.5l7.4 -7.4M439.7 1433.4h10.4M444.9 1428.2v10.4M441.2 1429.7l7.4 7.4M441.2 1437.1l7.4 -7.4M441.6 1431.7h10.4M446.8 1426.5v10.4M443.1 1428.0l7.4 7.4M443.1 1435.3l7.4 -7.4M443.5 1427.8h10.4M448.7 1422.6v10.4M445.0 1424.1l7.4 7.4M445.0 1431.4l7.4 -7.4M445.4 1429.8h10.4M450.6 1424.6v10.4M446.9 1426.1l7.4 7.4M446.9 1433.4l7.4 -7.4M447.3 1428.4h10.4M452.5 1423.2v10.4M448.8 1424.7l7.4 7.4M448.8 1432.0l7.4 -7.4M449.2 1428.3h10.4M454.4 1423.1v10.4M450.7 1424.7l7.4 7.4M450.7 1432.0l7.4 -7.4M451.1 1429.6h10.4M456.3 1424.4v10.4M452.6 1425.9l7.4 7.4M452.6 1433.3l7.4 -7.4M453.0 1426.1h10.4M458.2 1420.9v10.4M454.5 1422.5l7.4 7.4M454.5 1429.8l7.4 -7.4M454.8 1427.3h10.4M460.0 1422.1v10.4M456.4 1423.6l7.4 7.4M456.4 1430.9l7.4 -7.4M456.7 1421.3h10.4M461.9 1416.1v10.4M458.3 1417.6l7.4 7.4M458.3 1425.0l7.4 -7.4M458.6 1418.2h10.4M463.8 1413.0v10.4M460.2 1414.5l7.4 7.4M460.2 1421.8l7.4 -7.4M460.5 1428.2h10.4M465.7 1423.0v10.4M462.1 1424.5l7.4 7.4M462.1 1431.9l7.4 -7.4M462.4 1415.4h10.4M467.6 1410.2v10.4M464.0 1411.7l7.4 7.4M464.0 1419.1l7.4 -7.4M464.3 1415.7h10.4M469.5 1410.5v10.4M465.9 1412.0l7.4 7.4M465.9 1419.4l7.4 -7.4M466.2 1407.5h10.4M471.4 1402.3v10.4M467.8 1403.8l7.4 7.4M467.8 1411.1l7.4 -7.4M468.1 1407.7h10.4M473.3 1402.5v10.4M469.7 1404.0l7.4 7.4M469.7 1411.4l7.4 -7.4M470.0 1399.9h10.4M475.2 1394.7v10.4M471.6 1396.2l7.4 7.4M471.6 1403.6l7.4 -7.4M471.9 1404.0h10.4M477.1 1398.8v10.4M473.5 1400.3l7.4 7.4M473.5 1407.6l7.4 -7.4M473.8 1400.9h10.4M479.0 1395.7v10.4M475.4 1397.2l7.4 7.4M475.4 1404.6l7.4 -7.4M475.7 1397.9h10.4M480.9 1392.7v10.4M477.3 1394.2l7.4 7.4M477.3 1401.6l7.4 -7.4M477.6 1395.8h10.4M482.8 1390.6v10.4M479.2 1392.1l7.4 7.4M479.2 1399.5l7.4 -7.4M479.5 1391.7h10.4M484.7 1386.5v10.4M481.1 1388.0l7.4 7.4M481.1 1395.4l7.4 -7.4M481.4 1398.0h10.4M486.6 1392.8v10.4M483.0 1394.3l7.4 7.4M483.0 1401.7l7.4 -7.4M483.3 1389.6h10.4M488.5 1384.4v10.4M484.9 1385.9l7.4 7.4M484.9 1393.3l7.4 -7.4M485.2 1383.6h10.4M490.4 1378.4v10.4M486.8 1379.9l7.4 7.4M486.8 1387.3l7.4 -7.4M487.1 1382.3h10.4M492.3 1377.1v10.4M488.7 1378.6l7.4 7.4M488.7 1386.0l7.4 -7.4M489.0 1378.0h10.4M494.2 1372.8v10.4M490.6 1374.3l7.4 7.4M490.6 1381.7l7.4 -7.4M490.9 1376.4h10.4M496.1 1371.2v10.4M492.5 1372.7l7.4 7.4M492.5 1380.1l7.4 -7.4M492.8 1384.9h10.4M498.0 1379.7v10.4M494.4 1381.3l7.4 7.4M494.4 1388.6l7.4 -7.4M494.7 1381.8h10.4M499.9 1376.6v10.4M496.3 1378.2l7.4 7.4M496.3 1385.5l7.4 -7.4M496.6 1382.1h10.4M501.8 1376.9v10.4M498.2 1378.5l7.4 7.4M498.2 1385.8l7.4 -7.4M498.5 1382.3h10.4M503.7 1377.1v10.4M500.0 1378.6l7.4 7.4M500.0 1385.9l7.4 -7.4M500.4 1385.8h10.4M505.6 1380.6v10.4M501.9 1382.1l7.4 7.4M501.9 1389.4l7.4 -7.4M502.3 1384.2h10.4M507.5 1379.0v10.4M503.8 1380.5l7.4 7.4M503.8 1387.8l7.4 -7.4M504.2 1385.4h10.4M509.4 1380.2v10.4M505.7 1381.8l7.4 7.4M505.7 1389.1l7.4 -7.4M506.1 1372.5h10.4M511.3 1367.3v10.4M507.6 1368.8l7.4 7.4M507.6 1376.1l7.4 -7.4M508.0 1368.6h10.4M513.2 1363.4v10.4M509.5 1364.9l7.4 7.4M509.5 1372.3l7.4 -7.4M509.9 1370.3h10.4M515.1 1365.1v10.4M511.4 1366.7l7.4 7.4M511.4 1374.0l7.4 -7.4M511.8 1372.1h10.4M517.0 1366.9v10.4M513.3 1368.4l7.4 7.4M513.3 1375.8l7.4 -7.4M513.7 1369.3h10.4M518.9 1364.1v10.4M515.2 1365.7l7.4 7.4M515.2 1373.0l7.4 -7.4M515.6 1371.7h10.4M520.8 1366.5v10.4M517.1 1368.0l7.4 7.4M517.1 1375.4l7.4 -7.4M517.5 1372.6h10.4M522.7 1367.4v10.4M519.0 1368.9l7.4 7.4M519.0 1376.2l7.4 -7.4M519.4 1365.8h10.4M524.6 1360.6v10.4M520.9 1362.1l7.4 7.4M520.9 1369.5l7.4 -7.4M521.3 1367.2h10.4M526.5 1362.0v10.4M522.8 1363.5l7.4 7.4M522.8 1370.9l7.4 -7.4M523.2 1366.7h10.4M528.4 1361.5v10.4M524.7 1363.0l7.4 7.4M524.7 1370.3l7.4 -7.4M525.1 1368.6h10.4M530.3 1363.4v10.4M526.6 1364.9l7.4 7.4M526.6 1372.3l7.4 -7.4M527.0 1364.5h10.4M532.2 1359.3v10.4M528.5 1360.8l7.4 7.4M528.5 1368.1l7.4 -7.4M528.9 1359.9h10.4M534.1 1354.7v10.4M530.4 1356.2l7.4 7.4M530.4 1363.6l7.4 -7.4M530.8 1361.5h10.4M536.0 1356.3v10.4M532.3 1357.8l7.4 7.4M532.3 1365.1l7.4 -7.4M532.7 1362.8h10.4M537.9 1357.6v10.4M534.2 1359.1l7.4 7.4M534.2 1366.5l7.4 -7.4M534.6 1360.3h10.4M539.8 1355.1v10.4M536.1 1356.7l7.4 7.4M536.1 1364.0l7.4 -7.4M536.5 1358.6h10.4M541.7 1353.4v10.4M538.0 1354.9l7.4 7.4M538.0 1362.2l7.4 -7.4M538.4 1359.7h10.4M543.6 1354.5v10.4M539.9 1356.0l7.4 7.4M539.9 1363.4l7.4 -7.4M540.3 1355.4h10.4M545.5 1350.2v10.4M541.8 1351.7l7.4 7.4M541.8 1359.1l7.4 -7.4M542.2 1354.6h10.4M547.4 1349.4v10.4M543.7 1350.9l7.4 7.4M543.7 1358.2l7.4 -7.4M544.1 1352.8h10.4M549.3 1347.6v10.4M545.6 1349.1l7.4 7.4M545.6 1356.4l7.4 -7.4M546.0 1346.5h10.4M551.2 1341.3v10.4M547.5 1342.8l7.4 7.4M547.5 1350.2l7.4 -7.4M547.9 1351.8h10.4M553.1 1346.6v10.4M549.4 1348.2l7.4 7.4M549.4 1355.5l7.4 -7.4M549.8 1345.6h10.4M555.0 1340.4v10.4M551.3 1341.9l7.4 7.4M551.3 1349.3l7.4 -7.4M551.7 1343.2h10.4M556.9 1338.0v10.4M553.2 1339.5l7.4 7.4M553.2 1346.8l7.4 -7.4M553.6 1340.6h10.4M558.8 1335.4v10.4M555.1 1336.9l7.4 7.4M555.1 1344.2l7.4 -7.4M555.5 1344.8h10.4M560.7 1339.6v10.4M557.0 1341.1l7.4 7.4M557.0 1348.5l7.4 -7.4M557.4 1341.0h10.4M562.6 1335.8v10.4M558.9 1337.3l7.4 7.4M558.9 1344.6l7.4 -7.4M559.3 1332.7h10.4M564.5 1327.5v10.4M560.8 1329.1l7.4 7.4M560.8 1336.4l7.4 -7.4M561.2 1333.3h10.4M566.4 1328.1v10.4M562.7 1329.6l7.4 7.4M562.7 1337.0l7.4 -7.4M563.1 1329.5h10.4M568.3 1324.3v10.4M564.6 1325.8l7.4 7.4M564.6 1333.1l7.4 -7.4M565.0 1325.3h10.4M570.2 1320.1v10.4M566.5 1321.6l7.4 7.4M566.5 1329.0l7.4 -7.4M566.9 1313.9h10.4M572.1 1308.7v10.4M568.4 1310.2l7.4 7.4M568.4 1317.5l7.4 -7.4M568.8 1311.1h10.4M574.0 1305.9v10.4M570.3 1307.5l7.4 7.4M570.3 1314.8l7.4 -7.4M570.7 1302.1h10.4M575.9 1296.9v10.4M572.2 1298.4l7.4 7.4M572.2 1305.8l7.4 -7.4M572.6 1298.4h10.4M577.8 1293.2v10.4M574.1 1294.8l7.4 7.4M574.1 1302.1l7.4 -7.4M574.5 1295.0h10.4M579.7 1289.8v10.4M576.0 1291.3l7.4 7.4M576.0 1298.6l7.4 -7.4M576.4 1302.4h10.4M581.6 1297.2v10.4M577.9 1298.7l7.4 7.4M577.9 1306.0l7.4 -7.4M578.3 1304.5h10.4M583.5 1299.3v10.4M579.8 1300.8l7.4 7.4M579.8 1308.2l7.4 -7.4M580.2 1283.8h10.4M585.4 1278.6v10.4M581.7 1280.1l7.4 7.4M581.7 1287.5l7.4 -7.4M582.1 1284.4h10.4M587.3 1279.2v10.4M583.6 1280.7l7.4 7.4M583.6 1288.1l7.4 -7.4M584.0 1293.4h10.4M589.2 1288.2v10.4M585.5 1289.7l7.4 7.4M585.5 1297.0l7.4 -7.4M659.9 1275.9h10.4M665.1 1270.7v10.4M661.5 1272.2l7.4 7.4M661.5 1279.6l7.4 -7.4M661.8 1299.0h10.4M667.0 1293.8v10.4M663.4 1295.3l7.4 7.4M663.4 1302.7l7.4 -7.4M663.7 1311.1h10.4M668.9 1305.9v10.4M665.3 1307.5l7.4 7.4M665.3 1314.8l7.4 -7.4M665.6 1311.0h10.4M670.8 1305.8v10.4M667.2 1307.3l7.4 7.4M667.2 1314.7l7.4 -7.4M667.5 1308.2h10.4M672.7 1303.0v10.4M669.1 1304.5l7.4 7.4M669.1 1311.8l7.4 -7.4M669.4 1310.1h10.4M674.6 1304.9v10.4M671.0 1306.5l7.4 7.4M671.0 1313.8l7.4 -7.4M671.3 1304.5h10.4M676.5 1299.3v10.4M672.9 1300.8l7.4 7.4M672.9 1308.2l7.4 -7.4M673.2 1309.6h10.4M678.4 1304.4v10.4M674.8 1306.0l7.4 7.4M674.8 1313.3l7.4 -7.4M675.1 1301.2h10.4M680.3 1296.0v10.4M676.7 1297.5l7.4 7.4M676.7 1304.8l7.4 -7.4M677.0 1295.2h10.4M682.2 1290.0v10.4M678.6 1291.6l7.4 7.4M678.6 1298.9l7.4 -7.4M678.9 1299.0h10.4M684.1 1293.8v10.4M680.5 1295.3l7.4 7.4M680.5 1302.6l7.4 -7.4M680.8 1297.6h10.4M686.0 1292.4v10.4M682.4 1294.0l7.4 7.4M682.4 1301.3l7.4 -7.4M682.7 1303.0h10.4M687.9 1297.8v10.4M684.3 1299.3l7.4 7.4M684.3 1306.7l7.4 -7.4M684.6 1311.1h10.4M689.8 1305.9v10.4M686.2 1307.5l7.4 7.4M686.2 1314.8l7.4 -7.4M686.5 1304.6h10.4M691.7 1299.4v10.4M688.1 1300.9l7.4 7.4M688.1 1308.3l7.4 -7.4M688.4 1310.1h10.4M693.6 1304.9v10.4M689.9 1306.4l7.4 7.4M689.9 1313.8l7.4 -7.4M690.3 1315.4h10.4M695.5 1310.2v10.4M691.8 1311.8l7.4 7.4M691.8 1319.1l7.4 -7.4M692.2 1312.0h10.4M697.4 1306.8v10.4M693.7 1308.3l7.4 7.4M693.7 1315.7l7.4 -7.4M694.1 1317.1h10.4M699.3 1311.9v10.4M695.6 1313.5l7.4 7.4M695.6 1320.8l7.4 -7.4M696.0 1310.9h10.4M701.2 1305.7v10.4M697.5 1307.2l7.4 7.4M697.5 1314.5l7.4 -7.4M697.9 1286.3h10.4M703.1 1281.1v10.4M699.4 1282.7l7.4 7.4M699.4 1290.0l7.4 -7.4M699.8 1279.0h10.4M705.0 1273.8v10.4M701.3 1275.3l7.4 7.4M701.3 1282.7l7.4 -7.4M701.7 1273.0h10.4M706.9 1267.8v10.4M703.2 1269.3l7.4 7.4M703.2 1276.7l7.4 -7.4M703.6 1291.2h10.4M708.8 1286.0v10.4M705.1 1287.5l7.4 7.4M705.1 1294.9l7.4 -7.4M705.5 1295.2h10.4M710.7 1290.0v10.4M707.0 1291.5l7.4 7.4M707.0 1298.9l7.4 -7.4M707.4 1302.2h10.4M712.6 1297.0v10.4M708.9 1298.6l7.4 7.4M708.9 1305.9l7.4 -7.4M709.3 1296.2h10.4M714.5 1291.0v10.4M710.8 1292.5l7.4 7.4M710.8 1299.9l7.4 -7.4M711.2 1308.6h10.4M716.4 1303.4v10.4M712.7 1304.9l7.4 7.4M712.7 1312.3l7.4 -7.4M713.1 1304.3h10.4M718.3 1299.1v10.4M714.6 1300.6l7.4 7.4M714.6 1308.0l7.4 -7.4M715.0 1310.0h10.4M720.2 1304.8v10.4M716.5 1306.3l7.4 7.4M716.5 1313.6l7.4 -7.4M716.9 1315.5h10.4M722.1 1310.3v10.4M718.4 1311.9l7.4 7.4M718.4 1319.2l7.4 -7.4M718.8 1316.8h10.4M724.0 1311.6v10.4M720.3 1313.1l7.4 7.4M720.3 1320.4l7.4 -7.4M720.7 1312.3h10.4M725.9 1307.1v10.4M722.2 1308.6l7.4 7.4M722.2 1315.9l7.4 -7.4M722.6 1307.4h10.4M727.8 1302.2v10.4M724.1 1303.7l7.4 7.4M724.1 1311.1l7.4 -7.4M724.5 1313.4h10.4M729.7 1308.2v10.4M726.0 1309.7l7.4 7.4M726.0 1317.1l7.4 -7.4M726.4 1316.2h10.4M731.6 1311.0v10.4M727.9 1312.5l7.4 7.4M727.9 1319.9l7.4 -7.4M728.3 1311.1h10.4M733.5 1305.9v10.4M729.8 1307.4l7.4 7.4M729.8 1314.7l7.4 -7.4M730.2 1320.1h10.4M735.4 1314.9v10.4M731.7 1316.4l7.4 7.4M731.7 1323.7l7.4 -7.4M732.1 1305.1h10.4M737.3 1299.9v10.4M733.6 1301.4l7.4 7.4M733.6 1308.8l7.4 -7.4M734.0 1312.5h10.4M739.2 1307.3v10.4M735.5 1308.8l7.4 7.4M735.5 1316.1l7.4 -7.4M735.9 1303.8h10.4M741.1 1298.6v10.4M737.4 1300.1l7.4 7.4M737.4 1307.5l7.4 -7.4M737.8 1312.6h10.4M743.0 1307.4v10.4M739.3 1308.9l7.4 7.4M739.3 1316.3l7.4 -7.4M739.7 1323.6h10.4M744.9 1318.4v10.4M741.2 1319.9l7.4 7.4M741.2 1327.3l7.4 -7.4M741.6 1341.9h10.4M746.8 1336.7v10.4M743.1 1338.3l7.4 7.4M743.1 1345.6l7.4 -7.4M743.5 1361.4h10.4M748.7 1356.2v10.4M745.0 1357.7l7.4 7.4M745.0 1365.1l7.4 -7.4M745.4 1382.3h10.4M750.6 1377.1v10.4M746.9 1378.6l7.4 7.4M746.9 1386.0l7.4 -7.4M747.3 1397.1h10.4M752.5 1391.9v10.4M748.8 1393.5l7.4 7.4M748.8 1400.8l7.4 -7.4M749.2 1401.0h10.4M754.4 1395.8v10.4M750.7 1397.3l7.4 7.4M750.7 1404.7l7.4 -7.4M751.1 1406.3h10.4M756.3 1401.1v10.4M752.6 1402.6l7.4 7.4M752.6 1410.0l7.4 -7.4M753.0 1415.4h10.4M758.2 1410.2v10.4M754.5 1411.7l7.4 7.4M754.5 1419.1l7.4 -7.4M754.9 1431.6h10.4M760.1 1426.4v10.4M756.4 1427.9l7.4 7.4M756.4 1435.3l7.4 -7.4M756.8 1451.6h10.4M762.0 1446.4v10.4M758.3 1447.9l7.4 7.4M758.3 1455.2l7.4 -7.4M758.7 1474.3h10.4M763.9 1469.1v10.4M760.2 1470.6l7.4 7.4M760.2 1478.0l7.4 -7.4M760.6 1507.5h10.4M765.8 1502.3v10.4M762.1 1503.8l7.4 7.4M762.1 1511.2l7.4 -7.4M762.5 1525.8h10.4M767.7 1520.6v10.4M764.0 1522.1l7.4 7.4M764.0 1529.4l7.4 -7.4M764.4 1526.1h10.4M769.6 1520.9v10.4M765.9 1522.4l7.4 7.4M765.9 1529.8l7.4 -7.4M766.3 1525.4h10.4M771.5 1520.2v10.4M767.8 1521.8l7.4 7.4M767.8 1529.1l7.4 -7.4M768.2 1530.2h10.4M773.4 1525.0v10.4M769.7 1526.5l7.4 7.4M769.7 1533.9l7.4 -7.4M770.1 1525.3h10.4M775.3 1520.1v10.4M771.6 1521.6l7.4 7.4M771.6 1529.0l7.4 -7.4M772.0 1534.9h10.4M777.2 1529.7v10.4M773.5 1531.2l7.4 7.4M773.5 1538.6l7.4 -7.4M773.9 1526.0h10.4M779.1 1520.8v10.4M775.4 1522.4l7.4 7.4M775.4 1529.7l7.4 -7.4M775.8 1526.3h10.4M781.0 1521.1v10.4M777.3 1522.6l7.4 7.4M777.3 1530.0l7.4 -7.4M777.7 1530.6h10.4M782.9 1525.4v10.4M779.2 1526.9l7.4 7.4M779.2 1534.3l7.4 -7.4M656.3 1230.6h10.4M661.5 1225.4v10.4M657.8 1226.9l7.4 7.4M657.8 1234.3l7.4 -7.4" fill="none" stroke="#ff0000" stroke-width="1.15"/>
<path d="M86.6 1163.2H842.9M86.6 1571.4H842.9" fill="none" stroke="#3a3a3a" stroke-width="1.1"/>
<path d="M86.6 1162.7V1571.9M842.9 1162.7V1571.9" fill="none" stroke="#505050" stroke-width="1.1"/>
<path d="M173.2 1571.4v-7.0M173.2 1163.2v7.0M325.0 1571.4v-7.0M325.0 1163.2v7.0M476.9 1571.4v-7.0M476.9 1163.2v7.0M628.8 1571.4v-7.0M628.8 1163.2v7.0M780.6 1571.4v-7.0M780.6 1163.2v7.0M86.6 1572.0h7.0M842.9 1572.0h-7.0M86.6 1503.8h7.0M842.9 1503.8h-7.0M86.6 1435.6h7.0M842.9 1435.6h-7.0M86.6 1367.4h7.0M842.9 1367.4h-7.0M86.6 1299.2h7.0M842.9 1299.2h-7.0M86.6 1231.0h7.0M842.9 1231.0h-7.0M86.6 1162.8h7.0M842.9 1162.8h-7.0" stroke="#505050" stroke-width="1" fill="none"/>
<text x="173.2" y="1607.0" text-anchor="middle" font-size="26.0" fill="#262626" stroke="#262626">2015/07/01</text>
<text x="325.0" y="1607.0" text-anchor="middle" font-size="26.0" fill="#262626" stroke="#262626">2015/09/19</text>
<text x="476.9" y="1607.0" text-anchor="middle" font-size="26.0" fill="#262626" stroke="#262626">2015/12/08</text>
<text x="628.8" y="1607.0" text-anchor="middle" font-size="26.0" fill="#262626" stroke="#262626">2016/02/26</text>
<text x="780.6" y="1607.0" text-anchor="middle" font-size="26.0" fill="#262626" stroke="#262626">2016/05/17</text>
<text x="77.6" y="1582.5" text-anchor="end" font-size="26.0" fill="#262626" stroke="#262626">-0.1</text>
<text x="77.6" y="1514.3" text-anchor="end" font-size="26.0" fill="#262626" stroke="#262626">0.1</text>
<text x="77.6" y="1446.1" text-anchor="end" font-size="26.0" fill="#262626" stroke="#262626">0.3</text>
<text x="77.6" y="1377.9" text-anchor="end" font-size="26.0" fill="#262626" stroke="#262626">0.5</text>
<text x="77.6" y="1309.7" text-anchor="end" font-size="26.0" fill="#262626" stroke="#262626">0.7</text>
<text x="77.6" y="1241.5" text-anchor="end" font-size="26.0" fill="#262626" stroke="#262626">0.9</text>
<text x="77.6" y="1173.3" text-anchor="end" font-size="26.0" fill="#262626" stroke="#262626">1.1</text>
<text x="463.5" y="1642.2" text-anchor="middle" font-size="28.5" fill="#262626" stroke="#262626">Time /day</text>
<text transform="translate(21.2 1367.0) rotate(-90)" text-anchor="middle" font-size="28.5" fill="#262626" stroke="#262626">Snow depth /m</text>
<rect x="97.4" y="1174.4" width="251.9" height="93.8" fill="#fff" stroke="#262626" stroke-width="1"/>
<path d="M101.6 1191.6h43.4" stroke="#000" stroke-width="3" fill="none"/>
<path d="M118.5 1221.8a4.5 4.5 0 1 0 9.0 0a4.5 4.5 0 1 0 -9.0 0" fill="none" stroke="#0000ff" stroke-width="1.6"/>
<path d="M117.8 1252.0h10.4M123.0 1246.8v10.4M119.3 1248.3l7.4 7.4M119.3 1255.7l7.4 -7.4" fill="none" stroke="#ff0000" stroke-width="1.15"/>
<text x="154.0" y="1200.5" font-size="23.4" fill="#000" stroke="#000">In situ observation</text>
<text x="154.0" y="1230.7" font-size="23.4" fill="#000" stroke="#000">SNR2</text>
<text x="154.0" y="1260.9" font-size="23.4" fill="#000" stroke="#000">SNR combination</text>
<path d="M1025.3 1525.0h8.5M1029.6 1520.8v8.5M1026.6 1522.0l6.0 6.0M1026.6 1528.0l6.0 -6.0M1029.9 1523.4h8.5M1034.1 1519.2v8.5M1031.1 1520.4l6.0 6.0M1031.1 1526.4l6.0 -6.0M1035.2 1526.8h8.5M1039.4 1522.6v8.5M1036.4 1523.8l6.0 6.0M1036.4 1529.8l6.0 -6.0M1019.9 1524.2h8.5M1024.2 1519.9v8.5M1021.2 1521.2l6.0 6.0M1021.2 1527.2l6.0 -6.0M1027.1 1524.7h8.5M1031.4 1520.4v8.5M1028.4 1521.7l6.0 6.0M1028.4 1527.7l6.0 -6.0M1023.5 1523.4h8.5M1027.8 1519.2v8.5M1024.8 1520.4l6.0 6.0M1024.8 1526.4l6.0 -6.0M1036.4 1524.4h8.5M1040.7 1520.1v8.5M1037.7 1521.4l6.0 6.0M1037.7 1527.4l6.0 -6.0M1042.0 1525.3h8.5M1046.3 1521.1v8.5M1043.3 1522.3l6.0 6.0M1043.3 1528.3l6.0 -6.0M1041.8 1522.0h8.5M1046.0 1517.7v8.5M1043.0 1519.0l6.0 6.0M1043.0 1525.0l6.0 -6.0M1043.9 1524.0h8.5M1048.2 1519.7v8.5M1045.2 1521.0l6.0 6.0M1045.2 1527.0l6.0 -6.0M1037.1 1524.7h8.5M1041.3 1520.4v8.5M1038.3 1521.7l6.0 6.0M1038.3 1527.7l6.0 -6.0M1039.8 1524.0h8.5M1044.1 1519.8v8.5M1041.1 1521.0l6.0 6.0M1041.1 1527.0l6.0 -6.0M1041.0 1525.7h8.5M1045.3 1521.4v8.5M1042.3 1522.6l6.0 6.0M1042.3 1528.7l6.0 -6.0M1025.4 1524.4h8.5M1029.6 1520.2v8.5M1026.6 1521.4l6.0 6.0M1026.6 1527.4l6.0 -6.0M1034.4 1522.0h8.5M1038.7 1517.7v8.5M1035.7 1518.9l6.0 6.0M1035.7 1525.0l6.0 -6.0M1036.4 1519.9h8.5M1040.6 1515.6v8.5M1037.6 1516.9l6.0 6.0M1037.6 1522.9l6.0 -6.0M1035.9 1524.1h8.5M1040.2 1519.8v8.5M1037.2 1521.1l6.0 6.0M1037.2 1527.1l6.0 -6.0M1036.2 1525.4h8.5M1040.5 1521.1v8.5M1037.5 1522.4l6.0 6.0M1037.5 1528.4l6.0 -6.0M1036.8 1524.9h8.5M1041.1 1520.6v8.5M1038.1 1521.9l6.0 6.0M1038.1 1527.9l6.0 -6.0M1035.2 1533.5h8.5M1039.5 1529.2v8.5M1036.5 1530.5l6.0 6.0M1036.5 1536.5l6.0 -6.0M1042.4 1522.9h8.5M1046.7 1518.6v8.5M1043.6 1519.9l6.0 6.0M1043.6 1525.9l6.0 -6.0M1043.8 1535.6h8.5M1048.1 1531.4v8.5M1045.1 1532.6l6.0 6.0M1045.1 1538.6l6.0 -6.0M1020.8 1521.7h8.5M1025.1 1517.4v8.5M1022.1 1518.7l6.0 6.0M1022.1 1524.7l6.0 -6.0M1036.2 1523.7h8.5M1040.4 1519.5v8.5M1037.4 1520.7l6.0 6.0M1037.4 1526.7l6.0 -6.0M1042.2 1526.3h8.5M1046.4 1522.0v8.5M1043.4 1523.3l6.0 6.0M1043.4 1529.3l6.0 -6.0M1042.2 1523.2h8.5M1046.5 1518.9v8.5M1043.5 1520.2l6.0 6.0M1043.5 1526.2l6.0 -6.0M1040.7 1522.0h8.5M1044.9 1517.8v8.5M1041.9 1519.0l6.0 6.0M1041.9 1525.0l6.0 -6.0M1034.4 1523.7h8.5M1038.6 1519.5v8.5M1035.6 1520.7l6.0 6.0M1035.6 1526.7l6.0 -6.0M1040.0 1525.5h8.5M1044.3 1521.3v8.5M1041.3 1522.5l6.0 6.0M1041.3 1528.5l6.0 -6.0M1042.9 1522.8h8.5M1047.1 1518.6v8.5M1044.1 1519.8l6.0 6.0M1044.1 1525.8l6.0 -6.0M1038.1 1524.1h8.5M1042.4 1519.9v8.5M1039.4 1521.1l6.0 6.0M1039.4 1527.1l6.0 -6.0M1032.9 1536.5h8.5M1037.2 1532.3v8.5M1034.2 1533.5l6.0 6.0M1034.2 1539.5l6.0 -6.0M1030.7 1524.5h8.5M1035.0 1520.2v8.5M1032.0 1521.5l6.0 6.0M1032.0 1527.5l6.0 -6.0M1032.1 1523.4h8.5M1036.4 1519.1v8.5M1033.4 1520.4l6.0 6.0M1033.4 1526.4l6.0 -6.0M1022.9 1525.8h8.5M1027.1 1521.6v8.5M1024.1 1522.8l6.0 6.0M1024.1 1528.8l6.0 -6.0M1035.4 1525.5h8.5M1039.7 1521.2v8.5M1036.6 1522.5l6.0 6.0M1036.6 1528.5l6.0 -6.0M1032.3 1526.1h8.5M1036.6 1521.8v8.5M1033.6 1523.1l6.0 6.0M1033.6 1529.1l6.0 -6.0M1035.0 1523.7h8.5M1039.3 1519.5v8.5M1036.3 1520.7l6.0 6.0M1036.3 1526.7l6.0 -6.0M1026.0 1524.9h8.5M1030.2 1520.6v8.5M1027.2 1521.8l6.0 6.0M1027.2 1527.9l6.0 -6.0M1041.1 1523.5h8.5M1045.3 1519.3v8.5M1042.3 1520.5l6.0 6.0M1042.3 1526.5l6.0 -6.0M1046.3 1522.7h8.5M1050.5 1518.4v8.5M1047.5 1519.7l6.0 6.0M1047.5 1525.7l6.0 -6.0M1031.1 1523.3h8.5M1035.4 1519.0v8.5M1032.3 1520.3l6.0 6.0M1032.3 1526.3l6.0 -6.0M1024.8 1524.1h8.5M1029.0 1519.8v8.5M1026.0 1521.1l6.0 6.0M1026.0 1527.1l6.0 -6.0M1036.0 1523.2h8.5M1040.2 1518.9v8.5M1037.2 1520.2l6.0 6.0M1037.2 1526.2l6.0 -6.0M1042.5 1536.4h8.5M1046.8 1532.1v8.5M1043.8 1533.4l6.0 6.0M1043.8 1539.4l6.0 -6.0M1037.3 1526.0h8.5M1041.5 1521.7v8.5M1038.5 1523.0l6.0 6.0M1038.5 1529.0l6.0 -6.0M1033.9 1522.9h8.5M1038.2 1518.6v8.5M1035.2 1519.9l6.0 6.0M1035.2 1525.9l6.0 -6.0M1034.1 1536.3h8.5M1038.3 1532.1v8.5M1035.3 1533.3l6.0 6.0M1035.3 1539.3l6.0 -6.0M1029.1 1524.7h8.5M1033.4 1520.4v8.5M1030.4 1521.7l6.0 6.0M1030.4 1527.7l6.0 -6.0M1045.5 1533.7h8.5M1049.7 1529.5v8.5M1046.7 1530.7l6.0 6.0M1046.7 1536.7l6.0 -6.0M1040.6 1534.6h8.5M1044.9 1530.4v8.5M1041.9 1531.6l6.0 6.0M1041.9 1537.7l6.0 -6.0M1046.4 1522.4h8.5M1050.7 1518.1v8.5M1047.7 1519.4l6.0 6.0M1047.7 1525.4l6.0 -6.0M1034.6 1535.2h8.5M1038.8 1531.0v8.5M1035.8 1532.2l6.0 6.0M1035.8 1538.2l6.0 -6.0M1044.5 1525.6h8.5M1048.7 1521.3v8.5M1045.7 1522.6l6.0 6.0M1045.7 1528.6l6.0 -6.0M1036.0 1520.7h8.5M1040.2 1516.5v8.5M1037.2 1517.7l6.0 6.0M1037.2 1523.8l6.0 -6.0M1029.6 1524.4h8.5M1033.8 1520.1v8.5M1030.8 1521.3l6.0 6.0M1030.8 1527.4l6.0 -6.0M1039.5 1523.0h8.5M1043.7 1518.8v8.5M1040.7 1520.0l6.0 6.0M1040.7 1526.0l6.0 -6.0M1044.3 1534.1h8.5M1048.6 1529.8v8.5M1045.5 1531.1l6.0 6.0M1045.5 1537.1l6.0 -6.0M1033.4 1525.8h8.5M1037.6 1521.5v8.5M1034.6 1522.8l6.0 6.0M1034.6 1528.8l6.0 -6.0M1029.1 1533.6h8.5M1033.4 1529.4v8.5M1030.4 1530.6l6.0 6.0M1030.4 1536.6l6.0 -6.0M1020.5 1524.0h8.5M1024.7 1519.7v8.5M1021.7 1521.0l6.0 6.0M1021.7 1527.0l6.0 -6.0M1058.1 1535.7h8.5M1062.4 1531.5v8.5M1059.4 1532.7l6.0 6.0M1059.4 1538.7l6.0 -6.0M1033.0 1524.8h8.5M1037.3 1520.6v8.5M1034.2 1521.8l6.0 6.0M1034.2 1527.8l6.0 -6.0M1037.8 1524.1h8.5M1042.1 1519.9v8.5M1039.1 1521.1l6.0 6.0M1039.1 1527.1l6.0 -6.0M1038.2 1526.4h8.5M1042.5 1522.1v8.5M1039.5 1523.4l6.0 6.0M1039.5 1529.4l6.0 -6.0M1031.8 1525.0h8.5M1036.0 1520.7v8.5M1033.0 1522.0l6.0 6.0M1033.0 1528.0l6.0 -6.0M1043.4 1523.9h8.5M1047.6 1519.7v8.5M1044.6 1520.9l6.0 6.0M1044.6 1526.9l6.0 -6.0M1032.1 1524.2h8.5M1036.3 1520.0v8.5M1033.3 1521.2l6.0 6.0M1033.3 1527.2l6.0 -6.0M1031.1 1523.0h8.5M1035.4 1518.8v8.5M1032.4 1520.0l6.0 6.0M1032.4 1526.0l6.0 -6.0M1019.1 1524.8h8.5M1023.3 1520.6v8.5M1020.3 1521.8l6.0 6.0M1020.3 1527.8l6.0 -6.0M1027.8 1521.2h8.5M1032.1 1517.0v8.5M1029.0 1518.2l6.0 6.0M1029.0 1524.2l6.0 -6.0M1049.2 1525.2h8.5M1053.5 1520.9v8.5M1050.5 1522.2l6.0 6.0M1050.5 1528.2l6.0 -6.0M1038.0 1524.8h8.5M1042.3 1520.6v8.5M1039.3 1521.8l6.0 6.0M1039.3 1527.8l6.0 -6.0M1047.6 1526.3h8.5M1051.9 1522.0v8.5M1048.9 1523.3l6.0 6.0M1048.9 1529.3l6.0 -6.0M1047.7 1527.2h8.5M1052.0 1522.9v8.5M1049.0 1524.1l6.0 6.0M1049.0 1530.2l6.0 -6.0M1036.5 1527.7h8.5M1040.8 1523.5v8.5M1037.7 1524.7l6.0 6.0M1037.7 1530.7l6.0 -6.0M1048.5 1525.5h8.5M1052.8 1521.3v8.5M1049.8 1522.5l6.0 6.0M1049.8 1528.5l6.0 -6.0M1035.3 1522.7h8.5M1039.5 1518.5v8.5M1036.5 1519.7l6.0 6.0M1036.5 1525.7l6.0 -6.0M1040.1 1527.3h8.5M1044.4 1523.1v8.5M1041.4 1524.3l6.0 6.0M1041.4 1530.3l6.0 -6.0M1038.9 1535.3h8.5M1043.1 1531.1v8.5M1040.1 1532.3l6.0 6.0M1040.1 1538.3l6.0 -6.0M1036.8 1536.3h8.5M1041.0 1532.0v8.5M1038.0 1533.3l6.0 6.0M1038.0 1539.3l6.0 -6.0M1071.6 1524.4h8.5M1075.8 1520.2v8.5M1072.8 1521.4l6.0 6.0M1072.8 1527.4l6.0 -6.0M1035.4 1521.5h8.5M1039.6 1517.3v8.5M1036.6 1518.5l6.0 6.0M1036.6 1524.6l6.0 -6.0M1033.1 1523.6h8.5M1037.4 1519.4v8.5M1034.4 1520.6l6.0 6.0M1034.4 1526.7l6.0 -6.0M1025.7 1526.9h8.5M1030.0 1522.6v8.5M1027.0 1523.9l6.0 6.0M1027.0 1529.9l6.0 -6.0M1021.6 1524.9h8.5M1025.9 1520.6v8.5M1022.9 1521.9l6.0 6.0M1022.9 1527.9l6.0 -6.0M1040.8 1535.8h8.5M1045.0 1531.5v8.5M1042.0 1532.8l6.0 6.0M1042.0 1538.8l6.0 -6.0M1041.2 1524.3h8.5M1045.5 1520.0v8.5M1042.5 1521.2l6.0 6.0M1042.5 1527.3l6.0 -6.0M1020.0 1533.9h8.5M1024.3 1529.6v8.5M1021.3 1530.9l6.0 6.0M1021.3 1536.9l6.0 -6.0M1028.8 1524.6h8.5M1033.0 1520.3v8.5M1030.0 1521.5l6.0 6.0M1030.0 1527.6l6.0 -6.0M1047.8 1523.5h8.5M1052.0 1519.3v8.5M1049.0 1520.5l6.0 6.0M1049.0 1526.5l6.0 -6.0M1048.9 1523.7h8.5M1053.2 1519.5v8.5M1050.2 1520.7l6.0 6.0M1050.2 1526.7l6.0 -6.0M1037.3 1526.2h8.5M1041.5 1521.9v8.5M1038.5 1523.2l6.0 6.0M1038.5 1529.2l6.0 -6.0M1047.0 1522.8h8.5M1051.2 1518.5v8.5M1048.2 1519.8l6.0 6.0M1048.2 1525.8l6.0 -6.0M1046.8 1521.9h8.5M1051.0 1517.7v8.5M1048.0 1518.9l6.0 6.0M1048.0 1524.9l6.0 -6.0M1044.4 1521.4h8.5M1048.7 1517.2v8.5M1045.7 1518.4l6.0 6.0M1045.7 1524.4l6.0 -6.0M1021.8 1525.4h8.5M1026.0 1521.1v8.5M1023.0 1522.4l6.0 6.0M1023.0 1528.4l6.0 -6.0M1035.4 1525.5h8.5M1039.7 1521.2v8.5M1036.7 1522.5l6.0 6.0M1036.7 1528.5l6.0 -6.0M1033.7 1524.5h8.5M1038.0 1520.3v8.5M1035.0 1521.5l6.0 6.0M1035.0 1527.5l6.0 -6.0M1043.4 1523.7h8.5M1047.7 1519.5v8.5M1044.7 1520.7l6.0 6.0M1044.7 1526.7l6.0 -6.0M1043.6 1523.6h8.5M1047.8 1519.3v8.5M1044.8 1520.6l6.0 6.0M1044.8 1526.6l6.0 -6.0M1045.3 1522.0h8.5M1049.6 1517.7v8.5M1046.6 1519.0l6.0 6.0M1046.6 1525.0l6.0 -6.0M1040.6 1526.0h8.5M1044.9 1521.8v8.5M1041.9 1523.0l6.0 6.0M1041.9 1529.0l6.0 -6.0M1032.6 1527.2h8.5M1036.9 1523.0v8.5M1033.9 1524.2l6.0 6.0M1033.9 1530.2l6.0 -6.0M1052.4 1522.8h8.5M1056.6 1518.6v8.5M1053.6 1519.8l6.0 6.0M1053.6 1525.8l6.0 -6.0M1039.6 1525.4h8.5M1043.9 1521.2v8.5M1040.9 1522.4l6.0 6.0M1040.9 1528.4l6.0 -6.0M1038.9 1524.8h8.5M1043.2 1520.6v8.5M1040.2 1521.8l6.0 6.0M1040.2 1527.8l6.0 -6.0M1045.0 1524.6h8.5M1049.2 1520.4v8.5M1046.2 1521.6l6.0 6.0M1046.2 1527.6l6.0 -6.0M1038.1 1524.1h8.5M1042.4 1519.9v8.5M1039.4 1521.1l6.0 6.0M1039.4 1527.1l6.0 -6.0M1040.7 1524.1h8.5M1045.0 1519.8v8.5M1042.0 1521.1l6.0 6.0M1042.0 1527.1l6.0 -6.0M1033.2 1524.4h8.5M1037.5 1520.2v8.5M1034.5 1521.4l6.0 6.0M1034.5 1527.5l6.0 -6.0M1040.1 1534.7h8.5M1044.4 1530.4v8.5M1041.4 1531.7l6.0 6.0M1041.4 1537.7l6.0 -6.0M1034.9 1525.2h8.5M1039.2 1520.9v8.5M1036.2 1522.2l6.0 6.0M1036.2 1528.2l6.0 -6.0M1029.6 1527.2h8.5M1033.8 1523.0v8.5M1030.8 1524.2l6.0 6.0M1030.8 1530.2l6.0 -6.0M1037.8 1525.9h8.5M1042.0 1521.6v8.5M1039.0 1522.9l6.0 6.0M1039.0 1528.9l6.0 -6.0M1039.0 1536.3h8.5M1043.2 1532.1v8.5M1040.2 1533.3l6.0 6.0M1040.2 1539.3l6.0 -6.0M1035.7 1526.6h8.5M1039.9 1522.4v8.5M1036.9 1523.6l6.0 6.0M1036.9 1529.6l6.0 -6.0M1045.7 1524.3h8.5M1050.0 1520.1v8.5M1047.0 1521.3l6.0 6.0M1047.0 1527.3l6.0 -6.0M1043.3 1528.2h8.5M1047.5 1523.9v8.5M1044.5 1525.2l6.0 6.0M1044.5 1531.2l6.0 -6.0M1049.6 1526.3h8.5M1053.9 1522.0v8.5M1050.9 1523.3l6.0 6.0M1050.9 1529.3l6.0 -6.0M1027.9 1524.5h8.5M1032.1 1520.2v8.5M1029.1 1521.5l6.0 6.0M1029.1 1527.5l6.0 -6.0M1049.3 1527.2h8.5M1053.5 1522.9v8.5M1050.5 1524.2l6.0 6.0M1050.5 1530.2l6.0 -6.0M1032.1 1523.1h8.5M1036.4 1518.9v8.5M1033.4 1520.1l6.0 6.0M1033.4 1526.1l6.0 -6.0M1034.5 1524.9h8.5M1038.7 1520.7v8.5M1035.7 1521.9l6.0 6.0M1035.7 1527.9l6.0 -6.0M1040.3 1533.9h8.5M1044.6 1529.6v8.5M1041.6 1530.9l6.0 6.0M1041.6 1536.9l6.0 -6.0M1040.3 1521.6h8.5M1044.6 1517.4v8.5M1041.6 1518.6l6.0 6.0M1041.6 1524.6l6.0 -6.0M1035.7 1526.6h8.5M1040.0 1522.3v8.5M1037.0 1523.5l6.0 6.0M1037.0 1529.6l6.0 -6.0M1049.6 1525.5h8.5M1053.8 1521.3v8.5M1050.8 1522.5l6.0 6.0M1050.8 1528.5l6.0 -6.0M1029.5 1523.5h8.5M1033.8 1519.2v8.5M1030.8 1520.4l6.0 6.0M1030.8 1526.5l6.0 -6.0M1044.8 1525.4h8.5M1049.0 1521.1v8.5M1046.0 1522.4l6.0 6.0M1046.0 1528.4l6.0 -6.0M1032.8 1530.3h8.5M1037.1 1526.0v8.5M1034.1 1527.3l6.0 6.0M1034.1 1533.3l6.0 -6.0M1046.9 1518.9h8.5M1051.1 1514.6v8.5M1048.1 1515.9l6.0 6.0M1048.1 1521.9l6.0 -6.0M1057.5 1508.0h8.5M1061.7 1503.7v8.5M1058.7 1505.0l6.0 6.0M1058.7 1511.0l6.0 -6.0M1066.0 1506.1h8.5M1070.3 1501.8v8.5M1067.3 1503.1l6.0 6.0M1067.3 1509.1l6.0 -6.0M1083.2 1503.6h8.5M1087.5 1499.3v8.5M1084.5 1500.6l6.0 6.0M1084.5 1506.6l6.0 -6.0M1123.6 1470.9h8.5M1127.8 1466.6v8.5M1124.8 1467.9l6.0 6.0M1124.8 1473.9l6.0 -6.0M1175.0 1433.7h8.5M1179.2 1429.4v8.5M1176.2 1430.7l6.0 6.0M1176.2 1436.7l6.0 -6.0M1201.6 1406.0h8.5M1205.9 1401.8v8.5M1202.9 1403.0l6.0 6.0M1202.9 1409.0l6.0 -6.0M1200.0 1409.8h8.5M1204.3 1405.6v8.5M1201.3 1406.8l6.0 6.0M1201.3 1412.8l6.0 -6.0M1193.0 1404.5h8.5M1197.3 1400.2v8.5M1194.3 1401.5l6.0 6.0M1194.3 1407.5l6.0 -6.0M1204.7 1403.1h8.5M1208.9 1398.8v8.5M1205.9 1400.1l6.0 6.0M1205.9 1406.1l6.0 -6.0M1197.9 1401.7h8.5M1202.1 1397.4v8.5M1199.1 1398.6l6.0 6.0M1199.1 1404.7l6.0 -6.0M1219.2 1400.5h8.5M1223.5 1396.3v8.5M1220.5 1397.5l6.0 6.0M1220.5 1403.5l6.0 -6.0M1203.4 1404.8h8.5M1207.6 1400.6v8.5M1204.6 1401.8l6.0 6.0M1204.6 1407.8l6.0 -6.0M1213.7 1402.7h8.5M1218.0 1398.5v8.5M1215.0 1399.7l6.0 6.0M1215.0 1405.7l6.0 -6.0M1211.9 1398.1h8.5M1216.1 1393.8v8.5M1213.1 1395.1l6.0 6.0M1213.1 1401.1l6.0 -6.0M1236.7 1400.5h8.5M1240.9 1396.2v8.5M1237.9 1397.5l6.0 6.0M1237.9 1403.5l6.0 -6.0M1209.9 1398.8h8.5M1214.1 1394.6v8.5M1211.1 1395.8l6.0 6.0M1211.1 1401.8l6.0 -6.0M1195.1 1398.8h8.5M1199.4 1394.5v8.5M1196.3 1395.8l6.0 6.0M1196.3 1401.8l6.0 -6.0M1208.8 1400.3h8.5M1213.0 1396.0v8.5M1210.0 1397.3l6.0 6.0M1210.0 1403.3l6.0 -6.0M1201.0 1396.1h8.5M1205.2 1391.9v8.5M1202.2 1393.1l6.0 6.0M1202.2 1399.1l6.0 -6.0M1222.4 1397.5h8.5M1226.6 1393.2v8.5M1223.6 1394.5l6.0 6.0M1223.6 1400.5l6.0 -6.0M1213.9 1390.4h8.5M1218.2 1386.1v8.5M1215.2 1387.4l6.0 6.0M1215.2 1393.4l6.0 -6.0M1238.3 1386.6h8.5M1242.6 1382.4v8.5M1239.6 1383.6l6.0 6.0M1239.6 1389.6l6.0 -6.0M1231.6 1398.6h8.5M1235.9 1394.4v8.5M1232.9 1395.6l6.0 6.0M1232.9 1401.6l6.0 -6.0M1237.0 1383.3h8.5M1241.3 1379.1v8.5M1238.3 1380.3l6.0 6.0M1238.3 1386.3l6.0 -6.0M1244.0 1383.6h8.5M1248.2 1379.4v8.5M1245.2 1380.6l6.0 6.0M1245.2 1386.6l6.0 -6.0M1243.0 1373.8h8.5M1247.2 1369.6v8.5M1244.2 1370.8l6.0 6.0M1244.2 1376.8l6.0 -6.0M1245.4 1374.1h8.5M1249.6 1369.9v8.5M1246.6 1371.1l6.0 6.0M1246.6 1377.1l6.0 -6.0M1251.4 1364.8h8.5M1255.7 1360.5v8.5M1252.7 1361.8l6.0 6.0M1252.7 1367.8l6.0 -6.0M1273.2 1369.6h8.5M1277.4 1365.4v8.5M1274.4 1366.6l6.0 6.0M1274.4 1372.6l6.0 -6.0M1279.3 1366.0h8.5M1283.6 1361.7v8.5M1280.5 1363.0l6.0 6.0M1280.5 1369.0l6.0 -6.0M1267.9 1362.4h8.5M1272.2 1358.1v8.5M1269.2 1359.4l6.0 6.0M1269.2 1365.4l6.0 -6.0M1271.9 1359.9h8.5M1276.2 1355.7v8.5M1273.2 1356.9l6.0 6.0M1273.2 1362.9l6.0 -6.0M1275.4 1355.0h8.5M1279.6 1350.7v8.5M1276.6 1352.0l6.0 6.0M1276.6 1358.0l6.0 -6.0M1282.8 1362.5h8.5M1287.1 1358.2v8.5M1284.1 1359.5l6.0 6.0M1284.1 1365.5l6.0 -6.0M1278.6 1352.5h8.5M1282.8 1348.2v8.5M1279.8 1349.4l6.0 6.0M1279.8 1355.5l6.0 -6.0M1288.3 1345.3h8.5M1292.5 1341.0v8.5M1289.5 1342.3l6.0 6.0M1289.5 1348.3l6.0 -6.0M1293.8 1343.8h8.5M1298.1 1339.5v8.5M1295.1 1340.8l6.0 6.0M1295.1 1346.8l6.0 -6.0M1293.0 1338.6h8.5M1297.2 1334.4v8.5M1294.2 1335.6l6.0 6.0M1294.2 1341.7l6.0 -6.0M1321.3 1336.7h8.5M1325.5 1332.5v8.5M1322.5 1333.7l6.0 6.0M1322.5 1339.7l6.0 -6.0M1298.0 1346.9h8.5M1302.3 1342.7v8.5M1299.3 1343.9l6.0 6.0M1299.3 1349.9l6.0 -6.0M1285.6 1343.2h8.5M1289.8 1338.9v8.5M1286.8 1340.2l6.0 6.0M1286.8 1346.2l6.0 -6.0M1294.2 1343.5h8.5M1298.5 1339.3v8.5M1295.4 1340.5l6.0 6.0M1295.4 1346.6l6.0 -6.0M1294.0 1343.7h8.5M1298.2 1339.5v8.5M1295.2 1340.7l6.0 6.0M1295.2 1346.7l6.0 -6.0M1304.5 1347.9h8.5M1308.8 1343.6v8.5M1305.7 1344.9l6.0 6.0M1305.7 1350.9l6.0 -6.0M1291.2 1346.0h8.5M1295.5 1341.7v8.5M1292.4 1343.0l6.0 6.0M1292.4 1349.0l6.0 -6.0M1297.8 1347.5h8.5M1302.0 1343.3v8.5M1299.0 1344.5l6.0 6.0M1299.0 1350.5l6.0 -6.0M1311.0 1332.0h8.5M1315.2 1327.7v8.5M1312.2 1329.0l6.0 6.0M1312.2 1335.0l6.0 -6.0M1306.5 1327.4h8.5M1310.8 1323.2v8.5M1307.7 1324.4l6.0 6.0M1307.7 1330.4l6.0 -6.0M1308.2 1329.5h8.5M1312.5 1325.2v8.5M1309.5 1326.5l6.0 6.0M1309.5 1332.5l6.0 -6.0M1320.5 1331.6h8.5M1324.8 1327.3v8.5M1321.8 1328.6l6.0 6.0M1321.8 1334.6l6.0 -6.0M1303.5 1328.3h8.5M1307.7 1324.0v8.5M1304.7 1325.3l6.0 6.0M1304.7 1331.3l6.0 -6.0M1309.6 1331.1h8.5M1313.9 1326.9v8.5M1310.8 1328.1l6.0 6.0M1310.8 1334.1l6.0 -6.0M1327.5 1332.1h8.5M1331.7 1327.9v8.5M1328.7 1329.1l6.0 6.0M1328.7 1335.1l6.0 -6.0M1324.3 1324.1h8.5M1328.6 1319.8v8.5M1325.6 1321.1l6.0 6.0M1325.6 1327.1l6.0 -6.0M1325.0 1325.7h8.5M1329.3 1321.5v8.5M1326.3 1322.7l6.0 6.0M1326.3 1328.7l6.0 -6.0M1315.9 1325.1h8.5M1320.2 1320.8v8.5M1317.2 1322.1l6.0 6.0M1317.2 1328.1l6.0 -6.0M1310.4 1327.4h8.5M1314.6 1323.1v8.5M1311.6 1324.4l6.0 6.0M1311.6 1330.4l6.0 -6.0M1328.7 1322.4h8.5M1333.0 1318.2v8.5M1330.0 1319.4l6.0 6.0M1330.0 1325.4l6.0 -6.0M1324.4 1317.0h8.5M1328.6 1312.8v8.5M1325.6 1314.0l6.0 6.0M1325.6 1320.0l6.0 -6.0M1344.2 1318.9h8.5M1348.5 1314.6v8.5M1345.5 1315.9l6.0 6.0M1345.5 1321.9l6.0 -6.0M1326.4 1320.5h8.5M1330.6 1316.2v8.5M1327.6 1317.4l6.0 6.0M1327.6 1323.5l6.0 -6.0M1333.3 1317.5h8.5M1337.5 1313.3v8.5M1334.5 1314.5l6.0 6.0M1334.5 1320.5l6.0 -6.0M1351.7 1315.4h8.5M1356.0 1311.1v8.5M1353.0 1312.4l6.0 6.0M1353.0 1318.4l6.0 -6.0M1352.1 1316.7h8.5M1356.3 1312.5v8.5M1353.3 1313.7l6.0 6.0M1353.3 1319.7l6.0 -6.0M1342.6 1311.6h8.5M1346.8 1307.3v8.5M1343.8 1308.6l6.0 6.0M1343.8 1314.6l6.0 -6.0M1342.9 1310.6h8.5M1347.1 1306.4v8.5M1344.1 1307.6l6.0 6.0M1344.1 1313.6l6.0 -6.0M1347.3 1308.4h8.5M1351.6 1304.2v8.5M1348.6 1305.4l6.0 6.0M1348.6 1311.4l6.0 -6.0M1356.5 1301.0h8.5M1360.8 1296.7v8.5M1357.8 1298.0l6.0 6.0M1357.8 1304.0l6.0 -6.0M1353.0 1307.3h8.5M1357.3 1303.1v8.5M1354.3 1304.3l6.0 6.0M1354.3 1310.3l6.0 -6.0M1351.4 1299.9h8.5M1355.7 1295.7v8.5M1352.7 1296.9l6.0 6.0M1352.7 1302.9l6.0 -6.0M1357.6 1297.0h8.5M1361.8 1292.7v8.5M1358.8 1294.0l6.0 6.0M1358.8 1300.0l6.0 -6.0M1362.9 1293.9h8.5M1367.2 1289.6v8.5M1364.2 1290.9l6.0 6.0M1364.2 1296.9l6.0 -6.0M1369.1 1298.9h8.5M1373.3 1294.7v8.5M1370.3 1295.9l6.0 6.0M1370.3 1301.9l6.0 -6.0M1368.9 1294.3h8.5M1373.1 1290.1v8.5M1370.1 1291.3l6.0 6.0M1370.1 1297.3l6.0 -6.0M1384.4 1284.5h8.5M1388.7 1280.3v8.5M1385.7 1281.5l6.0 6.0M1385.7 1287.5l6.0 -6.0M1383.7 1285.2h8.5M1388.0 1281.0v8.5M1384.9 1282.2l6.0 6.0M1384.9 1288.2l6.0 -6.0M1393.6 1280.6h8.5M1397.8 1276.4v8.5M1394.8 1277.6l6.0 6.0M1394.8 1283.6l6.0 -6.0M1404.7 1275.7h8.5M1409.0 1271.4v8.5M1406.0 1272.7l6.0 6.0M1406.0 1278.7l6.0 -6.0M1402.4 1262.0h8.5M1406.7 1257.7v8.5M1403.7 1259.0l6.0 6.0M1403.7 1265.0l6.0 -6.0M1413.9 1258.7h8.5M1418.1 1254.5v8.5M1415.1 1255.7l6.0 6.0M1415.1 1261.7l6.0 -6.0M1424.8 1247.9h8.5M1429.1 1243.7v8.5M1426.1 1244.9l6.0 6.0M1426.1 1250.9l6.0 -6.0M1441.1 1243.5h8.5M1445.4 1239.3v8.5M1442.4 1240.5l6.0 6.0M1442.4 1246.6l6.0 -6.0M1458.4 1239.4h8.5M1462.7 1235.1v8.5M1459.6 1236.4l6.0 6.0M1459.6 1242.4l6.0 -6.0M1432.7 1248.2h8.5M1436.9 1244.0v8.5M1433.9 1245.2l6.0 6.0M1433.9 1251.2l6.0 -6.0M1443.4 1250.8h8.5M1447.7 1246.5v8.5M1444.7 1247.8l6.0 6.0M1444.7 1253.8l6.0 -6.0M1470.5 1226.1h8.5M1474.8 1221.8v8.5M1471.8 1223.1l6.0 6.0M1471.8 1229.1l6.0 -6.0M1470.3 1226.8h8.5M1474.6 1222.5v8.5M1471.6 1223.8l6.0 6.0M1471.6 1229.8l6.0 -6.0M1408.1 1237.5h8.5M1412.4 1233.2v8.5M1409.4 1234.5l6.0 6.0M1409.4 1240.5l6.0 -6.0M1442.6 1216.6h8.5M1446.8 1212.4v8.5M1443.8 1213.6l6.0 6.0M1443.8 1219.6l6.0 -6.0M1459.8 1244.2h8.5M1464.0 1240.0v8.5M1461.0 1241.2l6.0 6.0M1461.0 1247.2l6.0 -6.0M1402.4 1258.7h8.5M1406.7 1254.5v8.5M1403.6 1255.7l6.0 6.0M1403.6 1261.7l6.0 -6.0M1410.6 1258.5h8.5M1414.9 1254.3v8.5M1411.9 1255.5l6.0 6.0M1411.9 1261.5l6.0 -6.0M1417.1 1255.2h8.5M1421.4 1250.9v8.5M1418.3 1252.2l6.0 6.0M1418.3 1258.2l6.0 -6.0M1417.8 1257.5h8.5M1422.0 1253.3v8.5M1419.0 1254.5l6.0 6.0M1419.0 1260.5l6.0 -6.0M1423.7 1250.8h8.5M1427.9 1246.5v8.5M1424.9 1247.8l6.0 6.0M1424.9 1253.8l6.0 -6.0M1442.1 1256.9h8.5M1446.4 1252.7v8.5M1443.4 1253.9l6.0 6.0M1443.4 1259.9l6.0 -6.0M1439.5 1246.8h8.5M1443.8 1242.5v8.5M1440.8 1243.8l6.0 6.0M1440.8 1249.8l6.0 -6.0M1438.8 1239.7h8.5M1443.0 1235.5v8.5M1440.0 1236.7l6.0 6.0M1440.0 1242.7l6.0 -6.0M1431.8 1244.2h8.5M1436.1 1239.9v8.5M1433.1 1241.2l6.0 6.0M1433.1 1247.2l6.0 -6.0M1428.0 1242.6h8.5M1432.3 1238.3v8.5M1429.3 1239.6l6.0 6.0M1429.3 1245.6l6.0 -6.0M1420.6 1249.0h8.5M1424.9 1244.7v8.5M1421.9 1246.0l6.0 6.0M1421.9 1252.0l6.0 -6.0M1412.2 1258.7h8.5M1416.4 1254.5v8.5M1413.4 1255.7l6.0 6.0M1413.4 1261.7l6.0 -6.0M1411.8 1250.9h8.5M1416.0 1246.6v8.5M1413.0 1247.9l6.0 6.0M1413.0 1253.9l6.0 -6.0M1409.7 1257.5h8.5M1413.9 1253.2v8.5M1410.9 1254.5l6.0 6.0M1410.9 1260.5l6.0 -6.0M1392.1 1263.9h8.5M1396.3 1259.6v8.5M1393.3 1260.9l6.0 6.0M1393.3 1266.9l6.0 -6.0M1412.6 1259.8h8.5M1416.8 1255.5v8.5M1413.8 1256.8l6.0 6.0M1413.8 1262.8l6.0 -6.0M1405.9 1265.9h8.5M1410.1 1261.6v8.5M1407.1 1262.9l6.0 6.0M1407.1 1268.9l6.0 -6.0M1419.7 1258.4h8.5M1424.0 1254.1v8.5M1420.9 1255.4l6.0 6.0M1420.9 1261.4l6.0 -6.0M1431.1 1229.1h8.5M1435.3 1224.8v8.5M1432.3 1226.1l6.0 6.0M1432.3 1232.1l6.0 -6.0M1478.0 1220.3h8.5M1482.3 1216.1v8.5M1479.3 1217.3l6.0 6.0M1479.3 1223.3l6.0 -6.0M1480.1 1213.1h8.5M1484.4 1208.9v8.5M1481.4 1210.1l6.0 6.0M1481.4 1216.1l6.0 -6.0M1444.7 1234.9h8.5M1449.0 1230.7v8.5M1446.0 1231.9l6.0 6.0M1446.0 1237.9l6.0 -6.0M1426.1 1239.6h8.5M1430.4 1235.4v8.5M1427.4 1236.6l6.0 6.0M1427.4 1242.7l6.0 -6.0M1432.8 1248.1h8.5M1437.0 1243.8v8.5M1434.0 1245.1l6.0 6.0M1434.0 1251.1l6.0 -6.0M1421.4 1240.9h8.5M1425.6 1236.6v8.5M1422.6 1237.9l6.0 6.0M1422.6 1243.9l6.0 -6.0M1424.8 1255.7h8.5M1429.0 1251.4v8.5M1426.0 1252.7l6.0 6.0M1426.0 1258.7l6.0 -6.0M1412.7 1250.5h8.5M1416.9 1246.3v8.5M1413.9 1247.5l6.0 6.0M1413.9 1253.6l6.0 -6.0M1412.7 1257.3h8.5M1416.9 1253.0v8.5M1413.9 1254.3l6.0 6.0M1413.9 1260.3l6.0 -6.0M1416.7 1264.0h8.5M1420.9 1259.7v8.5M1417.9 1261.0l6.0 6.0M1417.9 1267.0l6.0 -6.0M1408.7 1265.4h8.5M1412.9 1261.2v8.5M1409.9 1262.4l6.0 6.0M1409.9 1268.4l6.0 -6.0M1414.3 1260.1h8.5M1418.5 1255.8v8.5M1415.5 1257.1l6.0 6.0M1415.5 1263.1l6.0 -6.0M1415.0 1254.2h8.5M1419.3 1250.0v8.5M1416.3 1251.2l6.0 6.0M1416.3 1257.2l6.0 -6.0M1414.9 1261.4h8.5M1419.2 1257.1v8.5M1416.2 1258.4l6.0 6.0M1416.2 1264.4l6.0 -6.0M1413.4 1264.8h8.5M1417.7 1260.5v8.5M1414.7 1261.8l6.0 6.0M1414.7 1267.8l6.0 -6.0M1409.5 1258.6h8.5M1413.8 1254.4v8.5M1410.8 1255.6l6.0 6.0M1410.8 1261.6l6.0 -6.0M1415.7 1269.4h8.5M1420.0 1265.1v8.5M1417.0 1266.4l6.0 6.0M1417.0 1272.4l6.0 -6.0M1432.9 1251.5h8.5M1437.2 1247.3v8.5M1434.2 1248.5l6.0 6.0M1434.2 1254.5l6.0 -6.0M1442.0 1260.3h8.5M1446.3 1256.0v8.5M1443.3 1257.3l6.0 6.0M1443.3 1263.3l6.0 -6.0M1440.7 1249.9h8.5M1444.9 1245.7v8.5M1441.9 1246.9l6.0 6.0M1441.9 1252.9l6.0 -6.0M1403.1 1260.5h8.5M1407.4 1256.2v8.5M1404.4 1257.5l6.0 6.0M1404.4 1263.5l6.0 -6.0M1382.3 1273.6h8.5M1386.6 1269.4v8.5M1383.6 1270.6l6.0 6.0M1383.6 1276.6l6.0 -6.0M1368.1 1295.5h8.5M1372.4 1291.3v8.5M1369.4 1292.5l6.0 6.0M1369.4 1298.5l6.0 -6.0M1328.7 1318.8h8.5M1332.9 1314.5v8.5M1329.9 1315.8l6.0 6.0M1329.9 1321.8l6.0 -6.0M1300.1 1343.7h8.5M1304.3 1339.5v8.5M1301.3 1340.7l6.0 6.0M1301.3 1346.8l6.0 -6.0M1282.9 1361.5h8.5M1287.1 1357.2v8.5M1284.1 1358.5l6.0 6.0M1284.1 1364.5l6.0 -6.0M1260.4 1366.1h8.5M1264.7 1361.8v8.5M1261.7 1363.1l6.0 6.0M1261.7 1369.1l6.0 -6.0M1253.0 1372.4h8.5M1257.3 1368.2v8.5M1254.2 1369.4l6.0 6.0M1254.2 1375.4l6.0 -6.0M1237.3 1383.3h8.5M1241.6 1379.0v8.5M1238.6 1380.3l6.0 6.0M1238.6 1386.3l6.0 -6.0M1218.7 1402.6h8.5M1223.0 1398.4v8.5M1220.0 1399.6l6.0 6.0M1220.0 1405.6l6.0 -6.0M1189.7 1426.5h8.5M1194.0 1422.3v8.5M1191.0 1423.5l6.0 6.0M1191.0 1429.5l6.0 -6.0M1143.5 1453.7h8.5M1147.8 1449.4v8.5M1144.7 1450.7l6.0 6.0M1144.7 1456.7l6.0 -6.0M1093.1 1493.4h8.5M1097.4 1489.1v8.5M1094.4 1490.4l6.0 6.0M1094.4 1496.4l6.0 -6.0M1051.9 1515.2h8.5M1056.2 1510.9v8.5M1053.2 1512.2l6.0 6.0M1053.2 1518.2l6.0 -6.0M1040.7 1515.6h8.5M1044.9 1511.4v8.5M1041.9 1512.6l6.0 6.0M1041.9 1518.6l6.0 -6.0M1046.6 1514.8h8.5M1050.9 1510.5v8.5M1047.9 1511.8l6.0 6.0M1047.9 1517.8l6.0 -6.0M1051.9 1520.5h8.5M1056.1 1516.2v8.5M1053.1 1517.5l6.0 6.0M1053.1 1523.5l6.0 -6.0M1041.2 1514.7h8.5M1045.5 1510.4v8.5M1042.5 1511.7l6.0 6.0M1042.5 1517.7l6.0 -6.0M1054.0 1526.1h8.5M1058.3 1521.9v8.5M1055.3 1523.1l6.0 6.0M1055.3 1529.1l6.0 -6.0M1050.1 1515.5h8.5M1054.4 1511.3v8.5M1051.4 1512.5l6.0 6.0M1051.4 1518.5l6.0 -6.0M1041.8 1515.8h8.5M1046.0 1511.6v8.5M1043.0 1512.8l6.0 6.0M1043.0 1518.8l6.0 -6.0M1048.1 1521.0h8.5M1052.4 1516.7v8.5M1049.4 1518.0l6.0 6.0M1049.4 1524.0l6.0 -6.0M1403.8 1201.6h8.5M1408.1 1197.3v8.5M1405.1 1198.6l6.0 6.0M1405.1 1204.6l6.0 -6.0M1388.2 1233.2h8.5M1392.5 1229.0v8.5M1389.5 1230.2l6.0 6.0M1389.5 1236.2l6.0 -6.0M1394.3 1223.7h8.5M1398.6 1219.5v8.5M1395.6 1220.7l6.0 6.0M1395.6 1226.7l6.0 -6.0M1400.8 1225.7h8.5M1405.1 1221.5v8.5M1402.1 1222.7l6.0 6.0M1402.1 1228.7l6.0 -6.0M1407.8 1222.2h8.5M1412.1 1218.0v8.5M1409.1 1219.2l6.0 6.0M1409.1 1225.2l6.0 -6.0M1403.3 1213.6h8.5M1407.6 1209.3v8.5M1404.6 1210.6l6.0 6.0M1404.6 1216.6l6.0 -6.0M1408.8 1212.1h8.5M1413.1 1207.8v8.5M1410.1 1209.1l6.0 6.0M1410.1 1215.1l6.0 -6.0M1413.3 1211.6h8.5M1417.6 1207.3v8.5M1414.6 1208.6l6.0 6.0M1414.6 1214.6l6.0 -6.0M1413.3 1218.1h8.5M1417.6 1213.8v8.5M1414.6 1215.1l6.0 6.0M1414.6 1221.1l6.0 -6.0M1419.5 1217.6h8.5M1423.7 1213.3v8.5M1420.7 1214.6l6.0 6.0M1420.7 1220.6l6.0 -6.0M1424.5 1223.2h8.5M1428.7 1219.0v8.5M1425.7 1220.2l6.0 6.0M1425.7 1226.2l6.0 -6.0M1429.2 1211.3h8.5M1433.4 1207.0v8.5M1430.4 1208.3l6.0 6.0M1430.4 1214.3l6.0 -6.0M1435.0 1219.6h8.5M1439.2 1215.3v8.5M1436.2 1216.6l6.0 6.0M1436.2 1222.6l6.0 -6.0M1450.0 1217.1h8.5M1454.3 1212.8v8.5M1451.3 1214.1l6.0 6.0M1451.3 1220.1l6.0 -6.0M1456.0 1212.6h8.5M1460.3 1208.3v8.5M1457.3 1209.6l6.0 6.0M1457.3 1215.6l6.0 -6.0M1464.8 1198.9h8.5M1469.1 1194.7v8.5M1466.1 1195.9l6.0 6.0M1466.1 1201.9l6.0 -6.0M1469.2 1208.6h8.5M1473.4 1204.3v8.5M1470.4 1205.6l6.0 6.0M1470.4 1211.6l6.0 -6.0M1483.7 1214.1h8.5M1487.9 1209.8v8.5M1484.9 1211.1l6.0 6.0M1484.9 1217.1l6.0 -6.0M1497.2 1204.6h8.5M1501.5 1200.3v8.5M1498.5 1201.6l6.0 6.0M1498.5 1207.6l6.0 -6.0M1503.8 1200.1h8.5M1508.0 1195.8v8.5M1505.0 1197.1l6.0 6.0M1505.0 1203.1l6.0 -6.0M1471.8 1218.0h8.5M1476.0 1213.8v8.5M1473.0 1215.0l6.0 6.0M1473.0 1221.0l6.0 -6.0M1474.8 1221.0h8.5M1479.0 1216.8v8.5M1476.0 1218.0l6.0 6.0M1476.0 1224.0l6.0 -6.0M1476.8 1223.0h8.5M1481.0 1218.8v8.5M1478.0 1220.0l6.0 6.0M1478.0 1226.0l6.0 -6.0M1472.8 1222.0h8.5M1477.0 1217.8v8.5M1474.0 1219.0l6.0 6.0M1474.0 1225.0l6.0 -6.0M1455.0 1234.2h8.5M1459.3 1230.0v8.5M1456.3 1231.2l6.0 6.0M1456.3 1237.2l6.0 -6.0M1461.0 1229.2h8.5M1465.3 1225.0v8.5M1462.3 1226.2l6.0 6.0M1462.3 1232.2l6.0 -6.0M1466.0 1229.2h8.5M1470.3 1225.0v8.5M1467.3 1226.2l6.0 6.0M1467.3 1232.2l6.0 -6.0M1442.0 1241.2h8.5M1446.2 1237.0v8.5M1443.2 1238.2l6.0 6.0M1443.2 1244.2l6.0 -6.0M1449.5 1246.2h8.5M1453.8 1242.0v8.5M1450.8 1243.2l6.0 6.0M1450.8 1249.2l6.0 -6.0M1396.8 1247.3h8.5M1401.1 1243.0v8.5M1398.1 1244.3l6.0 6.0M1398.1 1250.3l6.0 -6.0" fill="none" stroke="#000" stroke-width="1.0"/>
<path d="M998.7 1559.7L1531.7 1172.3" stroke="#1567b4" stroke-width="4.6" fill="none"/>
<path d="M980.3 1162.9H1567.6M980.3 1570.9H1567.6" fill="none" stroke="#3a3a3a" stroke-width="1.1"/>
<path d="M980.3 1162.4V1571.4M1567.6 1162.4V1571.4" fill="none" stroke="#505050" stroke-width="1.1"/>
<path d="M980.3 1570.9v-7.0M980.3 1162.9v7.0M1097.7 1570.9v-7.0M1097.7 1162.9v7.0M1215.1 1570.9v-7.0M1215.1 1162.9v7.0M1332.5 1570.9v-7.0M1332.5 1162.9v7.0M1449.9 1570.9v-7.0M1449.9 1162.9v7.0M1567.3 1570.9v-7.0M1567.3 1162.9v7.0M980.3 1570.5h7.0M1567.6 1570.5h-7.0M980.3 1489.0h7.0M1567.6 1489.0h-7.0M980.3 1407.6h7.0M1567.6 1407.6h-7.0M980.3 1326.2h7.0M1567.6 1326.2h-7.0M980.3 1244.7h7.0M1567.6 1244.7h-7.0M980.3 1163.2h7.0M1567.6 1163.2h-7.0" stroke="#505050" stroke-width="1" fill="none"/>
<text x="980.3" y="1606.5" text-anchor="middle" font-size="26.0" fill="#262626" stroke="#262626">-0.1</text>
<text x="1097.7" y="1606.5" text-anchor="middle" font-size="26.0" fill="#262626" stroke="#262626">0.1</text>
<text x="1215.1" y="1606.5" text-anchor="middle" font-size="26.0" fill="#262626" stroke="#262626">0.3</text>
<text x="1332.5" y="1606.5" text-anchor="middle" font-size="26.0" fill="#262626" stroke="#262626">0.5</text>
<text x="1449.9" y="1606.5" text-anchor="middle" font-size="26.0" fill="#262626" stroke="#262626">0.7</text>
<text x="1567.3" y="1606.5" text-anchor="middle" font-size="26.0" fill="#262626" stroke="#262626">0.9</text>
<text x="971.3" y="1581.0" text-anchor="end" font-size="26.0" fill="#262626" stroke="#262626">-0.1</text>
<text x="971.3" y="1499.5" text-anchor="end" font-size="26.0" fill="#262626" stroke="#262626">0.1</text>
<text x="971.3" y="1418.1" text-anchor="end" font-size="26.0" fill="#262626" stroke="#262626">0.3</text>
<text x="971.3" y="1336.7" text-anchor="end" font-size="26.0" fill="#262626" stroke="#262626">0.5</text>
<text x="971.3" y="1255.2" text-anchor="end" font-size="26.0" fill="#262626" stroke="#262626">0.7</text>
<text x="971.3" y="1173.8" text-anchor="end" font-size="26.0" fill="#262626" stroke="#262626">0.9</text>
<text x="1272.0" y="1643.0" text-anchor="middle" font-size="28.5" fill="#262626" stroke="#262626">SNR2 /m</text>
<text transform="translate(915.5 1367.0) rotate(-90)" text-anchor="middle" font-size="28.5" fill="#262626" stroke="#262626">SNR combination /m</text>
<text x="1019.8" y="1231.4" font-size="26.2" fill="#000" stroke="#000">R<tspan dy="-12.5" font-size="20.5">2</tspan><tspan dy="12.5">=0.99</tspan></text>
<text x="844.6" y="1705.5" text-anchor="middle" font-family='"Liberation Serif", "DejaVu Serif", serif' font-size="35.6" word-spacing="0.9px" fill="#231815" stroke="#231815" xml:space="preserve">( c )</text>
<path d="M142.5 2147.0L202.5 2147.0V2151.8H142.5Z" fill="#808080"/>
<path d="M222.5 2147.0L362.5 2147.0V2151.8H222.5Z" fill="#808080"/>
<path d="M402.5 2147.0L462.5 2147.0V2151.8H402.5Z" fill="#808080"/>
<rect x="122.50" y="2147.0" width="20.00" height="6.3" fill="#808080"/>
<rect x="202.50" y="2147.0" width="20.00" height="6.3" fill="#808080"/>
<rect x="362.50" y="2147.0" width="20.00" height="6.3" fill="#808080"/>
<rect x="382.50" y="2147.0" width="20.00" height="6.3" fill="#808080"/>
<rect x="462.50" y="2147.0" width="20.00" height="6.3" fill="#808080"/>
<rect x="482.50" y="2127.7" width="20.00" height="25.6" fill="#808080"/>
<rect x="502.50" y="2093.8" width="20.00" height="59.5" fill="#808080"/>
<rect x="522.50" y="2059.4" width="20.00" height="93.9" fill="#808080"/>
<rect x="542.50" y="1864.7" width="20.00" height="288.6" fill="#808080"/>
<rect x="562.50" y="2059.4" width="20.00" height="93.9" fill="#808080"/>
<rect x="582.50" y="1879.3" width="20.00" height="274.0" fill="#808080"/>
<rect x="602.50" y="1777.1" width="20.00" height="376.2" fill="#808080"/>
<rect x="622.50" y="2020.5" width="20.00" height="132.8" fill="#808080"/>
<rect x="642.50" y="2142.3" width="20.00" height="11.0" fill="#808080"/>
<rect x="662.50" y="2142.3" width="20.00" height="11.0" fill="#808080"/>
<rect x="682.50" y="2146.5" width="20.00" height="6.8" fill="#808080"/>
<rect x="702.50" y="2142.3" width="20.00" height="11.0" fill="#808080"/>
<path d="M122.50 2153.3V2147.0H142.50V2153.3M140.35 2151.8H164.65M160.35 2151.8H184.65M180.35 2151.8H204.65M202.50 2153.3V2147.0H222.50V2153.3M220.35 2151.8H244.65M240.35 2151.8H264.65M260.35 2151.8H284.65M280.35 2151.8H304.65M300.35 2151.8H324.65M320.35 2151.8H344.65M340.35 2151.8H364.65M362.50 2153.3V2147.0H382.50V2153.3M382.50 2153.3V2147.0H402.50V2153.3M400.35 2151.8H424.65M420.35 2151.8H444.65M440.35 2151.8H464.65M462.50 2153.3V2147.0H482.50V2153.3M482.50 2153.3V2127.7H502.50V2153.3M502.50 2153.3V2093.8H522.50V2153.3M522.50 2153.3V2059.4H542.50V2153.3M542.50 2153.3V1864.7H562.50V2153.3M562.50 2153.3V2059.4H582.50V2153.3M582.50 2153.3V1879.3H602.50V2153.3M602.50 2153.3V1777.1H622.50V2153.3M622.50 2153.3V2020.5H642.50V2153.3M642.50 2153.3V2142.3H662.50V2153.3M662.50 2153.3V2142.3H682.50V2153.3M682.50 2153.3V2146.5H702.50V2153.3M702.50 2153.3V2142.3H722.50V2153.3" fill="none" stroke="#ffff00" stroke-width="4.3" stroke-linejoin="miter"/>
<path d="M109.6 1774.5H743.9M109.6 2153.9H743.9" fill="none" stroke="#3a3a3a" stroke-width="1.1"/>
<path d="M109.6 1774.0V2154.4M743.9 1774.0V2154.4" fill="none" stroke="#505050" stroke-width="1.1"/>
<path d="M203.3 2153.9v-7.0M203.3 1774.5v7.0M297.4 2153.9v-7.0M297.4 1774.5v7.0M391.5 2153.9v-7.0M391.5 1774.5v7.0M485.5 2153.9v-7.0M485.5 1774.5v7.0M579.6 2153.9v-7.0M579.6 1774.5v7.0M673.7 2153.9v-7.0M673.7 1774.5v7.0M109.6 2151.8h7.0M743.9 2151.8h-7.0M109.6 2082.4h7.0M743.9 2082.4h-7.0M109.6 2012.9h7.0M743.9 2012.9h-7.0M109.6 1943.5h7.0M743.9 1943.5h-7.0M109.6 1874.0h7.0M743.9 1874.0h-7.0M109.6 1804.6h7.0M743.9 1804.6h-7.0" stroke="#505050" stroke-width="1" fill="none"/>
<text x="203.3" y="2191.4" text-anchor="middle" font-size="27.7" fill="#000" stroke="#000">-0.16</text>
<text x="297.4" y="2191.4" text-anchor="middle" font-size="27.7" fill="#000" stroke="#000">-0.12</text>
<text x="391.5" y="2191.4" text-anchor="middle" font-size="27.7" fill="#000" stroke="#000">-0.08</text>
<text x="485.5" y="2191.4" text-anchor="middle" font-size="27.7" fill="#000" stroke="#000">-0.04</text>
<text x="579.6" y="2191.4" text-anchor="middle" font-size="27.7" fill="#000" stroke="#000">0</text>
<text x="673.7" y="2191.4" text-anchor="middle" font-size="27.7" fill="#000" stroke="#000">0.04</text>
<text x="100.6" y="2162.8" text-anchor="end" font-size="27.7" fill="#000" stroke="#000">0</text>
<text x="100.6" y="2093.4" text-anchor="end" font-size="27.7" fill="#000" stroke="#000">0.05</text>
<text x="100.6" y="2023.9" text-anchor="end" font-size="27.7" fill="#000" stroke="#000">0.1</text>
<text x="100.6" y="1954.5" text-anchor="end" font-size="27.7" fill="#000" stroke="#000">0.15</text>
<text x="100.6" y="1885.0" text-anchor="end" font-size="27.7" fill="#000" stroke="#000">0.2</text>
<text x="100.6" y="1815.6" text-anchor="end" font-size="27.7" fill="#000" stroke="#000">0.25</text>
<text x="426.5" y="1762.9" text-anchor="middle" font-size="30.5" fill="#000" stroke="#000">SNR2</text>
<text x="426.5" y="2230.7" text-anchor="middle" font-size="30.5" fill="#000" stroke="#000">Residual /m</text>
<text transform="translate(34.3 1964.2) rotate(-90)" text-anchor="middle" font-size="30.5" fill="#000" stroke="#000">Percentage</text>
<text x="109.6" y="2191.4" text-anchor="middle" font-size="27.7" fill="#000" stroke="#000">-0.2</text>
<text x="743.9" y="2191.4" text-anchor="middle" font-size="27.7" fill="#000" stroke="#000">0.07</text>
<path d="M977.2 2146.5L995.8 2146.5V2150.8H977.2Z" fill="#808080"/>
<path d="M1014.4 2146.5L1125.7 2146.5V2150.8H1014.4Z" fill="#808080"/>
<path d="M1441.0 2146.5L1478.1 2146.5V2150.8H1441.0Z" fill="#808080"/>
<rect x="958.70" y="2146.5" width="18.55" height="5.8" fill="#808080"/>
<rect x="995.80" y="2146.5" width="18.55" height="5.8" fill="#808080"/>
<rect x="1125.65" y="2146.5" width="18.55" height="5.8" fill="#808080"/>
<rect x="1144.20" y="2146.5" width="18.55" height="5.8" fill="#808080"/>
<rect x="1162.75" y="2146.5" width="18.55" height="5.8" fill="#808080"/>
<rect x="1181.30" y="2121.4" width="18.55" height="30.9" fill="#808080"/>
<rect x="1199.85" y="2101.4" width="18.55" height="50.9" fill="#808080"/>
<rect x="1218.40" y="2125.7" width="18.55" height="26.6" fill="#808080"/>
<rect x="1236.95" y="2134.5" width="18.55" height="17.8" fill="#808080"/>
<rect x="1255.50" y="2134.5" width="18.55" height="17.8" fill="#808080"/>
<rect x="1274.05" y="2083.8" width="18.55" height="68.5" fill="#808080"/>
<rect x="1292.60" y="1987.7" width="18.55" height="164.6" fill="#808080"/>
<rect x="1311.15" y="1777.6" width="18.55" height="374.7" fill="#808080"/>
<rect x="1329.70" y="1886.8" width="18.55" height="265.5" fill="#808080"/>
<rect x="1348.25" y="2025.3" width="18.55" height="127.0" fill="#808080"/>
<rect x="1366.80" y="2134.5" width="18.55" height="17.8" fill="#808080"/>
<rect x="1385.35" y="2139.0" width="18.55" height="13.3" fill="#808080"/>
<rect x="1403.90" y="2146.5" width="18.55" height="5.8" fill="#808080"/>
<rect x="1422.45" y="2146.5" width="18.55" height="5.8" fill="#808080"/>
<rect x="1478.10" y="2146.5" width="18.55" height="5.8" fill="#808080"/>
<rect x="1496.65" y="2146.5" width="18.55" height="5.8" fill="#808080"/>
<path d="M958.70 2152.3V2146.5H977.25V2152.3M975.10 2150.8H997.95M995.80 2152.3V2146.5H1014.35V2152.3M1012.20 2150.8H1035.05M1030.75 2150.8H1053.60M1049.30 2150.8H1072.15M1067.85 2150.8H1090.70M1086.40 2150.8H1109.25M1104.95 2150.8H1127.80M1125.65 2152.3V2146.5H1144.20V2152.3M1144.20 2152.3V2146.5H1162.75V2152.3M1162.75 2152.3V2146.5H1181.30V2152.3M1181.30 2152.3V2121.4H1199.85V2152.3M1199.85 2152.3V2101.4H1218.40V2152.3M1218.40 2152.3V2125.7H1236.95V2152.3M1236.95 2152.3V2134.5H1255.50V2152.3M1255.50 2152.3V2134.5H1274.05V2152.3M1274.05 2152.3V2083.8H1292.60V2152.3M1292.60 2152.3V1987.7H1311.15V2152.3M1311.15 2152.3V1777.6H1329.70V2152.3M1329.70 2152.3V1886.8H1348.25V2152.3M1348.25 2152.3V2025.3H1366.80V2152.3M1366.80 2152.3V2134.5H1385.35V2152.3M1385.35 2152.3V2139.0H1403.90V2152.3M1403.90 2152.3V2146.5H1422.45V2152.3M1422.45 2152.3V2146.5H1441.00V2152.3M1438.85 2150.8H1461.70M1457.40 2150.8H1480.25M1478.10 2152.3V2146.5H1496.65V2152.3M1496.65 2152.3V2146.5H1515.20V2152.3" fill="none" stroke="#ffff00" stroke-width="4.3" stroke-linejoin="miter"/>
<path d="M937.4 1774.5H1570.4M937.4 2153.9H1570.4" fill="none" stroke="#3a3a3a" stroke-width="1.1"/>
<path d="M937.4 1774.0V2154.4M1570.4 1774.0V2154.4" fill="none" stroke="#505050" stroke-width="1.1"/>
<path d="M1021.7 2153.9v-7.0M1021.7 1774.5v7.0M1106.2 2153.9v-7.0M1106.2 1774.5v7.0M1190.7 2153.9v-7.0M1190.7 1774.5v7.0M1275.2 2153.9v-7.0M1275.2 1774.5v7.0M1359.7 2153.9v-7.0M1359.7 1774.5v7.0M1444.2 2153.9v-7.0M1444.2 1774.5v7.0M1528.7 2153.9v-7.0M1528.7 1774.5v7.0M937.4 2150.8h7.0M1570.4 2150.8h-7.0M937.4 2030.8h7.0M1570.4 2030.8h-7.0M937.4 1910.8h7.0M1570.4 1910.8h-7.0M937.4 1790.8h7.0M1570.4 1790.8h-7.0" stroke="#505050" stroke-width="1" fill="none"/>
<text x="1021.7" y="2191.4" text-anchor="middle" font-size="27.7" fill="#000" stroke="#000">-0.06</text>
<text x="1106.2" y="2191.4" text-anchor="middle" font-size="27.7" fill="#000" stroke="#000">-0.04</text>
<text x="1190.7" y="2191.4" text-anchor="middle" font-size="27.7" fill="#000" stroke="#000">-0.02</text>
<text x="1275.2" y="2191.4" text-anchor="middle" font-size="27.7" fill="#000" stroke="#000">0</text>
<text x="1359.7" y="2191.4" text-anchor="middle" font-size="27.7" fill="#000" stroke="#000">0.02</text>
<text x="1444.2" y="2191.4" text-anchor="middle" font-size="27.7" fill="#000" stroke="#000">0.04</text>
<text x="1528.7" y="2191.4" text-anchor="middle" font-size="27.7" fill="#000" stroke="#000">0.06</text>
<text x="928.4" y="2161.8" text-anchor="end" font-size="27.7" fill="#000" stroke="#000">0</text>
<text x="928.4" y="2041.8" text-anchor="end" font-size="27.7" fill="#000" stroke="#000">0.1</text>
<text x="928.4" y="1921.8" text-anchor="end" font-size="27.7" fill="#000" stroke="#000">0.2</text>
<text x="928.4" y="1801.8" text-anchor="end" font-size="27.7" fill="#000" stroke="#000">0.3</text>
<text x="1253.5" y="1762.9" text-anchor="middle" font-size="30.5" fill="#000" stroke="#000">SNR combination</text>
<text x="1253.5" y="2230.7" text-anchor="middle" font-size="30.5" fill="#000" stroke="#000">Residual /m</text>
<text transform="translate(877.0 1964.2) rotate(-90)" text-anchor="middle" font-size="30.5" fill="#000" stroke="#000">Percentage</text>
<text x="937.4" y="2191.4" text-anchor="middle" font-size="27.7" fill="#000" stroke="#000">-0.08</text>
<text x="846.6" y="2290.0" text-anchor="middle" font-family='"Liberation Serif", "DejaVu Serif", serif' font-size="35.6" word-spacing="0.9px" fill="#231815" stroke="#231815" xml:space="preserve">( d )</text>
</svg>
</body></html>
